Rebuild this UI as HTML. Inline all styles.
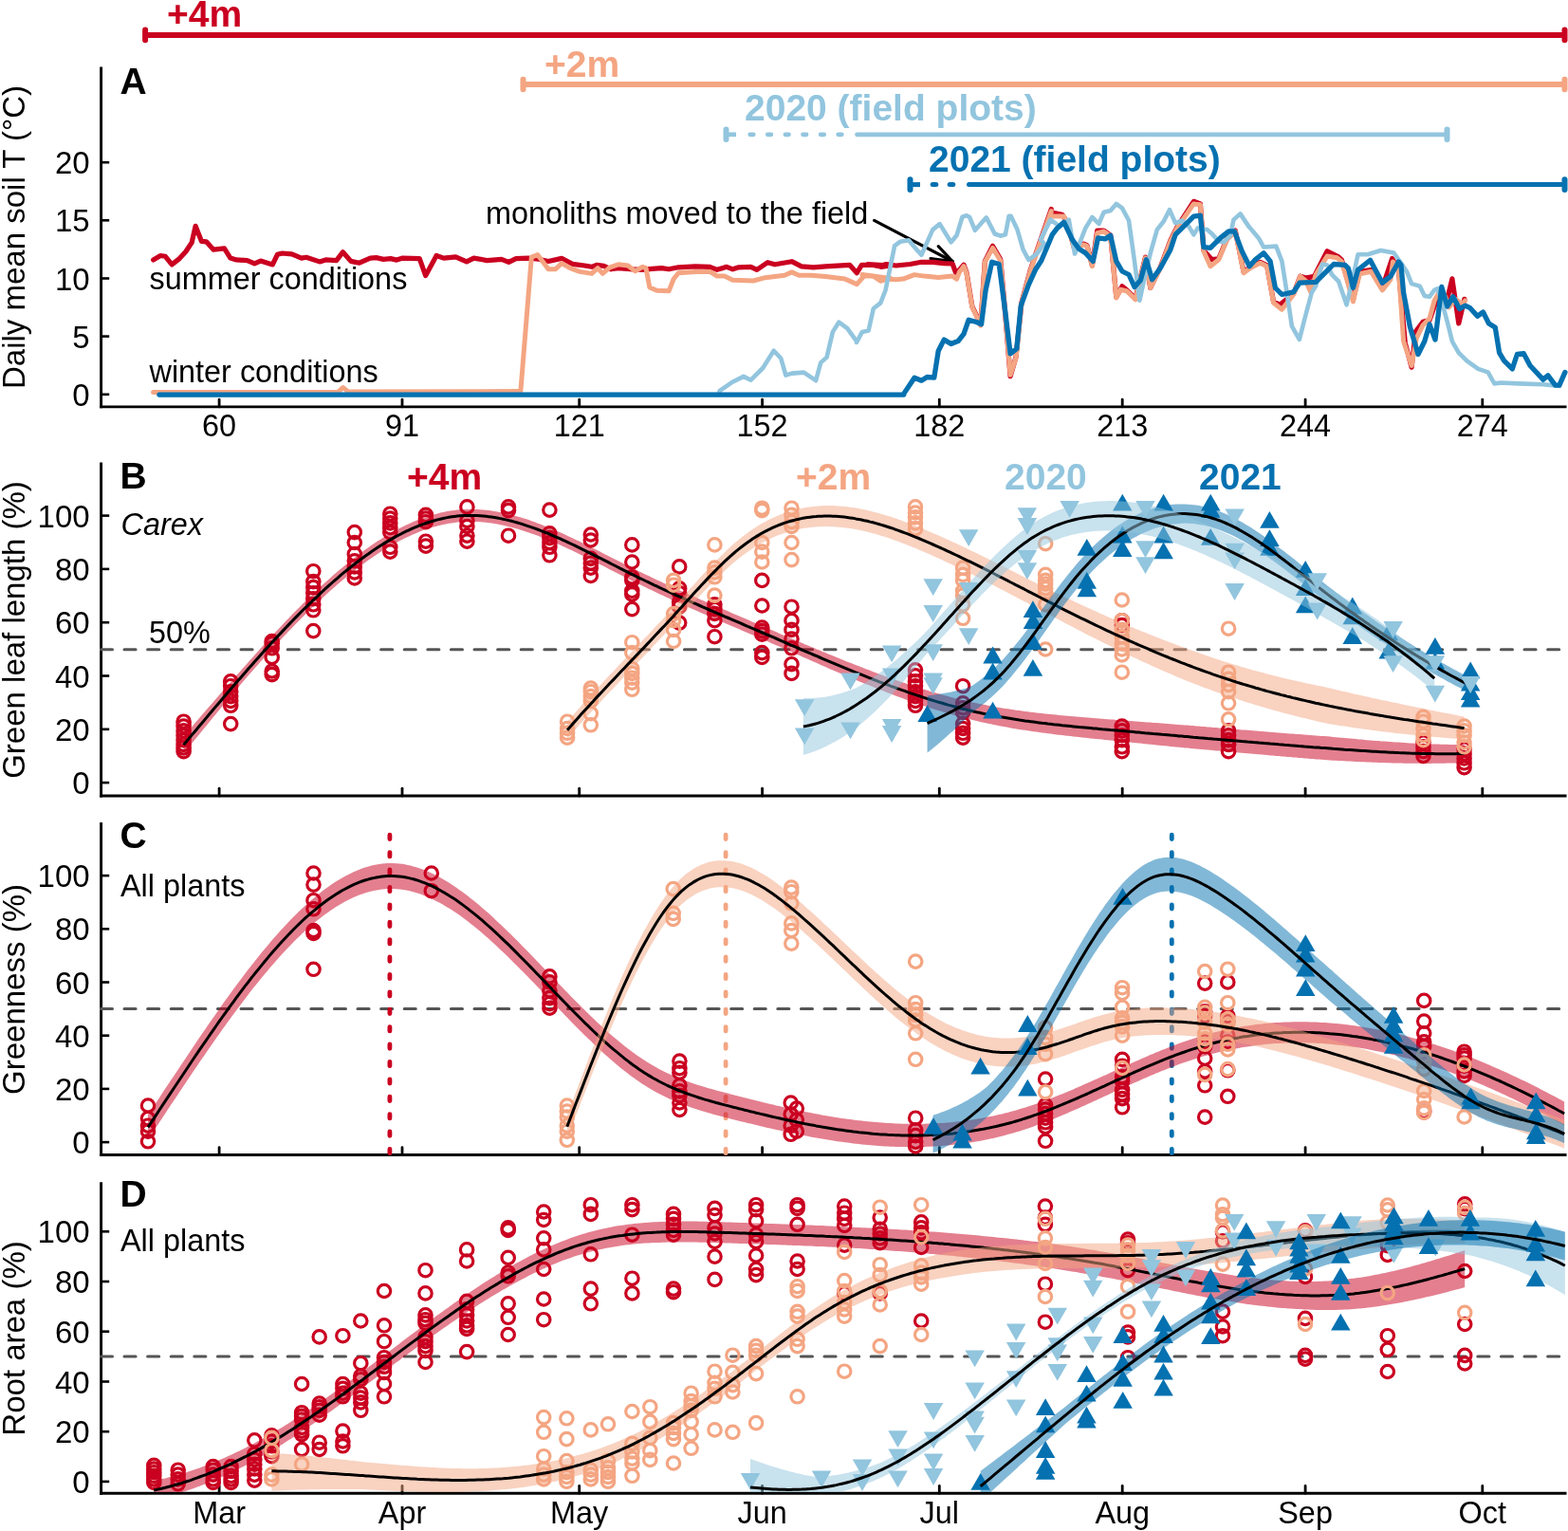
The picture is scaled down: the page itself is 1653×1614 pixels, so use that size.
<!DOCTYPE html>
<html><head><meta charset="utf-8"><title>Figure</title>
<style>html,body{margin:0;padding:0;background:#fff;}svg{display:block;}</style></head>
<body>
<svg width="1653" height="1614" viewBox="0 0 1653 1614" font-family='"Liberation Sans", Arial, Helvetica, sans-serif'>
<rect width="100%" height="100%" fill="#fff"/>
<defs><clipPath id="cB"><rect x="108" y="480" width="1545" height="358"/></clipPath><clipPath id="cC"><rect x="108" y="860" width="1545" height="356"/></clipPath><clipPath id="cD"><rect x="108" y="1240" width="1545" height="333"/></clipPath></defs>
<line x1="153.1" y1="36.9" x2="1649.5" y2="36.9" stroke="#CA0020" stroke-width="6"/>
<line x1="153.1" y1="31.599999999999998" x2="153.1" y2="42.2" stroke="#CA0020" stroke-width="6" stroke-linecap="round"/>
<line x1="1649.5" y1="31.599999999999998" x2="1649.5" y2="42.2" stroke="#CA0020" stroke-width="6" stroke-linecap="round"/>
<line x1="551.5" y1="89.0" x2="1649.5" y2="89.0" stroke="#F4A582" stroke-width="6"/>
<line x1="551.5" y1="83.7" x2="551.5" y2="94.3" stroke="#F4A582" stroke-width="6" stroke-linecap="round"/>
<line x1="1649.5" y1="83.7" x2="1649.5" y2="94.3" stroke="#F4A582" stroke-width="6" stroke-linecap="round"/>
<line x1="765.5" y1="141.8" x2="776" y2="141.8" stroke="#92C5DE" stroke-width="4.7"/>
<line x1="790.7" y1="141.8" x2="794.3" y2="141.8" stroke="#92C5DE" stroke-width="4.7" stroke-linecap="round"/>
<line x1="809.3000000000001" y1="141.8" x2="812.9" y2="141.8" stroke="#92C5DE" stroke-width="4.7" stroke-linecap="round"/>
<line x1="827.9000000000001" y1="141.8" x2="831.5" y2="141.8" stroke="#92C5DE" stroke-width="4.7" stroke-linecap="round"/>
<line x1="846.5" y1="141.8" x2="850.0999999999999" y2="141.8" stroke="#92C5DE" stroke-width="4.7" stroke-linecap="round"/>
<line x1="865.1" y1="141.8" x2="868.6999999999999" y2="141.8" stroke="#92C5DE" stroke-width="4.7" stroke-linecap="round"/>
<line x1="883.7" y1="141.8" x2="887.3" y2="141.8" stroke="#92C5DE" stroke-width="4.7" stroke-linecap="round"/>
<line x1="903.5" y1="141.8" x2="1525.5" y2="141.8" stroke="#92C5DE" stroke-width="4.7" stroke-linecap="round"/>
<line x1="765.5" y1="136.5" x2="765.5" y2="147.10000000000002" stroke="#92C5DE" stroke-width="6" stroke-linecap="round"/>
<line x1="1525.5" y1="136.5" x2="1525.5" y2="147.10000000000002" stroke="#92C5DE" stroke-width="6" stroke-linecap="round"/>
<line x1="959.5" y1="194.6" x2="970" y2="194.6" stroke="#0571B0" stroke-width="5"/>
<line x1="983.2" y1="194.6" x2="986.8" y2="194.6" stroke="#0571B0" stroke-width="5" stroke-linecap="round"/>
<line x1="1001.2" y1="194.6" x2="1004.8" y2="194.6" stroke="#0571B0" stroke-width="5" stroke-linecap="round"/>
<line x1="1021.5" y1="194.6" x2="1649.5" y2="194.6" stroke="#0571B0" stroke-width="5" stroke-linecap="round"/>
<line x1="959.5" y1="189.29999999999998" x2="959.5" y2="199.9" stroke="#0571B0" stroke-width="6" stroke-linecap="round"/>
<line x1="1649.5" y1="189.29999999999998" x2="1649.5" y2="199.9" stroke="#0571B0" stroke-width="6" stroke-linecap="round"/>
<text x="176" y="28.4" font-size="39" font-weight="bold" text-anchor="start" fill="#CA0020">+4m</text>
<text x="574" y="81.1" font-size="39" font-weight="bold" text-anchor="start" fill="#F4A582">+2m</text>
<text x="785" y="127.3" font-size="39" font-weight="bold" text-anchor="start" fill="#92C5DE">2020 (field plots)</text>
<text x="979" y="180.5" font-size="39" font-weight="bold" text-anchor="start" fill="#0571B0">2021 (field plots)</text>
<line x1="106.6" y1="70.5" x2="106.6" y2="430.34999999999997" stroke="#000" stroke-width="2.9"/>
<line x1="105.14999999999999" y1="428.9" x2="1651.5" y2="428.9" stroke="#000" stroke-width="2.9"/>
<line x1="106.6" y1="415.8" x2="115.2" y2="415.8" stroke="#000" stroke-width="2.6"/>
<text x="94.6" y="427.8" font-size="33" font-weight="normal" text-anchor="end" fill="#000">0</text>
<line x1="106.6" y1="354.6" x2="115.2" y2="354.6" stroke="#000" stroke-width="2.6"/>
<text x="94.6" y="366.6" font-size="33" font-weight="normal" text-anchor="end" fill="#000">5</text>
<line x1="106.6" y1="293.5" x2="115.2" y2="293.5" stroke="#000" stroke-width="2.6"/>
<text x="94.6" y="305.5" font-size="33" font-weight="normal" text-anchor="end" fill="#000">10</text>
<line x1="106.6" y1="232.3" x2="115.2" y2="232.3" stroke="#000" stroke-width="2.6"/>
<text x="94.6" y="244.3" font-size="33" font-weight="normal" text-anchor="end" fill="#000">15</text>
<line x1="106.6" y1="171.2" x2="115.2" y2="171.2" stroke="#000" stroke-width="2.6"/>
<text x="94.6" y="183.2" font-size="33" font-weight="normal" text-anchor="end" fill="#000">20</text>
<line x1="231.1" y1="428.9" x2="231.1" y2="421.09999999999997" stroke="#000" stroke-width="2.8" stroke-linecap="round"/>
<line x1="424" y1="428.9" x2="424" y2="421.09999999999997" stroke="#000" stroke-width="2.8" stroke-linecap="round"/>
<line x1="610.7" y1="428.9" x2="610.7" y2="421.09999999999997" stroke="#000" stroke-width="2.8" stroke-linecap="round"/>
<line x1="803.6" y1="428.9" x2="803.6" y2="421.09999999999997" stroke="#000" stroke-width="2.8" stroke-linecap="round"/>
<line x1="990.3" y1="428.9" x2="990.3" y2="421.09999999999997" stroke="#000" stroke-width="2.8" stroke-linecap="round"/>
<line x1="1183.2" y1="428.9" x2="1183.2" y2="421.09999999999997" stroke="#000" stroke-width="2.8" stroke-linecap="round"/>
<line x1="1376.1" y1="428.9" x2="1376.1" y2="421.09999999999997" stroke="#000" stroke-width="2.8" stroke-linecap="round"/>
<line x1="1562.8" y1="428.9" x2="1562.8" y2="421.09999999999997" stroke="#000" stroke-width="2.8" stroke-linecap="round"/>
<text x="231.1" y="459.9" font-size="32.4" font-weight="normal" text-anchor="middle" fill="#000">60</text>
<text x="424" y="459.9" font-size="32.4" font-weight="normal" text-anchor="middle" fill="#000">91</text>
<text x="610.7" y="459.9" font-size="32.4" font-weight="normal" text-anchor="middle" fill="#000">121</text>
<text x="803.6" y="459.9" font-size="32.4" font-weight="normal" text-anchor="middle" fill="#000">152</text>
<text x="990.3" y="459.9" font-size="32.4" font-weight="normal" text-anchor="middle" fill="#000">182</text>
<text x="1183.2" y="459.9" font-size="32.4" font-weight="normal" text-anchor="middle" fill="#000">213</text>
<text x="1376.1" y="459.9" font-size="32.4" font-weight="normal" text-anchor="middle" fill="#000">244</text>
<text x="1562.8" y="459.9" font-size="32.4" font-weight="normal" text-anchor="middle" fill="#000">274</text>
<text x="126.5" y="99" font-size="39" font-weight="bold" text-anchor="start" fill="#000">A</text>
<text x="0" y="0" font-size="33" text-anchor="middle" transform="translate(26,250) rotate(-90)">Daily mean soil T (°C)</text>
<text x="157.5" y="304.6" font-size="32.4" font-weight="normal" text-anchor="start" fill="#000">summer conditions</text>
<text x="157.5" y="403.4" font-size="32.4" font-weight="normal" text-anchor="start" fill="#000">winter conditions</text>
<text x="512" y="235.9" font-size="32.4" font-weight="normal" text-anchor="start" fill="#000">monoliths moved to the field</text>
<g stroke="#000" stroke-width="3.2" fill="none" stroke-linecap="round" stroke-linejoin="round"><line x1="921.6" y1="232.4" x2="1004.1" y2="275.5"/><polyline points="989.2,259.6 1004.1,275.5 981,272.5"/></g>
<polyline points="161.6,273.9 169.2,269.5 174.3,270.3 181.2,278.9 188.3,273.4 195.9,265.2 202.2,255.6 206.1,238.3 212.4,254.3 217.5,254.8 225.1,263.2 236.5,261.9 242.9,272.1 249.2,273.9 260.7,274.6 268.3,277.9 274.7,275.1 287.4,278.9 292.4,268.3 297.5,267 307.7,267.8 317.8,272.1 322.9,271.3 336.9,275.9 343.3,273.9 354.7,274.6 361.5,265.7 369.9,275.4 378.8,277.2 390.3,272.1 396.6,271.6 404.2,273.4 411.8,272.6 418.2,274.1 424.6,272.1 442.3,272.6 448.7,290.6 460.1,269.5 467.7,272.1 480.4,270.8 491.9,275.9 499.5,272.1 513.5,274.6 528.7,273.4 536.3,276.4 544,272.6 556.7,272.1 567.9,273.2 578.1,275.5 592.1,272.4 603.5,278.3 616.2,280 623.8,281.3 628.9,279.3 636.5,280.3 644.2,283.8 651.8,282.6 667,283.8 677.2,284.3 687.4,283.3 697.5,282.6 705.1,283.8 715.3,281.8 733.1,280.8 748.3,281.3 756,284.3 766.1,281.3 772.5,283.8 778.8,281.8 791.5,281.3 797.9,284.3 809.3,276.7 816.9,278.8 834.7,275.7 844.9,280.8 857.6,281.8 870.3,280.8 895.7,279.3 903.3,287.7 908.4,279.3 921.1,279.3 928.7,281.3 938.9,280 914.9,278.5 926.8,280.7 934.2,278.5 944.6,280 959.5,278.5 971.4,276.3 983.3,276.3 995.2,277.7 1004.1,278 1007.4,287 1010.8,285.2 1016,279.2 1019,287.4 1024.9,323.1 1030.9,335.7 1033.8,342.4 1038.3,275.5 1046.5,259.2 1054.7,273.3 1059.1,323.1 1065.1,396.7 1071,376.6 1077,318.6 1085.9,285.9 1093.3,263.6 1108.2,220.5 1107.5,223.7 1119.8,226.3 1125.1,234.2 1132.1,260.5 1142.6,257 1146.1,258.8 1151.4,279.8 1156.7,243 1163.7,243 1170.7,248.2 1176.8,313.2 1183,301.8 1188.2,306.1 1197,314.9 1207.5,271.1 1212.8,303.5 1223.3,281.6 1233.9,253.5 1240.9,239.5 1258.4,212.3 1265.4,214.9 1268.9,264 1277.7,273.7 1284.7,272.8 1293.5,251.8 1302.3,243 1311.1,286.8 1318.1,281.6 1328.6,276.3 1335.6,279.8 1342.6,318.4 1349.6,321.1 1363.7,309.6 1370.7,291.2 1376.8,293.1 1385.4,291.4 1399.1,264.8 1411.1,270.8 1414.5,274.2 1426.5,315.3 1433.3,286.2 1445.3,284.5 1457.3,303.3 1467.6,272.5 1474.4,284.5 1481.3,361.6 1488.1,387.2 1492.4,349.6 1500.1,339.3 1507,337.6 1517.2,308.5 1524.1,322.2 1530.9,293.9 1537.8,341 1543.8,315.3" fill="none" stroke="#CA0020" stroke-width="5.2" stroke-linejoin="round" stroke-linecap="round"/>
<polyline points="161.6,413.6 356,413.6 361.5,408.5 367.4,413.1 546.5,412.6 548.9,412.1 560.3,271.1 566.7,268.6 578.1,283.8 585.7,283.8 592.1,277.5 601,282.6 611.1,286.4 623.8,288.4 630.2,282.6 635.3,288.4 642.9,281.8 651.8,278.8 662,280 669.6,285.9 677.2,281.3 681,282.6 684.8,302.9 692.4,306.2 705.1,306.7 710.2,294 715.3,287.7 733.1,286.4 748.3,286.4 756,291 763.6,291 772.5,295.3 794.1,296 806.8,292.7 827.1,290.2 834.7,286.9 842.3,290.2 855,290.2 870.3,291.5 890.6,294 903.3,299.6 910.9,291 921.1,291 928.7,296 938.9,293.5 908.9,289.6 920.8,291.1 928.3,296.3 934.2,294.1 944.6,294.8 952.1,294.1 964,289.6 974.4,291.1 989.2,292.6 1004.1,291.1 1008.6,294.1 1011.5,286.7 1016,280.7 1019,288.2 1024.9,323.8 1030.9,336.5 1033.8,343.2 1038.3,276.3 1046.5,261.4 1054.7,274.8 1059.1,323.8 1065.1,395.2 1071,377.4 1077,319.4 1085.9,286.7 1093.3,264.4 1108.2,222.7 1107.5,228.1 1121.6,228.1 1125.1,235.1 1132.1,261.4 1142.6,257.9 1146.1,259.6 1151.4,280.7 1156.7,245.6 1163.7,243.9 1170.7,249.1 1176.8,314 1181.2,305.3 1188.2,307 1197,315.8 1207.5,271.9 1212.8,303.5 1223.3,282.5 1233.9,254.4 1240.9,240.4 1258.4,214.9 1265.4,215.8 1268.9,264.9 1276,280.7 1284.7,273.7 1293.5,252.6 1302.3,243.9 1311.1,287.7 1318.1,282.5 1328.6,277.2 1335.6,280.7 1342.6,319.3 1351.4,326.3 1363.7,310.5 1370.7,291.2 1376.8,296.5 1382,308.5 1387.1,289.6 1399.1,270 1409.4,271.7 1414.5,276 1426.5,317.9 1433.3,288.8 1445.3,286.2 1457.3,305.9 1465.9,294.8 1468.4,276 1474.4,284.5 1479.6,359.8 1488.1,385.5 1493.3,356.4 1500.1,342.7 1507,335.9 1512.1,317 1518.9,305.1 1524.1,313.6 1527.5,323.9 1534.4,315.3 1541.2,320.5 1544.6,317" fill="none" stroke="#F4A582" stroke-width="5.0" stroke-linejoin="round" stroke-linecap="round"/>
<polyline points="168,416.1 758.5,416 758.5,412.1 771.2,403.3 783.9,396.9 791.5,400.7 804.2,388 815.7,369.7 823.3,377.8 828.4,395.6 834.7,393.6 847.4,392.6 860.1,401.2 865.2,382.4 871.6,376.6 877.9,349.9 884.3,339.7 893.2,346.1 903.3,360.1 903,361 908.9,349.9 915.6,348.4 920.8,325.3 928.3,319.4 933.5,306 943.1,259.2 949.1,254.7 958,253.2 966.2,262.9 971.4,268.8 983.3,242.1 990.7,236.1 1002.6,255.4 1008.6,248 1014.5,228.7 1019,227.2 1022,228.7 1027.9,242.8 1033.8,236.1 1039.8,229.4 1048.7,246.5 1054.7,248.7 1059.9,247.3 1063.6,227.9 1065.8,227.9 1072.5,242.1 1078.5,262.9 1084.4,274 1093.3,267.3 1100.8,256.9 1097,252.6 1107.5,231.6 1117.2,238.6 1126.8,231.6 1133,267.5 1138.2,256.1 1144.4,240.4 1151.4,228.9 1158.4,236 1163.7,223.7 1170.7,221.9 1176.8,214.9 1183,219.3 1190,232.5 1195.3,270.2 1201.4,316.7 1205.8,296.5 1212.8,266.7 1219.8,242.1 1226.8,233.3 1233,221.1 1239.1,235.1 1246.1,232.5 1253.2,238.6 1258.4,247.4 1262.8,240.4 1272.5,242.1 1277.7,246.5 1284.7,254.4 1290,255.3 1297,248.2 1300.5,231.6 1307.5,225.4 1316.3,238.6 1326.8,250.9 1332.1,260.5 1345.3,259.6 1351.4,275.4 1356.7,308.8 1361.9,343.9 1369.8,357.9 1376.8,330.7 1382.8,308.5 1387.1,301.6 1394,278.5 1399.1,279.4 1404.2,289.6 1411.1,296.5 1419.6,321.3 1426.5,291.4 1431.6,268.2 1441.9,268.2 1455.6,264 1469.3,266.5 1476.1,276 1483,286.2 1488.1,299.1 1496.7,301.6 1501.8,311.9 1507,312.8 1512.1,305.9 1515.5,304.2 1520.7,320.5 1525.8,339.3 1530.9,359.8 1537.8,371.8 1546.3,380.4 1558.3,388.9 1568.6,392.4 1575.4,404.4 1582.3,403.5 1601.1,404.4 1626.8,405.2 1643.9,406.9" fill="none" stroke="#92C5DE" stroke-width="4.6" stroke-linejoin="round" stroke-linecap="round"/>
<polyline points="167.9,416.1 560,416.1 952.9,416 952.1,416.1 964,398.2 971.4,401.2 977.3,397.5 984.8,398.2 989.2,370 995.2,358.1 1002.6,362.5 1010.1,359.5 1016,352.1 1021.2,337.2 1029.4,339.5 1034.6,341.7 1039.1,306 1045.7,276.3 1053.2,278.5 1059.9,329.8 1065.1,372.9 1071.8,367.7 1076.2,322.4 1084.4,300.1 1091.9,283.7 1097.8,274.8 1109.3,247.4 1114.6,240.4 1121.6,234.2 1130.4,252.6 1137.4,262.3 1144.4,266.7 1152.3,275.4 1157.5,250.9 1165.4,251.8 1170.7,248.2 1176.8,275.4 1183,286 1190,289.5 1196.1,302.6 1202.3,295.6 1208.4,273.7 1214.6,294.7 1223.3,282.5 1233.9,263.2 1239.1,247.4 1246.1,240.4 1258.4,228.1 1265.4,227.2 1268.9,260.5 1276,261.4 1286.5,250.9 1295.3,243.9 1301.4,243.9 1309.3,264.9 1317.2,280.7 1323.3,273.7 1332.1,266.7 1339.1,275.4 1344.4,303.5 1351.4,310.5 1363.7,307.9 1370,298.2 1387.1,297.4 1397.4,287.1 1406,278.5 1417.9,279.4 1421.4,282.8 1426.5,303.3 1431.6,284.5 1444.5,274.2 1457.3,298.2 1465.9,291.4 1474.4,276 1477,279.4 1479.6,308.5 1486.4,344.4 1495,373.5 1501.8,359.8 1507,341.9 1513,358.1 1519.8,302.5 1525.8,323 1531.8,312.8 1538.6,325.6 1544.6,322.2 1549.8,324.7 1557.5,333.3 1563.5,329 1569.5,341 1576.3,345.3 1580.6,371.8 1585.7,380.4 1594.3,388.9 1599.4,373.5 1606.3,372.7 1613.1,385.5 1626.8,400.1 1631.9,395.8 1639.6,406.1 1643.9,406.1 1649.9,392.4" fill="none" stroke="#0571B0" stroke-width="5.3" stroke-linejoin="round" stroke-linecap="round"/>
<line x1="106.6" y1="487.5" x2="106.6" y2="840.45" stroke="#000" stroke-width="2.9"/>
<line x1="105.14999999999999" y1="839" x2="1651.5" y2="839" stroke="#000" stroke-width="2.9"/>
<line x1="106.6" y1="825.1" x2="115.2" y2="825.1" stroke="#000" stroke-width="2.6"/>
<text x="94.6" y="837.1" font-size="33" font-weight="normal" text-anchor="end" fill="#000">0</text>
<line x1="106.6" y1="768.8" x2="115.2" y2="768.8" stroke="#000" stroke-width="2.6"/>
<text x="94.6" y="780.8" font-size="33" font-weight="normal" text-anchor="end" fill="#000">20</text>
<line x1="106.6" y1="712.5" x2="115.2" y2="712.5" stroke="#000" stroke-width="2.6"/>
<text x="94.6" y="724.5" font-size="33" font-weight="normal" text-anchor="end" fill="#000">40</text>
<line x1="106.6" y1="656.2" x2="115.2" y2="656.2" stroke="#000" stroke-width="2.6"/>
<text x="94.6" y="668.2" font-size="33" font-weight="normal" text-anchor="end" fill="#000">60</text>
<line x1="106.6" y1="599.9" x2="115.2" y2="599.9" stroke="#000" stroke-width="2.6"/>
<text x="94.6" y="611.9" font-size="33" font-weight="normal" text-anchor="end" fill="#000">80</text>
<line x1="106.6" y1="543.6" x2="115.2" y2="543.6" stroke="#000" stroke-width="2.6"/>
<text x="94.6" y="555.6" font-size="33" font-weight="normal" text-anchor="end" fill="#000">100</text>
<line x1="231.1" y1="839" x2="231.1" y2="831.2" stroke="#000" stroke-width="2.8" stroke-linecap="round"/>
<line x1="424" y1="839" x2="424" y2="831.2" stroke="#000" stroke-width="2.8" stroke-linecap="round"/>
<line x1="610.7" y1="839" x2="610.7" y2="831.2" stroke="#000" stroke-width="2.8" stroke-linecap="round"/>
<line x1="803.6" y1="839" x2="803.6" y2="831.2" stroke="#000" stroke-width="2.8" stroke-linecap="round"/>
<line x1="990.3" y1="839" x2="990.3" y2="831.2" stroke="#000" stroke-width="2.8" stroke-linecap="round"/>
<line x1="1183.2" y1="839" x2="1183.2" y2="831.2" stroke="#000" stroke-width="2.8" stroke-linecap="round"/>
<line x1="1376.1" y1="839" x2="1376.1" y2="831.2" stroke="#000" stroke-width="2.8" stroke-linecap="round"/>
<line x1="1562.8" y1="839" x2="1562.8" y2="831.2" stroke="#000" stroke-width="2.8" stroke-linecap="round"/>
<text x="126.5" y="514.6" font-size="39" font-weight="bold" text-anchor="start" fill="#000">B</text>
<text x="127.5" y="563.7" font-size="32.4" font-weight="normal" text-anchor="start" fill="#000" font-style="italic">Carex</text>
<text x="157" y="677.8" font-size="32.4" font-weight="normal" text-anchor="start" fill="#000">50%</text>
<text x="0" y="0" font-size="33" text-anchor="middle" transform="translate(26,664) rotate(-90)">Green leaf length (%)</text>
<line x1="106.4" y1="684.8" x2="1650" y2="684.8" stroke="#555" stroke-width="3" stroke-dasharray="12.1 12.5" stroke-linecap="round"/>
<text x="429" y="516.3" font-size="39" font-weight="bold" text-anchor="start" fill="#CA0020">+4m</text>
<text x="839" y="516.3" font-size="39" font-weight="bold" text-anchor="start" fill="#F4A582">+2m</text>
<text x="1059" y="516.3" font-size="39" font-weight="bold" text-anchor="start" fill="#92C5DE">2020</text>
<text x="1264" y="516.3" font-size="39" font-weight="bold" text-anchor="start" fill="#0571B0">2021</text>
<polygon points="193.6,776.2 196.6,772.7 199.6,769.2 202.6,765.7 205.6,762.2 208.6,758.7 211.6,755.3 214.6,751.8 217.6,748.3 220.6,744.8 223.6,741.4 226.6,737.9 229.6,734.5 232.6,731 235.7,727.6 238.7,724.2 241.7,720.8 244.7,717.3 247.7,714 250.7,710.6 253.7,707.2 256.7,703.8 259.7,700.5 262.7,697.1 265.7,693.7 268.7,690.3 271.7,686.9 274.7,683.6 277.7,680.2 280.8,676.9 283.8,673.6 286.8,670.4 289.8,667.1 292.8,663.9 295.8,660.7 298.8,657.5 301.8,654.3 304.8,651.2 307.8,648.1 310.8,645 313.8,642 316.8,638.9 319.8,636 322.9,633 325.9,630.1 328.9,627.1 331.9,624.3 334.9,621.4 337.9,618.6 340.9,615.8 343.9,613.1 346.9,610.4 349.9,607.7 352.9,605.1 355.9,602.5 358.9,600 361.9,597.4 364.9,595 368,592.5 371,590.1 374,587.8 377,585.5 380,583.2 383,581 386,578.8 389,576.7 392,574.6 395,572.6 398,570.6 401,568.7 404,566.8 407,564.9 410,563.2 413.1,561.4 416.1,559.7 419.1,558.1 422.1,556.5 425.1,555 428.1,553.6 431.1,552.2 434.1,550.8 437.1,549.5 440.1,548.3 443.1,547.1 446.1,546 449.1,544.9 452.1,544 455.2,543 458.2,542.2 461.2,541.4 464.2,540.6 467.2,540 470.2,539.3 473.2,538.8 476.2,538.3 479.2,537.9 482.2,537.6 485.2,537.3 488.2,537.1 491.2,537 494.2,536.9 497.2,536.9 500.3,536.9 503.3,537.1 506.3,537.2 509.3,537.5 512.3,537.8 515.3,538.1 518.3,538.5 521.3,539 524.3,539.5 527.3,540 530.3,540.6 533.3,541.3 536.3,542 539.3,542.8 542.3,543.5 545.4,544.4 548.4,545.3 551.4,546.2 554.4,547.1 557.4,548.1 560.4,549.2 563.4,550.3 566.4,551.4 569.4,552.5 572.4,553.7 575.4,554.9 578.4,556.1 581.4,557.3 584.4,558.6 587.5,559.9 590.5,561.3 593.5,562.6 596.5,564 599.5,565.4 602.5,566.8 605.5,568.2 608.5,569.7 611.5,571.1 614.5,572.6 617.5,574.1 620.5,575.6 623.5,577.1 626.5,578.6 629.5,580.1 632.6,581.6 635.6,583.2 638.6,584.7 641.6,586.2 644.6,587.7 647.6,589.3 650.6,590.8 653.6,592.3 656.6,593.8 659.6,595.4 662.6,596.9 665.6,598.4 668.6,599.8 671.6,601.3 674.6,602.8 677.7,604.2 680.7,605.7 683.7,607.1 686.7,608.5 689.7,610 692.7,611.4 695.7,612.8 698.7,614.2 701.7,615.5 704.7,616.9 707.7,618.3 710.7,619.6 713.7,621 716.7,622.4 719.8,623.7 722.8,625 725.8,626.4 728.8,627.7 731.8,629 734.8,630.3 737.8,631.7 740.8,633 743.8,634.3 746.8,635.6 749.8,636.9 752.8,638.2 755.8,639.5 758.8,640.8 761.8,642.1 764.9,643.3 767.9,644.6 770.9,645.9 773.9,647.2 776.9,648.5 779.9,649.8 782.9,651.1 785.9,652.3 788.9,653.6 791.9,654.9 794.9,656.2 797.9,657.5 800.9,658.8 803.9,660.1 806.9,661.4 810,662.7 813,664 816,665.3 819,666.6 822,667.9 825,669.2 828,670.5 831,671.8 834,673 837,674.3 840,675.6 843,676.8 846,678.1 849,679.4 852,680.6 855.1,681.9 858.1,683.1 861.1,684.4 864.1,685.6 867.1,686.9 870.1,688.1 873.1,689.4 876.1,690.6 879.1,691.8 882.1,693.1 885.1,694.3 888.1,695.5 891.1,696.7 894.1,697.9 897.2,699.1 900.2,700.3 903.2,701.5 906.2,702.6 909.2,703.8 912.2,705 915.2,706.1 918.2,707.3 921.2,708.4 924.2,709.5 927.2,710.7 930.2,711.8 933.2,712.9 936.2,714 939.2,715 942.3,716.1 945.3,717.2 948.3,718.2 951.3,719.2 954.3,720.3 957.3,721.3 960.3,722.3 963.3,723.3 966.3,724.2 969.3,725.2 972.3,726.2 975.3,727.1 978.3,728 981.3,728.9 984.3,729.8 987.4,730.7 990.4,731.6 993.4,732.4 996.4,733.2 999.4,734.1 1002.4,734.9 1005.4,735.7 1008.4,736.4 1011.4,737.2 1014.4,737.9 1017.4,738.6 1020.4,739.3 1023.4,740 1026.4,740.7 1029.5,741.3 1032.5,741.9 1035.5,742.5 1038.5,743.1 1041.5,743.7 1044.5,744.3 1047.5,744.8 1050.5,745.4 1053.5,745.9 1056.5,746.4 1059.5,746.9 1062.5,747.3 1065.5,747.8 1068.5,748.2 1071.5,748.7 1074.6,749.1 1077.6,749.5 1080.6,749.9 1083.6,750.3 1086.6,750.7 1089.6,751 1092.6,751.4 1095.6,751.7 1098.6,752.1 1101.6,752.4 1104.6,752.7 1107.6,753 1110.6,753.3 1113.6,753.6 1116.6,753.9 1119.7,754.2 1122.7,754.5 1125.7,754.8 1128.7,755 1131.7,755.3 1134.7,755.6 1137.7,755.8 1140.7,756.1 1143.7,756.3 1146.7,756.5 1149.7,756.8 1152.7,757 1155.7,757.3 1158.7,757.5 1161.8,757.7 1164.8,758 1167.8,758.2 1170.8,758.4 1173.8,758.6 1176.8,758.9 1179.8,759.1 1182.8,759.3 1185.8,759.6 1188.8,759.8 1191.8,760 1194.8,760.3 1197.8,760.5 1200.8,760.7 1203.8,761 1206.9,761.2 1209.9,761.4 1212.9,761.6 1215.9,761.9 1218.9,762.1 1221.9,762.3 1224.9,762.6 1227.9,762.8 1230.9,763 1233.9,763.3 1236.9,763.5 1239.9,763.7 1242.9,763.9 1245.9,764.2 1248.9,764.4 1252,764.6 1255,764.9 1258,765.1 1261,765.4 1264,765.6 1267,765.9 1270,766.1 1273,766.4 1276,766.6 1279,766.9 1282,767.1 1285,767.4 1288,767.6 1291,767.9 1294.1,768.1 1297.1,768.4 1300.1,768.6 1303.1,768.9 1306.1,769.1 1309.1,769.4 1312.1,769.6 1315.1,769.8 1318.1,770.1 1321.1,770.3 1324.1,770.6 1327.1,770.8 1330.1,771 1333.1,771.3 1336.1,771.5 1339.2,771.8 1342.2,772 1345.2,772.2 1348.2,772.5 1351.2,772.7 1354.2,772.9 1357.2,773.2 1360.2,773.4 1363.2,773.6 1366.2,773.9 1369.2,774.1 1372.2,774.3 1375.2,774.5 1378.2,774.8 1381.2,775 1384.3,775.2 1387.3,775.4 1390.3,775.7 1393.3,775.9 1396.3,776.1 1399.3,776.3 1402.3,776.6 1405.3,776.9 1408.3,777.2 1411.3,777.5 1414.3,777.7 1417.3,778 1420.3,778.3 1423.3,778.6 1426.4,778.8 1429.4,779.1 1432.4,779.4 1435.4,779.6 1438.4,779.9 1441.4,780.2 1444.4,780.4 1447.4,780.7 1450.4,780.9 1453.4,781.1 1456.4,781.4 1459.4,781.6 1462.4,781.8 1465.4,782 1468.4,782.2 1471.5,782.4 1474.5,782.6 1477.5,782.8 1480.5,783 1483.5,783.2 1486.5,783.4 1489.5,783.5 1492.5,783.7 1495.5,783.8 1498.5,784 1501.5,784.1 1504.5,784.2 1507.5,784.3 1510.5,784.4 1513.5,784.5 1516.6,784.6 1519.6,784.7 1522.6,784.8 1525.6,784.8 1528.6,784.9 1531.6,784.9 1534.6,785 1537.6,785 1540.6,785 1543.6,785 1543.6,804 1540.6,804.1 1537.6,804.2 1534.6,804.4 1531.6,804.4 1528.6,804.5 1525.6,804.6 1522.6,804.7 1519.6,804.7 1516.6,804.8 1513.5,804.8 1510.5,804.8 1507.5,804.9 1504.5,804.9 1501.5,804.9 1498.5,804.9 1495.5,804.8 1492.5,804.8 1489.5,804.8 1486.5,804.8 1483.5,804.7 1480.5,804.7 1477.5,804.6 1474.5,804.5 1471.5,804.5 1468.4,804.4 1465.4,804.3 1462.4,804.2 1459.4,804.1 1456.4,804 1453.4,803.9 1450.4,803.8 1447.4,803.7 1444.4,803.6 1441.4,803.4 1438.4,803.3 1435.4,803.2 1432.4,803 1429.4,802.9 1426.4,802.7 1423.3,802.6 1420.3,802.5 1417.3,802.3 1414.3,802.1 1411.3,802 1408.3,801.8 1405.3,801.7 1402.3,801.5 1399.3,801.3 1396.3,801.1 1393.3,800.8 1390.3,800.6 1387.3,800.4 1384.3,800.1 1381.2,799.9 1378.2,799.6 1375.2,799.4 1372.2,799.1 1369.2,798.9 1366.2,798.6 1363.2,798.4 1360.2,798.1 1357.2,797.9 1354.2,797.6 1351.2,797.4 1348.2,797.1 1345.2,796.9 1342.2,796.6 1339.2,796.4 1336.1,796.1 1333.1,795.8 1330.1,795.6 1327.1,795.3 1324.1,795.1 1321.1,794.8 1318.1,794.5 1315.1,794.3 1312.1,794 1309.1,793.7 1306.1,793.5 1303.1,793.2 1300.1,793 1297.1,792.7 1294.1,792.4 1291,792.2 1288,791.9 1285,791.6 1282,791.4 1279,791.1 1276,790.8 1273,790.5 1270,790.3 1267,790 1264,789.7 1261,789.5 1258,789.2 1255,788.9 1252,788.6 1248.9,788.4 1245.9,788.1 1242.9,787.8 1239.9,787.5 1236.9,787.2 1233.9,786.9 1230.9,786.6 1227.9,786.3 1224.9,786 1221.9,785.7 1218.9,785.4 1215.9,785.1 1212.9,784.8 1209.9,784.5 1206.9,784.2 1203.8,783.8 1200.8,783.5 1197.8,783.2 1194.8,782.9 1191.8,782.6 1188.8,782.3 1185.8,782 1182.8,781.7 1179.8,781.4 1176.8,781.1 1173.8,780.8 1170.8,780.5 1167.8,780.2 1164.8,779.9 1161.8,779.6 1158.7,779.3 1155.7,779 1152.7,778.7 1149.7,778.4 1146.7,778.1 1143.7,777.8 1140.7,777.4 1137.7,777.1 1134.7,776.8 1131.7,776.5 1128.7,776.1 1125.7,775.8 1122.7,775.4 1119.7,775.1 1116.6,774.7 1113.6,774.4 1110.6,774 1107.6,773.6 1104.6,773.2 1101.6,772.8 1098.6,772.4 1095.6,772 1092.6,771.6 1089.6,771.2 1086.6,770.7 1083.6,770.3 1080.6,769.8 1077.6,769.4 1074.6,768.9 1071.5,768.4 1068.5,767.9 1065.5,767.4 1062.5,766.8 1059.5,766.3 1056.5,765.7 1053.5,765.2 1050.5,764.6 1047.5,764 1044.5,763.3 1041.5,762.7 1038.5,762.1 1035.5,761.4 1032.5,760.7 1029.5,760 1026.4,759.3 1023.4,758.6 1020.4,757.8 1017.4,757 1014.4,756.3 1011.4,755.4 1008.4,754.6 1005.4,753.8 1002.4,752.9 999.4,752 996.4,751.2 993.4,750.3 990.4,749.3 987.4,748.4 984.3,747.5 981.3,746.5 978.3,745.5 975.3,744.5 972.3,743.5 969.3,742.5 966.3,741.5 963.3,740.4 960.3,739.3 957.3,738.3 954.3,737.2 951.3,736.1 948.3,735 945.3,733.9 942.3,732.7 939.2,731.6 936.2,730.5 933.2,729.3 930.2,728.1 927.2,726.9 924.2,725.8 921.2,724.6 918.2,723.3 915.2,722.1 912.2,720.9 909.2,719.7 906.2,718.4 903.2,717.2 900.2,715.9 897.2,714.7 894.1,713.4 891.1,712.1 888.1,710.9 885.1,709.6 882.1,708.3 879.1,707 876.1,705.7 873.1,704.4 870.1,703.1 867.1,701.8 864.1,700.4 861.1,699.1 858.1,697.8 855.1,696.5 852,695.1 849,693.8 846,692.5 843,691.1 840,689.8 837,688.5 834,687.1 831,685.8 828,684.5 825,683.1 822,681.8 819,680.5 816,679.2 813,677.9 810,676.6 806.9,675.3 803.9,674 800.9,672.7 797.9,671.4 794.9,670.1 791.9,668.8 788.9,667.5 785.9,666.2 782.9,664.9 779.9,663.6 776.9,662.3 773.9,661 770.9,659.7 767.9,658.5 764.9,657.2 761.8,655.9 758.8,654.6 755.8,653.3 752.8,652 749.8,650.7 746.8,649.3 743.8,648 740.8,646.7 737.8,645.4 734.8,644.1 731.8,642.7 728.8,641.4 725.8,640.1 722.8,638.7 719.8,637.4 716.7,636 713.7,634.7 710.7,633.3 707.7,631.9 704.7,630.6 701.7,629.2 698.7,627.8 695.7,626.4 692.7,625 689.7,623.6 686.7,622.1 683.7,620.7 680.7,619.2 677.7,617.8 674.6,616.3 671.6,614.9 668.6,613.4 665.6,611.9 662.6,610.4 659.6,608.9 656.6,607.3 653.6,605.8 650.6,604.3 647.6,602.8 644.6,601.2 641.6,599.7 638.6,598.1 635.6,596.6 632.6,595.1 629.5,593.5 626.5,592 623.5,590.5 620.5,589 617.5,587.5 614.5,586 611.5,584.5 608.5,583 605.5,581.6 602.5,580.1 599.5,578.7 596.5,577.3 593.5,575.9 590.5,574.6 587.5,573.2 584.4,571.9 581.4,570.6 578.4,569.4 575.4,568.1 572.4,566.9 569.4,565.7 566.4,564.6 563.4,563.5 560.4,562.4 557.4,561.4 554.4,560.4 551.4,559.4 548.4,558.5 545.4,557.6 542.3,556.7 539.3,555.9 536.3,555.2 533.3,554.4 530.3,553.8 527.3,553.2 524.3,552.6 521.3,552.1 518.3,551.6 515.3,551.2 512.3,550.8 509.3,550.5 506.3,550.3 503.3,550.1 500.3,550 497.2,549.9 494.2,549.9 491.2,550 488.2,550.1 485.2,550.3 482.2,550.6 479.2,550.9 476.2,551.4 473.2,551.8 470.2,552.4 467.2,553 464.2,553.7 461.2,554.4 458.2,555.3 455.2,556.1 452.1,557.1 449.1,558.1 446.1,559.1 443.1,560.3 440.1,561.5 437.1,562.7 434.1,564 431.1,565.4 428.1,566.8 425.1,568.3 422.1,569.8 419.1,571.4 416.1,573 413.1,574.7 410,576.5 407,578.3 404,580.1 401,582 398,584 395,586 392,588 389,590.1 386,592.3 383,594.4 380,596.7 377,599 374,601.3 371,603.6 368,606 364.9,608.5 361.9,611 358.9,613.5 355.9,616.1 352.9,618.7 349.9,621.3 346.9,624 343.9,626.7 340.9,629.5 337.9,632.3 334.9,635.1 331.9,637.9 328.9,640.8 325.9,643.8 322.9,646.7 319.8,649.7 316.8,652.7 313.8,655.7 310.8,658.8 307.8,661.9 304.8,665 301.8,668.2 298.8,671.3 295.8,674.5 292.8,677.7 289.8,681 286.8,684.3 283.8,687.5 280.8,690.8 277.7,694.2 274.7,697.5 271.7,700.9 268.7,704.3 265.7,707.7 262.7,711.1 259.7,714.5 256.7,718 253.7,721.6 250.7,725.1 247.7,728.7 244.7,732.3 241.7,735.9 238.7,739.5 235.7,743.1 232.6,746.7 229.6,750.3 226.6,754 223.6,757.6 220.6,761.2 217.6,764.9 214.6,768.5 211.6,772.2 208.6,775.9 205.6,779.5 202.6,783.2 199.6,786.8 196.6,790.5 193.6,794.2" fill="#CA0020" fill-opacity="0.5" clip-path="url(#cB)"/>
<g fill="none" stroke="#CA0020" stroke-width="3.2"><circle cx="193.6" cy="760.7" r="6.7"/><circle cx="193.6" cy="765.5" r="6.7"/><circle cx="193.6" cy="770.4" r="6.7"/><circle cx="193.6" cy="775.2" r="6.7"/><circle cx="193.6" cy="780.1" r="6.7"/><circle cx="193.6" cy="784.9" r="6.7"/><circle cx="193.6" cy="788.5" r="6.7"/><circle cx="193.6" cy="792.2" r="6.7"/><circle cx="243.2" cy="718.4" r="6.7"/><circle cx="243.2" cy="723.2" r="6.7"/><circle cx="243.2" cy="729.2" r="6.7"/><circle cx="243.2" cy="734.1" r="6.7"/><circle cx="243.2" cy="738.9" r="6.7"/><circle cx="243.2" cy="743.8" r="6.7"/><circle cx="243.2" cy="763.1" r="6.7"/><circle cx="286.7" cy="676" r="6.7"/><circle cx="286.7" cy="678.4" r="6.7"/><circle cx="286.7" cy="683.3" r="6.7"/><circle cx="286.7" cy="692.9" r="6.7"/><circle cx="286.7" cy="707.5" r="6.7"/><circle cx="286.7" cy="711.1" r="6.7"/><circle cx="330.3" cy="602.2" r="6.7"/><circle cx="330.3" cy="613.1" r="6.7"/><circle cx="330.3" cy="619.1" r="6.7"/><circle cx="330.3" cy="625.2" r="6.7"/><circle cx="330.3" cy="631.2" r="6.7"/><circle cx="330.3" cy="637.3" r="6.7"/><circle cx="330.3" cy="643.3" r="6.7"/><circle cx="330.3" cy="665.1" r="6.7"/><circle cx="373.8" cy="561.1" r="6.7"/><circle cx="373.8" cy="572" r="6.7"/><circle cx="373.8" cy="584.1" r="6.7"/><circle cx="373.8" cy="591.3" r="6.7"/><circle cx="373.8" cy="597.4" r="6.7"/><circle cx="373.8" cy="603.4" r="6.7"/><circle cx="373.8" cy="609.5" r="6.7"/><circle cx="411.3" cy="541.7" r="6.7"/><circle cx="411.3" cy="546.5" r="6.7"/><circle cx="411.3" cy="551.4" r="6.7"/><circle cx="411.3" cy="556.2" r="6.7"/><circle cx="411.3" cy="561.1" r="6.7"/><circle cx="411.3" cy="576.8" r="6.7"/><circle cx="411.3" cy="581.6" r="6.7"/><circle cx="448.9" cy="542.9" r="6.7"/><circle cx="448.9" cy="546.5" r="6.7"/><circle cx="448.9" cy="550.2" r="6.7"/><circle cx="448.9" cy="570.7" r="6.7"/><circle cx="448.9" cy="575.6" r="6.7"/><circle cx="492.4" cy="534.4" r="6.7"/><circle cx="492.4" cy="549" r="6.7"/><circle cx="492.4" cy="555" r="6.7"/><circle cx="492.4" cy="564.7" r="6.7"/><circle cx="492.4" cy="570.7" r="6.7"/><circle cx="536" cy="534.4" r="6.7"/><circle cx="536" cy="538.1" r="6.7"/><circle cx="536" cy="564.7" r="6.7"/><circle cx="579.4" cy="537.6" r="6.7"/><circle cx="579.4" cy="562.3" r="6.7"/><circle cx="579.4" cy="567.1" r="6.7"/><circle cx="579.4" cy="572" r="6.7"/><circle cx="579.4" cy="576.8" r="6.7"/><circle cx="579.4" cy="585.3" r="6.7"/><circle cx="622.8" cy="563.5" r="6.7"/><circle cx="622.8" cy="569.5" r="6.7"/><circle cx="622.8" cy="588.9" r="6.7"/><circle cx="622.8" cy="593.7" r="6.7"/><circle cx="622.8" cy="598.6" r="6.7"/><circle cx="622.8" cy="607" r="6.7"/><circle cx="666.3" cy="574.4" r="6.7"/><circle cx="666.3" cy="592.5" r="6.7"/><circle cx="666.3" cy="608.3" r="6.7"/><circle cx="666.3" cy="611.9" r="6.7"/><circle cx="666.3" cy="622.8" r="6.7"/><circle cx="666.3" cy="626.4" r="6.7"/><circle cx="666.3" cy="642.1" r="6.7"/><circle cx="716.2" cy="597.4" r="6.7"/><circle cx="716.2" cy="620.4" r="6.7"/><circle cx="716.2" cy="625.2" r="6.7"/><circle cx="716.2" cy="634.9" r="6.7"/><circle cx="716.2" cy="639.7" r="6.7"/><circle cx="716.2" cy="656.6" r="6.7"/><circle cx="753.4" cy="637.3" r="6.7"/><circle cx="753.4" cy="642.1" r="6.7"/><circle cx="753.4" cy="647" r="6.7"/><circle cx="753.4" cy="654.2" r="6.7"/><circle cx="753.4" cy="671.2" r="6.7"/><circle cx="803.3" cy="611.9" r="6.7"/><circle cx="803.3" cy="638.5" r="6.7"/><circle cx="803.3" cy="661.5" r="6.7"/><circle cx="803.3" cy="665.1" r="6.7"/><circle cx="803.3" cy="668.7" r="6.7"/><circle cx="803.3" cy="688.1" r="6.7"/><circle cx="803.3" cy="692.9" r="6.7"/><circle cx="834.5" cy="639.7" r="6.7"/><circle cx="834.5" cy="654.2" r="6.7"/><circle cx="834.5" cy="663.9" r="6.7"/><circle cx="834.5" cy="673.6" r="6.7"/><circle cx="834.5" cy="683.3" r="6.7"/><circle cx="834.5" cy="700.2" r="6.7"/><circle cx="834.5" cy="709.9" r="6.7"/><circle cx="965" cy="706.3" r="6.7"/><circle cx="965" cy="712.3" r="6.7"/><circle cx="965" cy="718.4" r="6.7"/><circle cx="965" cy="723.2" r="6.7"/><circle cx="965" cy="729.2" r="6.7"/><circle cx="965" cy="734.1" r="6.7"/><circle cx="965" cy="738.9" r="6.7"/><circle cx="965" cy="743.8" r="6.7"/><circle cx="1015.1" cy="723.2" r="6.7"/><circle cx="1015.1" cy="741.3" r="6.7"/><circle cx="1015.1" cy="746.2" r="6.7"/><circle cx="1015.1" cy="751" r="6.7"/><circle cx="1015.1" cy="763.1" r="6.7"/><circle cx="1015.1" cy="768" r="6.7"/><circle cx="1015.1" cy="772.8" r="6.7"/><circle cx="1015.1" cy="777.6" r="6.7"/><circle cx="1182.8" cy="654.2" r="6.7"/><circle cx="1182.8" cy="659.1" r="6.7"/><circle cx="1182.8" cy="765.5" r="6.7"/><circle cx="1182.8" cy="770.4" r="6.7"/><circle cx="1182.8" cy="775.2" r="6.7"/><circle cx="1182.8" cy="780.1" r="6.7"/><circle cx="1182.8" cy="787.3" r="6.7"/><circle cx="1182.8" cy="792.2" r="6.7"/><circle cx="1295.1" cy="770.4" r="6.7"/><circle cx="1295.1" cy="775.2" r="6.7"/><circle cx="1295.1" cy="780.1" r="6.7"/><circle cx="1295.1" cy="784.9" r="6.7"/><circle cx="1295.1" cy="792.2" r="6.7"/><circle cx="1500.5" cy="782.5" r="6.7"/><circle cx="1500.5" cy="787.3" r="6.7"/><circle cx="1500.5" cy="792.2" r="6.7"/><circle cx="1500.5" cy="797" r="6.7"/><circle cx="1543.6" cy="789.7" r="6.7"/><circle cx="1543.6" cy="794.6" r="6.7"/><circle cx="1543.6" cy="799.4" r="6.7"/><circle cx="1543.6" cy="804.3" r="6.7"/><circle cx="1543.6" cy="809.1" r="6.7"/></g>
<polyline points="193.6,785.2 196.6,781.6 199.6,778 202.6,774.4 205.6,770.9 208.6,767.3 211.6,763.7 214.6,760.2 217.6,756.6 220.6,753 223.6,749.5 226.6,745.9 229.6,742.4 232.6,738.9 235.7,735.3 238.7,731.8 241.7,728.3 244.7,724.8 247.7,721.3 250.7,717.8 253.7,714.4 256.7,710.9 259.7,707.5 262.7,704.1 265.7,700.7 268.7,697.3 271.7,693.9 274.7,690.5 277.7,687.2 280.8,683.9 283.8,680.6 286.8,677.3 289.8,674.1 292.8,670.8 295.8,667.6 298.8,664.4 301.8,661.3 304.8,658.1 307.8,655 310.8,651.9 313.8,648.9 316.8,645.8 319.8,642.8 322.9,639.8 325.9,636.9 328.9,634 331.9,631.1 334.9,628.3 337.9,625.4 340.9,622.7 343.9,619.9 346.9,617.2 349.9,614.5 352.9,611.9 355.9,609.3 358.9,606.7 361.9,604.2 364.9,601.7 368,599.3 371,596.9 374,594.5 377,592.2 380,589.9 383,587.7 386,585.5 389,583.4 392,581.3 395,579.3 398,577.3 401,575.3 404,573.4 407,571.6 410,569.8 413.1,568.1 416.1,566.4 419.1,564.8 422.1,563.2 425.1,561.6 428.1,560.2 431.1,558.8 434.1,557.4 437.1,556.1 440.1,554.9 443.1,553.7 446.1,552.6 449.1,551.5 452.1,550.5 455.2,549.6 458.2,548.7 461.2,547.9 464.2,547.2 467.2,546.5 470.2,545.9 473.2,545.3 476.2,544.8 479.2,544.4 482.2,544.1 485.2,543.8 488.2,543.6 491.2,543.5 494.2,543.4 497.2,543.4 500.3,543.5 503.3,543.6 506.3,543.8 509.3,544 512.3,544.3 515.3,544.7 518.3,545.1 521.3,545.5 524.3,546 527.3,546.6 530.3,547.2 533.3,547.9 536.3,548.6 539.3,549.3 542.3,550.1 545.4,551 548.4,551.9 551.4,552.8 554.4,553.8 557.4,554.8 560.4,555.8 563.4,556.9 566.4,558 569.4,559.1 572.4,560.3 575.4,561.5 578.4,562.7 581.4,564 584.4,565.3 587.5,566.6 590.5,567.9 593.5,569.3 596.5,570.7 599.5,572.1 602.5,573.5 605.5,574.9 608.5,576.3 611.5,577.8 614.5,579.3 617.5,580.8 620.5,582.3 623.5,583.8 626.5,585.3 629.5,586.8 632.6,588.3 635.6,589.9 638.6,591.4 641.6,592.9 644.6,594.5 647.6,596 650.6,597.5 653.6,599.1 656.6,600.6 659.6,602.1 662.6,603.6 665.6,605.1 668.6,606.6 671.6,608.1 674.6,609.6 677.7,611 680.7,612.5 683.7,613.9 686.7,615.3 689.7,616.8 692.7,618.2 695.7,619.6 698.7,621 701.7,622.4 704.7,623.7 707.7,625.1 710.7,626.5 713.7,627.8 716.7,629.2 719.8,630.5 722.8,631.9 725.8,633.2 728.8,634.6 731.8,635.9 734.8,637.2 737.8,638.5 740.8,639.8 743.8,641.2 746.8,642.5 749.8,643.8 752.8,645.1 755.8,646.4 758.8,647.7 761.8,649 764.9,650.3 767.9,651.5 770.9,652.8 773.9,654.1 776.9,655.4 779.9,656.7 782.9,658 785.9,659.3 788.9,660.6 791.9,661.9 794.9,663.1 797.9,664.4 800.9,665.7 803.9,667 806.9,668.3 810,669.6 813,670.9 816,672.2 819,673.5 822,674.8 825,676.2 828,677.5 831,678.8 834,680.1 837,681.4 840,682.7 843,684 846,685.3 849,686.6 852,687.9 855.1,689.2 858.1,690.5 861.1,691.7 864.1,693 867.1,694.3 870.1,695.6 873.1,696.9 876.1,698.1 879.1,699.4 882.1,700.7 885.1,701.9 888.1,703.2 891.1,704.4 894.1,705.7 897.2,706.9 900.2,708.1 903.2,709.3 906.2,710.5 909.2,711.7 912.2,712.9 915.2,714.1 918.2,715.3 921.2,716.5 924.2,717.6 927.2,718.8 930.2,719.9 933.2,721.1 936.2,722.2 939.2,723.3 942.3,724.4 945.3,725.5 948.3,726.6 951.3,727.7 954.3,728.7 957.3,729.8 960.3,730.8 963.3,731.8 966.3,732.9 969.3,733.8 972.3,734.8 975.3,735.8 978.3,736.8 981.3,737.7 984.3,738.6 987.4,739.6 990.4,740.5 993.4,741.3 996.4,742.2 999.4,743.1 1002.4,743.9 1005.4,744.7 1008.4,745.5 1011.4,746.3 1014.4,747.1 1017.4,747.8 1020.4,748.6 1023.4,749.3 1026.4,750 1029.5,750.7 1032.5,751.3 1035.5,752 1038.5,752.6 1041.5,753.2 1044.5,753.8 1047.5,754.4 1050.5,755 1053.5,755.5 1056.5,756.1 1059.5,756.6 1062.5,757.1 1065.5,757.6 1068.5,758.1 1071.5,758.5 1074.6,759 1077.6,759.4 1080.6,759.9 1083.6,760.3 1086.6,760.7 1089.6,761.1 1092.6,761.5 1095.6,761.9 1098.6,762.3 1101.6,762.6 1104.6,763 1107.6,763.3 1110.6,763.7 1113.6,764 1116.6,764.3 1119.7,764.7 1122.7,765 1125.7,765.3 1128.7,765.6 1131.7,765.9 1134.7,766.2 1137.7,766.5 1140.7,766.7 1143.7,767 1146.7,767.3 1149.7,767.6 1152.7,767.9 1155.7,768.1 1158.7,768.4 1161.8,768.7 1164.8,768.9 1167.8,769.2 1170.8,769.5 1173.8,769.7 1176.8,770 1179.8,770.3 1182.8,770.5 1185.8,770.8 1188.8,771.1 1191.8,771.3 1194.8,771.6 1197.8,771.9 1200.8,772.1 1203.8,772.4 1206.9,772.7 1209.9,772.9 1212.9,773.2 1215.9,773.5 1218.9,773.7 1221.9,774 1224.9,774.3 1227.9,774.5 1230.9,774.8 1233.9,775.1 1236.9,775.3 1239.9,775.6 1242.9,775.9 1245.9,776.1 1248.9,776.4 1252,776.6 1255,776.9 1258,777.2 1261,777.4 1264,777.7 1267,777.9 1270,778.2 1273,778.5 1276,778.7 1279,779 1282,779.2 1285,779.5 1288,779.8 1291,780 1294.1,780.3 1297.1,780.5 1300.1,780.8 1303.1,781 1306.1,781.3 1309.1,781.6 1312.1,781.8 1315.1,782.1 1318.1,782.3 1321.1,782.6 1324.1,782.8 1327.1,783.1 1330.1,783.3 1333.1,783.6 1336.1,783.8 1339.2,784.1 1342.2,784.3 1345.2,784.5 1348.2,784.8 1351.2,785 1354.2,785.3 1357.2,785.5 1360.2,785.8 1363.2,786 1366.2,786.2 1369.2,786.5 1372.2,786.7 1375.2,787 1378.2,787.2 1381.2,787.4 1384.3,787.7 1387.3,787.9 1390.3,788.1 1393.3,788.4 1396.3,788.6 1399.3,788.8 1402.3,789 1405.3,789.3 1408.3,789.5 1411.3,789.7 1414.3,789.9 1417.3,790.2 1420.3,790.4 1423.3,790.6 1426.4,790.8 1429.4,791 1432.4,791.2 1435.4,791.4 1438.4,791.6 1441.4,791.8 1444.4,792 1447.4,792.2 1450.4,792.3 1453.4,792.5 1456.4,792.7 1459.4,792.8 1462.4,793 1465.4,793.2 1468.4,793.3 1471.5,793.4 1474.5,793.6 1477.5,793.7 1480.5,793.8 1483.5,793.9 1486.5,794.1 1489.5,794.2 1492.5,794.2 1495.5,794.3 1498.5,794.4 1501.5,794.5 1504.5,794.5 1507.5,794.6 1510.5,794.6 1513.5,794.7 1516.6,794.7 1519.6,794.7 1522.6,794.7 1525.6,794.7 1528.6,794.7 1531.6,794.7 1534.6,794.7 1537.6,794.6 1540.6,794.6 1543.6,794.5" fill="none" stroke="#000" stroke-width="3" stroke-linejoin="round" stroke-linecap="butt" clip-path="url(#cB)"/>
<polygon points="598.1,760.7 601.1,757.2 604.1,753.8 607.1,750.4 610.1,747 613.1,743.6 616.1,740.3 619.2,737 622.2,733.7 625.2,730.4 628.2,727.1 631.2,723.9 634.2,720.7 637.2,717.4 640.2,714.2 643.2,711 646.3,707.9 649.3,704.7 652.3,701.5 655.3,698.3 658.3,695.2 661.3,692 664.3,688.9 667.3,685.7 670.3,682.5 673.4,679.4 676.4,676.2 679.4,673.1 682.4,669.9 685.4,666.7 688.4,663.5 691.4,660.3 694.4,657.1 697.4,653.9 700.5,650.7 703.5,647.4 706.5,644.1 709.5,640.8 712.5,637.4 715.5,634.1 718.5,630.7 721.5,627.4 724.5,624 727.6,620.6 730.6,617.3 733.6,613.9 736.6,610.6 739.6,607.3 742.6,604.1 745.6,600.8 748.6,597.7 751.7,594.5 754.7,591.4 757.7,588.4 760.7,585.4 763.7,582.5 766.7,579.6 769.7,576.8 772.7,574.1 775.7,571.5 778.8,569 781.8,566.5 784.8,564.2 787.8,561.9 790.8,559.8 793.8,557.7 796.8,555.8 799.8,553.9 802.8,552.1 805.9,550.4 808.9,548.8 811.9,547.3 814.9,545.9 817.9,544.5 820.9,543.2 823.9,542.1 826.9,540.9 829.9,539.9 833,539 836,538.1 839,537.3 842,536.6 845,535.9 848,535.3 851,534.8 854,534.4 857,534 860.1,533.7 863.1,533.4 866.1,533.2 869.1,533.1 872.1,533.1 875.1,533.1 878.1,533.1 881.1,533.2 884.1,533.4 887.2,533.7 890.2,533.9 893.2,534.3 896.2,534.7 899.2,535.1 902.2,535.6 905.2,536.1 908.2,536.7 911.2,537.3 914.3,538 917.3,538.7 920.3,539.4 923.3,540.2 926.3,541 929.3,541.9 932.3,542.8 935.3,543.7 938.4,544.6 941.4,545.6 944.4,546.6 947.4,547.7 950.4,548.8 953.4,549.9 956.4,551 959.4,552.1 962.4,553.3 965.5,554.5 968.5,555.7 971.5,556.9 974.5,558.2 977.5,559.4 980.5,560.7 983.5,562 986.5,563.3 989.5,564.6 992.6,566 995.6,567.3 998.6,568.7 1001.6,570 1004.6,571.4 1007.6,572.8 1010.6,574.2 1013.6,575.6 1016.6,577 1019.7,578.5 1022.7,579.9 1025.7,581.4 1028.7,582.8 1031.7,584.3 1034.7,585.8 1037.7,587.2 1040.7,588.7 1043.7,590.2 1046.8,591.7 1049.8,593.2 1052.8,594.7 1055.8,596.2 1058.8,597.7 1061.8,599.3 1064.8,600.8 1067.8,602.3 1070.8,603.8 1073.9,605.4 1076.9,606.9 1079.9,608.4 1082.9,609.9 1085.9,611.5 1088.9,613 1091.9,614.5 1094.9,616 1097.9,617.6 1101,619.1 1104,620.5 1107,622 1110,623.4 1113,624.9 1116,626.3 1119,627.8 1122,629.2 1125,630.6 1128.1,632.1 1131.1,633.5 1134.1,634.9 1137.1,636.3 1140.1,637.7 1143.1,639.1 1146.1,640.5 1149.1,641.8 1152.2,643.2 1155.2,644.6 1158.2,645.9 1161.2,647.3 1164.2,648.6 1167.2,650 1170.2,651.3 1173.2,652.6 1176.2,653.9 1179.3,655.2 1182.3,656.5 1185.3,657.8 1188.3,659.1 1191.3,660.4 1194.3,661.6 1197.3,662.9 1200.3,664.1 1203.3,665.4 1206.4,666.6 1209.4,667.8 1212.4,669 1215.4,670.2 1218.4,671.4 1221.4,672.6 1224.4,673.8 1227.4,674.9 1230.4,676.1 1233.5,677.2 1236.5,678.3 1239.5,679.5 1242.5,680.6 1245.5,681.7 1248.5,682.8 1251.5,683.9 1254.5,685 1257.5,686.1 1260.6,687.1 1263.6,688.2 1266.6,689.3 1269.6,690.3 1272.6,691.4 1275.6,692.4 1278.6,693.4 1281.6,694.4 1284.6,695.4 1287.7,696.4 1290.7,697.4 1293.7,698.3 1296.7,699.3 1299.7,700.2 1302.7,701.1 1305.7,702 1308.7,702.9 1311.7,703.8 1314.8,704.7 1317.8,705.5 1320.8,706.4 1323.8,707.2 1326.8,708 1329.8,708.8 1332.8,709.6 1335.8,710.4 1338.9,711.2 1341.9,712 1344.9,712.7 1347.9,713.5 1350.9,714.2 1353.9,714.9 1356.9,715.7 1359.9,716.4 1362.9,717.1 1366,717.8 1369,718.4 1372,719.1 1375,719.8 1378,720.4 1381,721.1 1384,721.7 1387,722.3 1390,722.9 1393.1,723.6 1396.1,724.2 1399.1,724.7 1402.1,725.4 1405.1,726.2 1408.1,726.9 1411.1,727.7 1414.1,728.4 1417.1,729.1 1420.2,729.8 1423.2,730.5 1426.2,731.2 1429.2,731.9 1432.2,732.6 1435.2,733.3 1438.2,733.9 1441.2,734.6 1444.2,735.3 1447.3,735.9 1450.3,736.6 1453.3,737.2 1456.3,737.9 1459.3,738.5 1462.3,739.1 1465.3,739.7 1468.3,740.4 1471.3,741 1474.4,741.6 1477.4,742.3 1480.4,742.9 1483.4,743.5 1486.4,744.2 1489.4,744.8 1492.4,745.4 1495.4,746 1498.4,746.6 1501.5,747.3 1504.5,747.9 1507.5,748.5 1510.5,749.1 1513.5,749.7 1516.5,750.3 1519.5,750.9 1522.5,751.5 1525.5,752.1 1528.6,752.6 1531.6,753.2 1534.6,753.8 1537.6,754.4 1540.6,755 1543.6,755.6 1543.6,779.6 1540.6,779.3 1537.6,779.1 1534.6,778.8 1531.6,778.6 1528.6,778.3 1525.5,778 1522.5,777.8 1519.5,777.5 1516.5,777.2 1513.5,777 1510.5,776.7 1507.5,776.4 1504.5,776.1 1501.5,775.9 1498.4,775.6 1495.4,775.3 1492.4,775 1489.4,774.7 1486.4,774.4 1483.4,774.1 1480.4,773.8 1477.4,773.5 1474.4,773.2 1471.3,772.9 1468.3,772.5 1465.3,772.1 1462.3,771.8 1459.3,771.4 1456.3,771 1453.3,770.7 1450.3,770.3 1447.3,769.9 1444.2,769.5 1441.2,769.1 1438.2,768.7 1435.2,768.3 1432.2,767.8 1429.2,767.4 1426.2,767 1423.2,766.5 1420.2,766.1 1417.1,765.6 1414.1,765.2 1411.1,764.7 1408.1,764.2 1405.1,763.8 1402.1,763.3 1399.1,762.7 1396.1,762 1393.1,761.4 1390,760.7 1387,760 1384,759.3 1381,758.6 1378,757.8 1375,757.1 1372,756.4 1369,755.6 1366,754.9 1362.9,754.1 1359.9,753.3 1356.9,752.5 1353.9,751.7 1350.9,750.9 1347.9,750.1 1344.9,749.3 1341.9,748.4 1338.9,747.6 1335.8,746.7 1332.8,745.8 1329.8,745 1326.8,744.1 1323.8,743.2 1320.8,742.3 1317.8,741.3 1314.8,740.4 1311.7,739.4 1308.7,738.5 1305.7,737.5 1302.7,736.5 1299.7,735.5 1296.7,734.5 1293.7,733.5 1290.7,732.5 1287.7,731.4 1284.6,730.3 1281.6,729.3 1278.6,728.2 1275.6,727.1 1272.6,726 1269.6,724.9 1266.6,723.7 1263.6,722.6 1260.6,721.4 1257.5,720.3 1254.5,719.1 1251.5,717.9 1248.5,716.7 1245.5,715.4 1242.5,714.2 1239.5,712.9 1236.5,711.6 1233.5,710.3 1230.4,709 1227.4,707.7 1224.4,706.4 1221.4,705.1 1218.4,703.7 1215.4,702.4 1212.4,701 1209.4,699.6 1206.4,698.3 1203.3,696.9 1200.3,695.5 1197.3,694.1 1194.3,692.7 1191.3,691.2 1188.3,689.8 1185.3,688.4 1182.3,686.9 1179.3,685.5 1176.2,684 1173.2,682.5 1170.2,681 1167.2,679.6 1164.2,678.1 1161.2,676.6 1158.2,675 1155.2,673.5 1152.2,672 1149.1,670.5 1146.1,668.9 1143.1,667.4 1140.1,665.8 1137.1,664.3 1134.1,662.7 1131.1,661.1 1128.1,659.6 1125,658 1122,656.4 1119,654.8 1116,653.2 1113,651.6 1110,650 1107,648.4 1104,646.7 1101,645.1 1097.9,643.5 1094.9,641.9 1091.9,640.4 1088.9,638.8 1085.9,637.2 1082.9,635.6 1079.9,634.1 1076.9,632.5 1073.9,630.9 1070.8,629.3 1067.8,627.7 1064.8,626.2 1061.8,624.6 1058.8,623 1055.8,621.5 1052.8,619.9 1049.8,618.3 1046.8,616.8 1043.7,615.2 1040.7,613.7 1037.7,612.2 1034.7,610.6 1031.7,609.1 1028.7,607.6 1025.7,606.1 1022.7,604.6 1019.7,603.1 1016.6,601.6 1013.6,600.1 1010.6,598.6 1007.6,597.2 1004.6,595.7 1001.6,594.3 998.6,592.9 995.6,591.5 992.6,590.1 989.5,588.7 986.5,587.3 983.5,586 980.5,584.6 977.5,583.3 974.5,582 971.5,580.7 968.5,579.4 965.5,578.1 962.4,576.9 959.4,575.7 956.4,574.5 953.4,573.3 950.4,572.2 947.4,571 944.4,569.9 941.4,568.9 938.4,567.8 935.3,566.8 932.3,565.8 929.3,564.9 926.3,564 923.3,563.1 920.3,562.3 917.3,561.5 914.3,560.7 911.2,560 908.2,559.3 905.2,558.7 902.2,558.1 899.2,557.6 896.2,557.1 893.2,556.7 890.2,556.3 887.2,556 884.1,555.7 881.1,555.4 878.1,555.3 875.1,555.2 872.1,555.1 869.1,555.1 866.1,555.1 863.1,555.3 860.1,555.4 857,555.7 854,556 851,556.4 848,556.8 845,557.3 842,557.9 839,558.6 836,559.3 833,560.1 829.9,561 826.9,561.9 823.9,563 820.9,564.1 817.9,565.3 814.9,566.6 811.9,567.9 808.9,569.4 805.9,570.9 802.8,572.5 799.8,574.2 796.8,576.1 793.8,577.9 790.8,579.9 787.8,582 784.8,584.2 781.8,586.5 778.8,588.8 775.7,591.3 772.7,593.8 769.7,596.5 766.7,599.2 763.7,602 760.7,604.8 757.7,607.7 754.7,610.7 751.7,613.7 748.6,616.8 745.6,619.9 742.6,623.1 739.6,626.3 736.6,629.5 733.6,632.7 730.6,636 727.6,639.3 724.5,642.6 721.5,645.9 718.5,649.2 715.5,652.4 712.5,655.7 709.5,659 706.5,662.2 703.5,665.5 700.5,668.7 697.4,671.9 694.4,675.1 691.4,678.3 688.4,681.5 685.4,684.7 682.4,687.9 679.4,691.1 676.4,694.2 673.4,697.4 670.3,700.5 667.3,703.7 664.3,706.9 661.3,710 658.3,713.2 655.3,716.3 652.3,719.5 649.3,722.7 646.3,725.9 643.2,729 640.2,732.2 637.2,735.4 634.2,738.7 631.2,741.9 628.2,745.1 625.2,748.4 622.2,751.7 619.2,755 616.1,758.3 613.1,761.6 610.1,765 607.1,768.4 604.1,771.8 601.1,775.2 598.1,778.7" fill="#F4A582" fill-opacity="0.5" clip-path="url(#cB)"/>
<g fill="none" stroke="#F4A582" stroke-width="3.2"><circle cx="598.1" cy="760.7" r="6.7"/><circle cx="598.1" cy="768" r="6.7"/><circle cx="598.1" cy="772.8" r="6.7"/><circle cx="598.1" cy="777.6" r="6.7"/><circle cx="622.8" cy="725.6" r="6.7"/><circle cx="622.8" cy="729.2" r="6.7"/><circle cx="622.8" cy="734.1" r="6.7"/><circle cx="622.8" cy="738.9" r="6.7"/><circle cx="622.8" cy="752.2" r="6.7"/><circle cx="622.8" cy="764.3" r="6.7"/><circle cx="666.3" cy="677.2" r="6.7"/><circle cx="666.3" cy="688.1" r="6.7"/><circle cx="666.3" cy="705" r="6.7"/><circle cx="666.3" cy="709.9" r="6.7"/><circle cx="666.3" cy="714.7" r="6.7"/><circle cx="666.3" cy="719.6" r="6.7"/><circle cx="666.3" cy="726.8" r="6.7"/><circle cx="710.1" cy="611.9" r="6.7"/><circle cx="710.1" cy="616.7" r="6.7"/><circle cx="710.1" cy="647" r="6.7"/><circle cx="710.1" cy="654.2" r="6.7"/><circle cx="710.1" cy="663.9" r="6.7"/><circle cx="710.1" cy="676" r="6.7"/><circle cx="753.4" cy="574.4" r="6.7"/><circle cx="753.4" cy="598.6" r="6.7"/><circle cx="753.4" cy="603.4" r="6.7"/><circle cx="753.4" cy="608.3" r="6.7"/><circle cx="753.4" cy="627.6" r="6.7"/><circle cx="803.3" cy="535.7" r="6.7"/><circle cx="803.3" cy="538.1" r="6.7"/><circle cx="803.3" cy="572" r="6.7"/><circle cx="803.3" cy="581.6" r="6.7"/><circle cx="803.3" cy="592.5" r="6.7"/><circle cx="834.5" cy="535.7" r="6.7"/><circle cx="834.5" cy="542.9" r="6.7"/><circle cx="834.5" cy="550.2" r="6.7"/><circle cx="834.5" cy="555" r="6.7"/><circle cx="834.5" cy="572" r="6.7"/><circle cx="834.5" cy="590.1" r="6.7"/><circle cx="965" cy="534.4" r="6.7"/><circle cx="965" cy="540.5" r="6.7"/><circle cx="965" cy="545.3" r="6.7"/><circle cx="965" cy="551.4" r="6.7"/><circle cx="965" cy="557.4" r="6.7"/><circle cx="1015.1" cy="598.6" r="6.7"/><circle cx="1015.1" cy="605.8" r="6.7"/><circle cx="1015.1" cy="611.9" r="6.7"/><circle cx="1015.1" cy="622.8" r="6.7"/><circle cx="1015.1" cy="627.6" r="6.7"/><circle cx="1015.1" cy="637.3" r="6.7"/><circle cx="1015.1" cy="651.8" r="6.7"/><circle cx="1102.2" cy="573.2" r="6.7"/><circle cx="1102.2" cy="605.8" r="6.7"/><circle cx="1102.2" cy="611.9" r="6.7"/><circle cx="1102.2" cy="615.5" r="6.7"/><circle cx="1102.2" cy="620.4" r="6.7"/><circle cx="1102.2" cy="625.2" r="6.7"/><circle cx="1102.2" cy="637.3" r="6.7"/><circle cx="1102.2" cy="684.5" r="6.7"/><circle cx="1182.8" cy="632.5" r="6.7"/><circle cx="1182.8" cy="654.2" r="6.7"/><circle cx="1182.8" cy="663.9" r="6.7"/><circle cx="1182.8" cy="671.2" r="6.7"/><circle cx="1182.8" cy="678.4" r="6.7"/><circle cx="1182.8" cy="684.5" r="6.7"/><circle cx="1182.8" cy="690.5" r="6.7"/><circle cx="1182.8" cy="708.7" r="6.7"/><circle cx="1295.1" cy="662.7" r="6.7"/><circle cx="1295.1" cy="708.7" r="6.7"/><circle cx="1295.1" cy="715.9" r="6.7"/><circle cx="1295.1" cy="722" r="6.7"/><circle cx="1295.1" cy="729.2" r="6.7"/><circle cx="1295.1" cy="741.3" r="6.7"/><circle cx="1295.1" cy="758.3" r="6.7"/><circle cx="1500.5" cy="755.9" r="6.7"/><circle cx="1500.5" cy="760.7" r="6.7"/><circle cx="1500.5" cy="768" r="6.7"/><circle cx="1500.5" cy="775.2" r="6.7"/><circle cx="1500.5" cy="780.1" r="6.7"/><circle cx="1543.6" cy="765.5" r="6.7"/><circle cx="1543.6" cy="770.4" r="6.7"/><circle cx="1543.6" cy="775.2" r="6.7"/><circle cx="1543.6" cy="782.5" r="6.7"/><circle cx="1543.6" cy="787.3" r="6.7"/></g>
<polyline points="598.1,769.7 601.1,766.2 604.1,762.8 607.1,759.4 610.1,756 613.1,752.6 616.1,749.3 619.2,746 622.2,742.7 625.2,739.4 628.2,736.1 631.2,732.9 634.2,729.7 637.2,726.4 640.2,723.2 643.2,720 646.3,716.9 649.3,713.7 652.3,710.5 655.3,707.3 658.3,704.2 661.3,701 664.3,697.9 667.3,694.7 670.3,691.5 673.4,688.4 676.4,685.2 679.4,682.1 682.4,678.9 685.4,675.7 688.4,672.5 691.4,669.3 694.4,666.1 697.4,662.9 700.5,659.7 703.5,656.4 706.5,653.2 709.5,649.9 712.5,646.6 715.5,643.3 718.5,639.9 721.5,636.6 724.5,633.3 727.6,630 730.6,626.6 733.6,623.3 736.6,620.1 739.6,616.8 742.6,613.6 745.6,610.4 748.6,607.2 751.7,604.1 754.7,601.1 757.7,598 760.7,595.1 763.7,592.2 766.7,589.4 769.7,586.6 772.7,584 775.7,581.4 778.8,578.9 781.8,576.5 784.8,574.2 787.8,572 790.8,569.9 793.8,567.8 796.8,565.9 799.8,564.1 802.8,562.3 805.9,560.7 808.9,559.1 811.9,557.6 814.9,556.2 817.9,554.9 820.9,553.7 823.9,552.5 826.9,551.4 829.9,550.4 833,549.5 836,548.7 839,547.9 842,547.2 845,546.6 848,546.1 851,545.6 854,545.2 857,544.8 860.1,544.6 863.1,544.3 866.1,544.2 869.1,544.1 872.1,544.1 875.1,544.1 878.1,544.2 881.1,544.3 884.1,544.5 887.2,544.8 890.2,545.1 893.2,545.5 896.2,545.9 899.2,546.3 902.2,546.9 905.2,547.4 908.2,548 911.2,548.7 914.3,549.3 917.3,550.1 920.3,550.8 923.3,551.6 926.3,552.5 929.3,553.4 932.3,554.3 935.3,555.2 938.4,556.2 941.4,557.2 944.4,558.3 947.4,559.4 950.4,560.5 953.4,561.6 956.4,562.7 959.4,563.9 962.4,565.1 965.5,566.3 968.5,567.5 971.5,568.8 974.5,570.1 977.5,571.4 980.5,572.7 983.5,574 986.5,575.3 989.5,576.7 992.6,578 995.6,579.4 998.6,580.8 1001.6,582.2 1004.6,583.6 1007.6,585 1010.6,586.4 1013.6,587.9 1016.6,589.3 1019.7,590.8 1022.7,592.2 1025.7,593.7 1028.7,595.2 1031.7,596.7 1034.7,598.2 1037.7,599.7 1040.7,601.2 1043.7,602.7 1046.8,604.2 1049.8,605.8 1052.8,607.3 1055.8,608.8 1058.8,610.4 1061.8,611.9 1064.8,613.5 1067.8,615 1070.8,616.6 1073.9,618.1 1076.9,619.7 1079.9,621.2 1082.9,622.8 1085.9,624.3 1088.9,625.9 1091.9,627.4 1094.9,629 1097.9,630.5 1101,632.1 1104,633.6 1107,635.2 1110,636.7 1113,638.2 1116,639.8 1119,641.3 1122,642.8 1125,644.3 1128.1,645.8 1131.1,647.3 1134.1,648.8 1137.1,650.3 1140.1,651.8 1143.1,653.2 1146.1,654.7 1149.1,656.2 1152.2,657.6 1155.2,659.1 1158.2,660.5 1161.2,661.9 1164.2,663.3 1167.2,664.8 1170.2,666.2 1173.2,667.6 1176.2,669 1179.3,670.3 1182.3,671.7 1185.3,673.1 1188.3,674.5 1191.3,675.8 1194.3,677.1 1197.3,678.5 1200.3,679.8 1203.3,681.1 1206.4,682.4 1209.4,683.7 1212.4,685 1215.4,686.3 1218.4,687.6 1221.4,688.8 1224.4,690.1 1227.4,691.3 1230.4,692.5 1233.5,693.8 1236.5,695 1239.5,696.2 1242.5,697.4 1245.5,698.6 1248.5,699.7 1251.5,700.9 1254.5,702 1257.5,703.2 1260.6,704.3 1263.6,705.4 1266.6,706.5 1269.6,707.6 1272.6,708.7 1275.6,709.7 1278.6,710.8 1281.6,711.8 1284.6,712.9 1287.7,713.9 1290.7,714.9 1293.7,715.9 1296.7,716.9 1299.7,717.9 1302.7,718.8 1305.7,719.8 1308.7,720.7 1311.7,721.6 1314.8,722.5 1317.8,723.4 1320.8,724.3 1323.8,725.2 1326.8,726 1329.8,726.9 1332.8,727.7 1335.8,728.6 1338.9,729.4 1341.9,730.2 1344.9,731 1347.9,731.8 1350.9,732.6 1353.9,733.3 1356.9,734.1 1359.9,734.8 1362.9,735.6 1366,736.3 1369,737 1372,737.7 1375,738.4 1378,739.1 1381,739.8 1384,740.5 1387,741.2 1390,741.8 1393.1,742.5 1396.1,743.1 1399.1,743.7 1402.1,744.4 1405.1,745 1408.1,745.6 1411.1,746.2 1414.1,746.8 1417.1,747.4 1420.2,748 1423.2,748.5 1426.2,749.1 1429.2,749.7 1432.2,750.2 1435.2,750.8 1438.2,751.3 1441.2,751.8 1444.2,752.4 1447.3,752.9 1450.3,753.4 1453.3,753.9 1456.3,754.4 1459.3,755 1462.3,755.5 1465.3,755.9 1468.3,756.4 1471.3,756.9 1474.4,757.4 1477.4,757.9 1480.4,758.4 1483.4,758.8 1486.4,759.3 1489.4,759.7 1492.4,760.2 1495.4,760.7 1498.4,761.1 1501.5,761.6 1504.5,762 1507.5,762.4 1510.5,762.9 1513.5,763.3 1516.5,763.8 1519.5,764.2 1522.5,764.6 1525.5,765 1528.6,765.5 1531.6,765.9 1534.6,766.3 1537.6,766.7 1540.6,767.2 1543.6,767.6" fill="none" stroke="#000" stroke-width="3" stroke-linejoin="round" stroke-linecap="butt" clip-path="url(#cB)"/>
<polygon points="977.6,733.6 980.6,733.1 983.6,732.7 986.7,732.2 989.7,731.8 992.7,731.3 995.7,730.8 998.7,730.2 1001.7,729.7 1004.8,729 1007.8,728.3 1010.8,727.6 1013.8,726.8 1016.8,725.9 1019.9,725 1022.9,724 1025.9,722.3 1028.9,720.1 1031.9,717.9 1034.9,715.6 1038,713.2 1041,710.6 1044,708 1047,705.3 1050,702.4 1053,699.5 1056.1,696.4 1059.1,693.2 1062.1,689.8 1065.1,686.4 1068.1,682.8 1071.1,679.1 1074.2,675.3 1077.2,671.4 1080.2,667.5 1083.2,663.5 1086.2,659.4 1089.2,655.3 1092.3,651.1 1095.3,646.9 1098.3,642.7 1101.3,638.5 1104.3,634.4 1107.3,630.3 1110.4,626.2 1113.4,622.1 1116.4,618.1 1119.4,614.1 1122.4,610.2 1125.5,606.3 1128.5,602.5 1131.5,598.9 1134.5,595.3 1137.5,591.8 1140.5,588.4 1143.6,585.1 1146.6,581.9 1149.6,578.8 1152.6,575.8 1155.6,573 1158.6,570.2 1161.7,567.5 1164.7,564.9 1167.7,562.4 1170.7,560 1173.7,557.7 1176.7,555.5 1179.8,553.4 1182.8,551.4 1185.8,549.5 1188.8,547.7 1191.8,546 1194.8,544.4 1197.9,542.9 1200.9,541.5 1203.9,540.1 1206.9,538.9 1209.9,537.8 1213,536.7 1216,535.8 1219,534.9 1222,534.2 1225,533.5 1228,533 1231.1,532.5 1234.1,532.1 1237.1,531.8 1240.1,531.6 1243.1,531.5 1246.1,531.5 1249.2,531.6 1252.2,531.7 1255.2,531.9 1258.2,532.2 1261.2,532.6 1264.2,533.1 1267.3,533.7 1270.3,534.3 1273.3,535.1 1276.3,535.9 1279.3,536.9 1282.3,537.9 1285.4,539 1288.4,540.2 1291.4,541.4 1294.4,542.8 1297.4,544.2 1300.5,545.7 1303.5,547.3 1306.5,548.9 1309.5,550.6 1312.5,552.4 1315.5,554.2 1318.6,556.1 1321.6,558 1324.6,560 1327.6,562 1330.6,564.1 1333.6,566.2 1336.7,568.4 1339.7,570.6 1342.7,572.8 1345.7,575.1 1348.7,577.4 1351.7,579.7 1354.8,582 1357.8,584.4 1360.8,586.7 1363.8,589.1 1366.8,591.5 1369.8,593.9 1372.9,596.4 1375.9,598.8 1378.9,601.2 1381.9,603.6 1384.9,606 1387.9,608.4 1391,610.8 1394,613.2 1397,615.6 1400,617.9 1403,620.2 1406.1,622.6 1409.1,624.9 1412.1,627.1 1415.1,629.4 1418.1,631.7 1421.1,633.9 1424.2,636.1 1427.2,638.3 1430.2,640.5 1433.2,642.7 1436.2,644.8 1439.2,647 1442.3,649.1 1445.3,651.2 1448.3,653.3 1451.3,655.4 1454.3,657.5 1457.3,659.5 1460.4,661.5 1463.4,663.6 1466.4,665.6 1469.4,667.5 1472.4,669.5 1475.4,671.5 1478.5,673.4 1481.5,675.3 1484.5,677.2 1487.5,679.1 1490.5,681 1493.6,682.9 1496.6,684.7 1499.6,686.5 1502.6,688.4 1505.6,690.2 1508.6,691.9 1511.7,693.7 1514.7,695.5 1517.7,697.2 1520.7,698.9 1523.7,700.6 1526.7,702.3 1529.8,704 1532.8,705.7 1535.8,707.3 1538.8,708.9 1541.8,710.6 1544.8,712.2 1547.9,713.8 1550.9,715.3 1550.9,731.3 1547.9,729.8 1544.8,728.2 1541.8,726.7 1538.8,725.1 1535.8,723.5 1532.8,721.9 1529.8,720.3 1526.7,718.7 1523.7,717 1520.7,715.3 1517.7,713.7 1514.7,712 1511.7,710.2 1508.6,708.5 1505.6,706.8 1502.6,705 1499.6,703.2 1496.6,701.4 1493.6,699.6 1490.5,697.8 1487.5,696 1484.5,694.1 1481.5,692.3 1478.5,690.4 1475.4,688.5 1472.4,686.6 1469.4,684.6 1466.4,682.7 1463.4,680.7 1460.4,678.7 1457.3,676.8 1454.3,674.7 1451.3,672.7 1448.3,670.7 1445.3,668.6 1442.3,666.6 1439.2,664.5 1436.2,662.4 1433.2,660.2 1430.2,658.1 1427.2,656 1424.2,653.8 1421.1,651.6 1418.1,649.4 1415.1,647.2 1412.1,645 1409.1,642.7 1406.1,640.5 1403,638.2 1400,635.9 1397,633.6 1394,631.3 1391,628.9 1387.9,626.6 1384.9,624.2 1381.9,621.9 1378.9,619.5 1375.9,617.1 1372.9,614.7 1369.8,612.4 1366.8,610 1363.8,607.6 1360.8,605.3 1357.8,602.9 1354.8,600.6 1351.7,598.3 1348.7,596.1 1345.7,593.8 1342.7,591.6 1339.7,589.4 1336.7,587.2 1333.6,585.1 1330.6,583 1327.6,581 1324.6,579 1321.6,577.1 1318.6,575.2 1315.5,573.3 1312.5,571.6 1309.5,569.8 1306.5,568.2 1303.5,566.6 1300.5,565.1 1297.4,563.6 1294.4,562.2 1291.4,560.9 1288.4,559.7 1285.4,558.5 1282.3,557.4 1279.3,556.5 1276.3,555.6 1273.3,554.8 1270.3,554.1 1267.3,553.4 1264.2,552.9 1261.2,552.5 1258.2,552.1 1255.2,551.9 1252.2,551.7 1249.2,551.6 1246.1,551.7 1243.1,551.9 1240.1,552.2 1237.1,552.5 1234.1,553 1231.1,553.5 1228,554.1 1225,554.9 1222,555.7 1219,556.6 1216,557.6 1213,558.7 1209.9,559.9 1206.9,561.2 1203.9,562.6 1200.9,564.1 1197.9,565.7 1194.8,567.3 1191.8,569.1 1188.8,571 1185.8,572.9 1182.8,575 1179.8,577.2 1176.7,579.4 1173.7,581.8 1170.7,584.2 1167.7,586.8 1164.7,589.4 1161.7,592.2 1158.6,595 1155.6,598 1152.6,601 1149.6,604.2 1146.6,607.4 1143.6,610.8 1140.5,614.2 1137.5,617.8 1134.5,621.4 1131.5,625.2 1128.5,629 1125.5,633 1122.4,637 1119.4,641.1 1116.4,645.2 1113.4,649.4 1110.4,653.6 1107.3,657.9 1104.3,662.2 1101.3,666.5 1098.3,670.7 1095.3,674.9 1092.3,679.1 1089.2,683.3 1086.2,687.4 1083.2,691.5 1080.2,695.5 1077.2,699.4 1074.2,703.3 1071.1,707.1 1068.1,710.8 1065.1,714.4 1062.1,717.8 1059.1,721.2 1056.1,724.4 1053,727.5 1050,730.4 1047,733.3 1044,736 1041,738.6 1038,741.2 1034.9,743.6 1031.9,745.9 1028.9,748.1 1025.9,750.3 1022.9,752.8 1019.9,755.9 1016.8,758.9 1013.8,761.9 1010.8,764.8 1007.8,767.6 1004.8,770.4 1001.7,773.1 998.7,775.8 995.7,778.5 992.7,781.1 989.7,783.7 986.7,786.2 983.6,788.7 980.6,791.3 977.6,793.6" fill="#0571B0" fill-opacity="0.5" clip-path="url(#cB)"/>
<g fill="#0571B0"><polygon points="977.6,743.3 967.4,761.1 987.9,761.1"/><polygon points="1046.6,681.6 1036.3,699.4 1056.8,699.4"/><polygon points="1046.6,698.6 1036.3,716.4 1056.8,716.4"/><polygon points="1046.6,739.7 1036.3,757.5 1056.8,757.5"/><polygon points="1088.9,633.2 1078.7,651 1099.2,651"/><polygon points="1088.9,645.3 1078.7,663.1 1099.2,663.1"/><polygon points="1088.9,667.1 1078.7,684.9 1099.2,684.9"/><polygon points="1088.9,694.9 1078.7,712.7 1099.2,712.7"/><polygon points="1145.8,567.9 1135.5,585.7 1156,585.7"/><polygon points="1145.8,603 1135.5,620.8 1156,620.8"/><polygon points="1145.8,611.5 1135.5,629.3 1156,629.3"/><polygon points="1183.3,520.7 1173,538.5 1193.5,538.5"/><polygon points="1183.3,554.6 1173,572.4 1193.5,572.4"/><polygon points="1183.3,569.1 1173,586.9 1193.5,586.9"/><polygon points="1226.6,520.7 1216.4,538.5 1236.9,538.5"/><polygon points="1226.6,554.6 1216.4,572.4 1236.9,572.4"/><polygon points="1226.6,571.5 1216.4,589.3 1236.9,589.3"/><polygon points="1276.2,520.7 1266,538.5 1286.5,538.5"/><polygon points="1276.2,528 1266,545.8 1286.5,545.8"/><polygon points="1276.2,557 1266,574.8 1286.5,574.8"/><polygon points="1338.4,538.9 1328.2,556.7 1348.7,556.7"/><polygon points="1338.4,558.2 1328.2,576 1348.7,576"/><polygon points="1338.4,567.9 1328.2,585.7 1348.7,585.7"/><polygon points="1376.2,590.9 1365.9,608.7 1386.4,608.7"/><polygon points="1376.2,610.2 1365.9,628 1386.4,628"/><polygon points="1376.2,628.4 1365.9,646.2 1386.4,646.2"/><polygon points="1425.8,629.6 1415.5,647.4 1436,647.4"/><polygon points="1425.8,640.5 1415.5,658.3 1436,658.3"/><polygon points="1425.8,661.1 1415.5,678.9 1436,678.9"/><polygon points="1463.8,657.4 1453.5,675.2 1474,675.2"/><polygon points="1463.8,676.8 1453.5,694.6 1474,694.6"/><polygon points="1512.9,671.9 1502.6,689.7 1523.1,689.7"/><polygon points="1512.9,687.7 1502.6,705.5 1523.1,705.5"/><polygon points="1550.2,697.4 1539.9,715.2 1560.4,715.2"/><polygon points="1550.2,710.7 1539.9,728.5 1560.4,728.5"/><polygon points="1550.2,720.3 1539.9,738.1 1560.4,738.1"/><polygon points="1550.2,727.6 1539.9,745.4 1560.4,745.4"/></g>
<polyline points="977.6,762.6 980.6,761.2 983.6,759.8 986.7,758.4 989.7,757 992.7,755.5 995.7,754 998.7,752.5 1001.7,750.9 1004.8,749.3 1007.8,747.6 1010.8,745.9 1013.8,744.1 1016.8,742.3 1019.9,740.3 1022.9,738.4 1025.9,736.3 1028.9,734.1 1031.9,731.9 1034.9,729.6 1038,727.2 1041,724.6 1044,722 1047,719.3 1050,716.4 1053,713.5 1056.1,710.4 1059.1,707.2 1062.1,703.8 1065.1,700.4 1068.1,696.8 1071.1,693.1 1074.2,689.3 1077.2,685.4 1080.2,681.5 1083.2,677.5 1086.2,673.4 1089.2,669.3 1092.3,665.1 1095.3,660.9 1098.3,656.7 1101.3,652.5 1104.3,648.3 1107.3,644.1 1110.4,639.9 1113.4,635.8 1116.4,631.6 1119.4,627.6 1122.4,623.6 1125.5,619.6 1128.5,615.8 1131.5,612 1134.5,608.3 1137.5,604.8 1140.5,601.3 1143.6,597.9 1146.6,594.7 1149.6,591.5 1152.6,588.4 1155.6,585.5 1158.6,582.6 1161.7,579.8 1164.7,577.2 1167.7,574.6 1170.7,572.1 1173.7,569.8 1176.7,567.5 1179.8,565.3 1182.8,563.2 1185.8,561.2 1188.8,559.3 1191.8,557.6 1194.8,555.9 1197.9,554.3 1200.9,552.8 1203.9,551.4 1206.9,550.1 1209.9,548.8 1213,547.7 1216,546.7 1219,545.8 1222,544.9 1225,544.2 1228,543.5 1231.1,543 1234.1,542.5 1237.1,542.2 1240.1,541.9 1243.1,541.7 1246.1,541.6 1249.2,541.6 1252.2,541.7 1255.2,541.9 1258.2,542.2 1261.2,542.6 1264.2,543 1267.3,543.6 1270.3,544.2 1273.3,544.9 1276.3,545.8 1279.3,546.7 1282.3,547.7 1285.4,548.7 1288.4,549.9 1291.4,551.2 1294.4,552.5 1297.4,553.9 1300.5,555.4 1303.5,556.9 1306.5,558.6 1309.5,560.2 1312.5,562 1315.5,563.8 1318.6,565.6 1321.6,567.6 1324.6,569.5 1327.6,571.5 1330.6,573.6 1333.6,575.7 1336.7,577.8 1339.7,580 1342.7,582.2 1345.7,584.4 1348.7,586.7 1351.7,589 1354.8,591.3 1357.8,593.7 1360.8,596 1363.8,598.4 1366.8,600.8 1369.8,603.1 1372.9,605.5 1375.9,607.9 1378.9,610.3 1381.9,612.7 1384.9,615.1 1387.9,617.5 1391,619.9 1394,622.2 1397,624.6 1400,626.9 1403,629.2 1406.1,631.5 1409.1,633.8 1412.1,636.1 1415.1,638.3 1418.1,640.5 1421.1,642.8 1424.2,645 1427.2,647.1 1430.2,649.3 1433.2,651.5 1436.2,653.6 1439.2,655.7 1442.3,657.8 1445.3,659.9 1448.3,662 1451.3,664.1 1454.3,666.1 1457.3,668.1 1460.4,670.1 1463.4,672.1 1466.4,674.1 1469.4,676.1 1472.4,678 1475.4,680 1478.5,681.9 1481.5,683.8 1484.5,685.7 1487.5,687.6 1490.5,689.4 1493.6,691.3 1496.6,693.1 1499.6,694.9 1502.6,696.7 1505.6,698.5 1508.6,700.2 1511.7,702 1514.7,703.7 1517.7,705.4 1520.7,707.1 1523.7,708.8 1526.7,710.5 1529.8,712.2 1532.8,713.8 1535.8,715.4 1538.8,717 1541.8,718.6 1544.8,720.2 1547.9,721.8 1550.9,723.3" fill="none" stroke="#000" stroke-width="3" stroke-linejoin="round" stroke-linecap="butt" clip-path="url(#cB)"/>
<polygon points="846.9,736 850,736.1 853,736.1 856,736 859,735.8 862.1,735.6 865.1,735.3 868.1,734.9 871.1,734.4 874.2,733.9 877.2,733.3 880.2,732.6 883.2,731.8 886.2,731 889.3,730.1 892.3,729.1 895.3,728 898.3,726.9 901.4,725.7 904.4,724.2 907.4,722.5 910.4,720.7 913.5,718.8 916.5,716.9 919.5,714.9 922.5,712.8 925.6,710.7 928.6,708.5 931.6,706.2 934.6,703.9 937.7,701.4 940.7,699 943.7,696.5 946.7,693.9 949.7,691.2 952.8,688.5 955.8,685.8 958.8,683 961.8,680.2 964.9,677.3 967.9,674.4 970.9,671.4 973.9,668.4 977,665.2 980,661.9 983,658.5 986,655.1 989.1,651.7 992.1,648.3 995.1,644.8 998.1,641.4 1001.1,637.9 1004.2,634.5 1007.2,631 1010.2,627.6 1013.2,624.2 1016.3,620.8 1019.3,617.4 1022.3,614 1025.3,610.6 1028.4,607.3 1031.4,604 1034.4,600.7 1037.4,597.5 1040.5,594.3 1043.5,591.2 1046.5,588.1 1049.5,585.1 1052.6,582.1 1055.6,579.1 1058.6,576.3 1061.6,573.5 1064.6,570.8 1067.7,568.1 1070.7,565.5 1073.7,563 1076.7,560.6 1079.8,558.3 1082.8,556.1 1085.8,553.9 1088.8,551.9 1091.9,550 1094.9,548.1 1097.9,546.4 1100.9,544.7 1104,543.2 1107,541.7 1110,540.3 1113,539 1116.1,537.8 1119.1,536.7 1122.1,535.7 1125.1,534.7 1128.1,533.8 1131.2,533 1134.2,532.2 1137.2,531.5 1140.2,530.9 1143.3,530.3 1146.3,529.8 1149.3,529.4 1152.3,529 1155.4,528.7 1158.4,528.5 1161.4,528.3 1164.4,528.2 1167.5,528.1 1170.5,528 1173.5,528.1 1176.5,528.2 1179.5,528.3 1182.6,528.5 1185.6,528.7 1188.6,529 1191.6,529.3 1194.7,529.7 1197.7,530.1 1200.7,530.6 1203.7,531.1 1206.8,531.7 1209.8,532.3 1212.8,533 1215.8,533.7 1218.9,534.4 1221.9,535.2 1224.9,536 1227.9,536.9 1231,537.8 1234,538.7 1237,539.6 1240,540.6 1243,541.7 1246.1,542.7 1249.1,543.8 1252.1,544.9 1255.1,546.1 1258.2,547.3 1261.2,548.5 1264.2,549.7 1267.2,551 1270.3,552.3 1273.3,553.6 1276.3,554.9 1279.3,556.3 1282.4,557.6 1285.4,559 1288.4,560.4 1291.4,561.9 1294.5,563.3 1297.5,564.8 1300.5,566.3 1303.5,567.8 1306.5,569.3 1309.6,570.8 1312.6,572.3 1315.6,573.9 1318.6,575.4 1321.7,577 1324.7,578.6 1327.7,580.2 1330.7,581.8 1333.8,583.4 1336.8,585 1339.8,586.6 1342.8,588.2 1345.9,589.8 1348.9,591.4 1351.9,593 1354.9,594.6 1357.9,596.2 1361,597.9 1364,599.5 1367,601.1 1370,602.8 1373.1,604.4 1376.1,606.1 1379.1,607.7 1382.1,609.4 1385.2,611.1 1388.2,612.8 1391.2,614.5 1394.2,616.2 1397.3,617.9 1400.3,619.6 1403.3,621.5 1406.3,623.3 1409.4,625.2 1412.4,627.1 1415.4,629 1418.4,630.9 1421.4,632.8 1424.5,634.8 1427.5,636.7 1430.5,638.7 1433.5,640.7 1436.6,642.7 1439.6,644.8 1442.6,646.8 1445.6,648.9 1448.7,651 1451.7,653.1 1454.7,655.3 1457.7,657.4 1460.8,659.6 1463.8,661.8 1466.8,664.1 1469.8,666.4 1472.9,668.6 1475.9,671 1478.9,673.3 1481.9,675.7 1484.9,678.1 1488,680.5 1491,683 1494,685.5 1497,688 1500.1,690.6 1503.1,693.2 1506.1,695.8 1509.1,698.4 1512.2,701.1 1512.2,729.1 1509.1,726.6 1506.1,724.1 1503.1,721.6 1500.1,719.2 1497,716.8 1494,714.5 1491,712.1 1488,709.8 1484.9,707.5 1481.9,705.3 1478.9,703.1 1475.9,700.9 1472.9,698.7 1469.8,696.6 1466.8,694.5 1463.8,692.4 1460.8,690.4 1457.7,688.3 1454.7,686.3 1451.7,684.4 1448.7,682.4 1445.6,680.5 1442.6,678.5 1439.6,676.6 1436.6,674.8 1433.5,672.9 1430.5,671.1 1427.5,669.3 1424.5,667.5 1421.4,665.7 1418.4,663.9 1415.4,662.2 1412.4,660.4 1409.4,658.7 1406.3,657 1403.3,655.3 1400.3,653.6 1397.3,651.9 1394.2,650.1 1391.2,648.4 1388.2,646.7 1385.2,644.9 1382.1,643.2 1379.1,641.5 1376.1,639.8 1373.1,638.2 1370,636.5 1367,634.8 1364,633.1 1361,631.5 1357.9,629.8 1354.9,628.2 1351.9,626.5 1348.9,624.9 1345.9,623.2 1342.8,621.6 1339.8,620 1336.8,618.3 1333.8,616.7 1330.7,615.1 1327.7,613.4 1324.7,611.8 1321.7,610.2 1318.6,608.6 1315.6,607 1312.6,605.5 1309.6,603.9 1306.5,602.3 1303.5,600.8 1300.5,599.3 1297.5,597.8 1294.5,596.3 1291.4,594.8 1288.4,593.3 1285.4,591.9 1282.4,590.5 1279.3,589 1276.3,587.7 1273.3,586.3 1270.3,585 1267.2,583.6 1264.2,582.4 1261.2,581.1 1258.2,579.9 1255.1,578.6 1252.1,577.5 1249.1,576.3 1246.1,575.2 1243,574.1 1240,573 1237,572 1234,571 1231,570.1 1227.9,569.1 1224.9,568.3 1221.9,567.4 1218.9,566.6 1215.8,565.8 1212.8,565.1 1209.8,564.4 1206.8,563.8 1203.7,563.2 1200.7,562.6 1197.7,562.1 1194.7,561.6 1191.6,561.2 1188.6,560.8 1185.6,560.4 1182.6,560.1 1179.5,559.9 1176.5,559.7 1173.5,559.5 1170.5,559.5 1167.5,559.4 1164.4,559.4 1161.4,559.5 1158.4,559.7 1155.4,559.8 1152.3,560.1 1149.3,560.4 1146.3,560.8 1143.3,561.2 1140.2,561.7 1137.2,562.3 1134.2,562.9 1131.2,563.6 1128.1,564.3 1125.1,565.2 1122.1,566.1 1119.1,567.1 1116.1,568.2 1113,569.3 1110,570.5 1107,571.8 1104,573.2 1100.9,574.7 1097.9,576.3 1094.9,577.9 1091.9,579.6 1088.8,581.4 1085.8,583.3 1082.8,585.3 1079.8,587.3 1076.7,589.5 1073.7,591.8 1070.7,594.1 1067.7,596.6 1064.6,599.1 1061.6,601.6 1058.6,604.3 1055.6,607 1052.6,609.8 1049.5,612.6 1046.5,615.5 1043.5,618.5 1040.5,621.5 1037.4,624.5 1034.4,627.6 1031.4,630.7 1028.4,633.9 1025.3,637.1 1022.3,640.3 1019.3,643.5 1016.3,646.8 1013.2,650 1010.2,653.3 1007.2,656.6 1004.2,659.9 1001.1,663.2 998.1,666.5 995.1,669.8 992.1,673.1 989.1,676.4 986,679.6 983,682.9 980,686.1 977,689.3 973.9,692.7 970.9,696.4 967.9,700.1 964.9,703.8 961.8,707.4 958.8,711 955.8,714.6 952.8,718.1 949.7,721.5 946.7,724.9 943.7,728.3 940.7,731.6 937.7,734.8 934.6,737.9 931.6,741 928.6,744.1 925.6,747 922.5,749.9 919.5,752.8 916.5,755.5 913.5,758.2 910.4,760.8 907.4,763.4 904.4,765.9 901.4,768.2 898.3,770.4 895.3,772.5 892.3,774.5 889.3,776.5 886.2,778.4 883.2,780.2 880.2,781.9 877.2,783.6 874.2,785.1 871.1,786.7 868.1,788.1 865.1,789.5 862.1,790.7 859,791.9 856,793.1 853,794.1 850,795.1 846.9,796" fill="#92C5DE" fill-opacity="0.5" clip-path="url(#cB)"/>
<g fill="#92C5DE"><polygon points="848.1,755.1 837.9,737.3 858.4,737.3"/><polygon points="848.1,785.3 837.9,767.5 858.4,767.5"/><polygon points="896.5,727.3 886.3,709.5 906.8,709.5"/><polygon points="896.5,779.3 886.3,761.5 906.8,761.5"/><polygon points="940.1,698.2 929.9,680.4 950.4,680.4"/><polygon points="940.1,722.4 929.9,704.6 950.4,704.6"/><polygon points="940.1,775.7 929.9,757.9 950.4,757.9"/><polygon points="940.1,782.9 929.9,765.1 950.4,765.1"/><polygon points="983.7,628 973.4,610.2 993.9,610.2"/><polygon points="983.7,655.9 973.4,638.1 993.9,638.1"/><polygon points="983.7,697 973.4,679.2 993.9,679.2"/><polygon points="983.7,727.3 973.4,709.5 993.9,709.5"/><polygon points="983.7,732.1 973.4,714.3 993.9,714.3"/><polygon points="1021.2,576 1010.9,558.2 1031.4,558.2"/><polygon points="1021.2,631.7 1010.9,613.9 1031.4,613.9"/><polygon points="1021.2,680.1 1010.9,662.3 1031.4,662.3"/><polygon points="1082.9,553 1072.6,535.2 1093.1,535.2"/><polygon points="1082.9,563.9 1072.6,546.1 1093.1,546.1"/><polygon points="1082.9,597.8 1072.6,580 1093.1,580"/><polygon points="1082.9,611.1 1072.6,593.3 1093.1,593.3"/><polygon points="1127.6,545.8 1117.4,528 1137.9,528"/><polygon points="1207.5,545.8 1197.2,528 1217.7,528"/><polygon points="1207.5,588.1 1197.2,570.3 1217.7,570.3"/><polygon points="1207.5,605.1 1197.2,587.3 1217.7,587.3"/><polygon points="1301.6,554.2 1291.4,536.4 1311.9,536.4"/><polygon points="1301.6,590.5 1291.4,572.7 1311.9,572.7"/><polygon points="1301.6,600.2 1291.4,582.4 1311.9,582.4"/><polygon points="1301.6,632.9 1291.4,615.1 1311.9,615.1"/><polygon points="1388.7,622 1378.5,604.2 1399,604.2"/><polygon points="1388.7,653.4 1378.5,635.6 1399,635.6"/><polygon points="1468.6,672.8 1458.4,655 1478.9,655"/><polygon points="1468.6,709.1 1458.4,691.3 1478.9,691.3"/><polygon points="1512.9,709.1 1502.6,691.3 1523.1,691.3"/><polygon points="1512.9,740.6 1502.6,722.8 1523.1,722.8"/><polygon points="1550.2,730.9 1539.9,713.1 1560.4,713.1"/></g>
<polyline points="846.9,766 850,765.4 853,764.8 856,764 859,763.2 862.1,762.4 865.1,761.4 868.1,760.4 871.1,759.2 874.2,758.1 877.2,756.8 880.2,755.5 883.2,754 886.2,752.6 889.3,751 892.3,749.4 895.3,747.7 898.3,745.9 901.4,744 904.4,742.1 907.4,740.1 910.4,738.1 913.5,736 916.5,733.8 919.5,731.5 922.5,729.2 925.6,726.8 928.6,724.3 931.6,721.8 934.6,719.2 937.7,716.6 940.7,713.8 943.7,711.1 946.7,708.2 949.7,705.3 952.8,702.4 955.8,699.4 958.8,696.3 961.8,693.3 964.9,690.1 967.9,687 970.9,683.8 973.9,680.5 977,677.3 980,674 983,670.7 986,667.4 989.1,664 992.1,660.7 995.1,657.3 998.1,653.9 1001.1,650.6 1004.2,647.2 1007.2,643.8 1010.2,640.5 1013.2,637.1 1016.3,633.8 1019.3,630.4 1022.3,627.1 1025.3,623.8 1028.4,620.6 1031.4,617.4 1034.4,614.2 1037.4,611 1040.5,607.9 1043.5,604.8 1046.5,601.8 1049.5,598.8 1052.6,595.9 1055.6,593.1 1058.6,590.3 1061.6,587.6 1064.6,584.9 1067.7,582.3 1070.7,579.8 1073.7,577.4 1076.7,575.1 1079.8,572.8 1082.8,570.7 1085.8,568.6 1088.8,566.6 1091.9,564.8 1094.9,563 1097.9,561.3 1100.9,559.7 1104,558.2 1107,556.8 1110,555.4 1113,554.2 1116.1,553 1119.1,551.9 1122.1,550.9 1125.1,549.9 1128.1,549.1 1131.2,548.3 1134.2,547.5 1137.2,546.9 1140.2,546.3 1143.3,545.8 1146.3,545.3 1149.3,544.9 1152.3,544.6 1155.4,544.3 1158.4,544.1 1161.4,543.9 1164.4,543.8 1167.5,543.8 1170.5,543.8 1173.5,543.8 1176.5,543.9 1179.5,544.1 1182.6,544.3 1185.6,544.6 1188.6,544.9 1191.6,545.2 1194.7,545.6 1197.7,546.1 1200.7,546.6 1203.7,547.1 1206.8,547.7 1209.8,548.4 1212.8,549 1215.8,549.8 1218.9,550.5 1221.9,551.3 1224.9,552.1 1227.9,553 1231,553.9 1234,554.9 1237,555.8 1240,556.8 1243,557.9 1246.1,559 1249.1,560.1 1252.1,561.2 1255.1,562.4 1258.2,563.6 1261.2,564.8 1264.2,566 1267.2,567.3 1270.3,568.6 1273.3,569.9 1276.3,571.3 1279.3,572.7 1282.4,574 1285.4,575.4 1288.4,576.9 1291.4,578.3 1294.5,579.8 1297.5,581.3 1300.5,582.8 1303.5,584.3 1306.5,585.8 1309.6,587.4 1312.6,588.9 1315.6,590.5 1318.6,592 1321.7,593.6 1324.7,595.2 1327.7,596.8 1330.7,598.4 1333.8,600 1336.8,601.6 1339.8,603.3 1342.8,604.9 1345.9,606.5 1348.9,608.1 1351.9,609.8 1354.9,611.4 1357.9,613 1361,614.7 1364,616.3 1367,618 1370,619.6 1373.1,621.3 1376.1,623 1379.1,624.6 1382.1,626.3 1385.2,628 1388.2,629.7 1391.2,631.4 1394.2,633.2 1397.3,634.9 1400.3,636.6 1403.3,638.4 1406.3,640.2 1409.4,642 1412.4,643.8 1415.4,645.6 1418.4,647.4 1421.4,649.3 1424.5,651.1 1427.5,653 1430.5,654.9 1433.5,656.8 1436.6,658.7 1439.6,660.7 1442.6,662.7 1445.6,664.7 1448.7,666.7 1451.7,668.7 1454.7,670.8 1457.7,672.9 1460.8,675 1463.8,677.1 1466.8,679.3 1469.8,681.5 1472.9,683.7 1475.9,685.9 1478.9,688.2 1481.9,690.5 1484.9,692.8 1488,695.2 1491,697.6 1494,700 1497,702.4 1500.1,704.9 1503.1,707.4 1506.1,709.9 1509.1,712.5 1512.2,715.1" fill="none" stroke="#000" stroke-width="3" stroke-linejoin="round" stroke-linecap="butt" clip-path="url(#cB)"/>
<line x1="106.6" y1="866.9" x2="106.6" y2="1218.95" stroke="#000" stroke-width="2.9"/>
<line x1="105.14999999999999" y1="1217.5" x2="1651.5" y2="1217.5" stroke="#000" stroke-width="2.9"/>
<line x1="106.6" y1="1204.1" x2="115.2" y2="1204.1" stroke="#000" stroke-width="2.6"/>
<text x="94.6" y="1216.1" font-size="33" font-weight="normal" text-anchor="end" fill="#000">0</text>
<line x1="106.6" y1="1147.9" x2="115.2" y2="1147.9" stroke="#000" stroke-width="2.6"/>
<text x="94.6" y="1159.9" font-size="33" font-weight="normal" text-anchor="end" fill="#000">20</text>
<line x1="106.6" y1="1091.7" x2="115.2" y2="1091.7" stroke="#000" stroke-width="2.6"/>
<text x="94.6" y="1103.7" font-size="33" font-weight="normal" text-anchor="end" fill="#000">40</text>
<line x1="106.6" y1="1035.5" x2="115.2" y2="1035.5" stroke="#000" stroke-width="2.6"/>
<text x="94.6" y="1047.5" font-size="33" font-weight="normal" text-anchor="end" fill="#000">60</text>
<line x1="106.6" y1="979.3" x2="115.2" y2="979.3" stroke="#000" stroke-width="2.6"/>
<text x="94.6" y="991.3" font-size="33" font-weight="normal" text-anchor="end" fill="#000">80</text>
<line x1="106.6" y1="923.1" x2="115.2" y2="923.1" stroke="#000" stroke-width="2.6"/>
<text x="94.6" y="935.1" font-size="33" font-weight="normal" text-anchor="end" fill="#000">100</text>
<line x1="231.1" y1="1217.5" x2="231.1" y2="1209.7" stroke="#000" stroke-width="2.8" stroke-linecap="round"/>
<line x1="424" y1="1217.5" x2="424" y2="1209.7" stroke="#000" stroke-width="2.8" stroke-linecap="round"/>
<line x1="610.7" y1="1217.5" x2="610.7" y2="1209.7" stroke="#000" stroke-width="2.8" stroke-linecap="round"/>
<line x1="803.6" y1="1217.5" x2="803.6" y2="1209.7" stroke="#000" stroke-width="2.8" stroke-linecap="round"/>
<line x1="990.3" y1="1217.5" x2="990.3" y2="1209.7" stroke="#000" stroke-width="2.8" stroke-linecap="round"/>
<line x1="1183.2" y1="1217.5" x2="1183.2" y2="1209.7" stroke="#000" stroke-width="2.8" stroke-linecap="round"/>
<line x1="1376.1" y1="1217.5" x2="1376.1" y2="1209.7" stroke="#000" stroke-width="2.8" stroke-linecap="round"/>
<line x1="1562.8" y1="1217.5" x2="1562.8" y2="1209.7" stroke="#000" stroke-width="2.8" stroke-linecap="round"/>
<text x="126.5" y="894.1" font-size="39" font-weight="bold" text-anchor="start" fill="#000">C</text>
<text x="127" y="944.7" font-size="32.4" font-weight="normal" text-anchor="start" fill="#000">All plants</text>
<text x="0" y="0" font-size="33" text-anchor="middle" transform="translate(26,1043) rotate(-90)">Greenness (%)</text>
<line x1="106.4" y1="1063.6" x2="1650" y2="1063.6" stroke="#555" stroke-width="3" stroke-dasharray="12.1 12.5" stroke-linecap="round"/>
<line x1="410.9" y1="880.2" x2="410.9" y2="1217" stroke="#CA0020" stroke-width="4.8" stroke-dasharray="4.3 14.1" stroke-linecap="round"/>
<line x1="765.1" y1="880.2" x2="765.1" y2="1217" stroke="#F4A582" stroke-width="4.8" stroke-dasharray="4.3 14.1" stroke-linecap="round"/>
<line x1="1235.3" y1="880.2" x2="1235.3" y2="1217" stroke="#0571B0" stroke-width="4.8" stroke-dasharray="4.3 14.1" stroke-linecap="round"/>
<polygon points="156,1175.3 159,1170.8 162,1166.3 165,1161.7 168,1157.2 171,1152.6 174,1148.1 177,1143.5 180,1139 183.1,1134.5 186.1,1129.9 189.1,1125.4 192.1,1120.9 195.1,1116.4 198.1,1111.9 201.1,1107.4 204.1,1102.9 207.1,1098.5 210.1,1094 213.2,1089.6 216.2,1085.2 219.2,1080.8 222.2,1076.5 225.2,1072.2 228.2,1067.9 231.2,1063.6 234.2,1059.3 237.2,1055.1 240.2,1050.9 243.3,1046.8 246.3,1042.6 249.3,1038.6 252.3,1034.5 255.3,1030.5 258.3,1026.5 261.3,1022.6 264.3,1018.7 267.3,1014.9 270.4,1011.1 273.4,1007.3 276.4,1003.6 279.4,1000 282.4,996.4 285.4,992.8 288.4,989.3 291.4,985.9 294.4,982.5 297.4,979.2 300.5,975.9 303.5,972.7 306.5,969.6 309.5,966.5 312.5,963.5 315.5,960.6 318.5,957.7 321.5,954.9 324.5,952.2 327.5,949.5 330.6,946.9 333.6,944.4 336.6,942 339.6,939.6 342.6,937.3 345.6,935.2 348.6,933 351.6,931 354.6,929.1 357.7,927.2 360.7,925.4 363.7,923.8 366.7,922.2 369.7,920.7 372.7,919.3 375.7,917.9 378.7,916.7 381.7,915.6 384.7,914.6 387.8,913.7 390.8,912.8 393.8,912.1 396.8,911.5 399.8,911 402.8,910.6 405.8,910.3 408.8,910.1 411.8,910 414.8,910.1 417.9,910.2 420.9,910.5 423.9,910.8 426.9,911.3 429.9,911.9 432.9,912.6 435.9,913.4 438.9,914.3 441.9,915.2 445,916.3 448,917.5 451,918.7 454,920.1 457,921.5 460,923 463,924.6 466,926.3 469,928 472,929.8 475.1,931.7 478.1,933.7 481.1,935.7 484.1,937.9 487.1,940 490.1,942.3 493.1,944.5 496.1,946.9 499.1,949.3 502.2,951.8 505.2,954.3 508.2,956.9 511.2,959.5 514.2,962.1 517.2,964.8 520.2,967.6 523.2,970.4 526.2,973.2 529.2,976.1 532.3,978.9 535.3,981.9 538.3,984.8 541.3,987.8 544.3,990.8 547.3,993.8 550.3,996.9 553.3,1000 556.3,1003 559.3,1006.1 562.4,1009.3 565.4,1012.4 568.4,1015.5 571.4,1018.7 574.4,1021.8 577.4,1024.9 580.4,1028.1 583.4,1031.2 586.4,1034.4 589.5,1037.5 592.5,1040.6 595.5,1043.7 598.5,1046.8 601.5,1049.9 604.5,1053 607.5,1056 610.5,1059.1 613.5,1062.1 616.5,1065 619.6,1068 622.6,1070.9 625.6,1073.8 628.6,1076.7 631.6,1079.5 634.6,1082.3 637.6,1085 640.6,1087.7 643.6,1090.4 646.6,1093 649.7,1095.6 652.7,1098.1 655.7,1100.5 658.7,1102.9 661.7,1105.3 664.7,1107.6 667.7,1109.8 670.7,1112 673.7,1114.1 676.8,1116.1 679.8,1118.1 682.8,1120 685.8,1121.8 688.8,1123.5 691.8,1125.2 694.8,1126.9 697.8,1128.4 700.8,1129.9 703.8,1131.4 706.9,1132.8 709.9,1134.1 712.9,1135.4 715.9,1136.6 718.9,1137.8 721.9,1139 724.9,1140.1 727.9,1141.2 730.9,1142.2 733.9,1143.2 737,1144.2 740,1145.1 743,1146 746,1146.9 749,1147.8 752,1148.6 755,1149.4 758,1150.3 761,1151.1 764.1,1151.8 767.1,1152.6 770.1,1153.4 773.1,1154.2 776.1,1155 779.1,1155.7 782.1,1156.5 785.1,1157.3 788.1,1158 791.1,1158.8 794.2,1159.5 797.2,1160.3 800.2,1161 803.2,1161.8 806.2,1162.5 809.2,1163.2 812.2,1163.9 815.2,1164.6 818.2,1165.4 821.2,1166 824.3,1166.7 827.3,1167.4 830.3,1168.1 833.3,1168.8 836.3,1169.4 839.3,1170.1 842.3,1170.7 845.3,1171.3 848.3,1171.9 851.4,1172.5 854.4,1173.1 857.4,1173.7 860.4,1174.3 863.4,1174.8 866.4,1175.4 869.4,1175.9 872.4,1176.4 875.4,1177 878.4,1177.5 881.5,1177.9 884.5,1178.4 887.5,1178.9 890.5,1179.3 893.5,1179.7 896.5,1180.1 899.5,1180.5 902.5,1180.9 905.5,1181.3 908.5,1181.6 911.6,1181.9 914.6,1182.3 917.6,1182.6 920.6,1182.8 923.6,1183.1 926.6,1183.3 929.6,1183.6 932.6,1183.8 935.6,1184 938.7,1184.1 941.7,1184.3 944.7,1184.4 947.7,1184.6 950.7,1184.7 953.7,1184.7 956.7,1184.8 959.7,1184.8 962.7,1184.8 965.7,1184.8 968.8,1184.8 971.8,1184.8 974.8,1184.7 977.8,1184.6 980.8,1184.5 983.8,1184.4 986.8,1184.3 989.8,1184.1 992.8,1183.9 995.8,1183.7 998.9,1183.4 1001.9,1183.2 1004.9,1182.9 1007.9,1182.6 1010.9,1182.3 1013.9,1181.9 1016.9,1181.5 1019.9,1181.1 1022.9,1180.7 1026,1180.3 1029,1179.8 1032,1179.3 1035,1178.8 1038,1178.2 1041,1177.6 1044,1177 1047,1176.4 1050,1175.8 1053,1175.1 1056.1,1174.4 1059.1,1173.6 1062.1,1172.9 1065.1,1172.1 1068.1,1171.3 1071.1,1170.4 1074.1,1169.6 1077.1,1168.6 1080.1,1167.7 1083.1,1166.8 1086.2,1165.8 1089.2,1164.8 1092.2,1163.7 1095.2,1162.7 1098.2,1161.6 1101.2,1160.5 1104.2,1159.3 1107.2,1158.2 1110.2,1157 1113.3,1155.8 1116.3,1154.6 1119.3,1153.4 1122.3,1152.2 1125.3,1150.9 1128.3,1149.7 1131.3,1148.4 1134.3,1147.1 1137.3,1145.8 1140.3,1144.5 1143.4,1143.1 1146.4,1141.8 1149.4,1140.5 1152.4,1139.1 1155.4,1137.8 1158.4,1136.4 1161.4,1135.1 1164.4,1133.7 1167.4,1132.4 1170.4,1131 1173.5,1129.6 1176.5,1128.2 1179.5,1126.9 1182.5,1125.5 1185.5,1124.1 1188.5,1122.8 1191.5,1121.4 1194.5,1120 1197.5,1118.7 1200.6,1117.4 1203.6,1116 1206.6,1114.7 1209.6,1113.4 1212.6,1112.1 1215.6,1110.9 1218.6,1109.6 1221.6,1108.4 1224.6,1107.1 1227.6,1105.9 1230.7,1104.7 1233.7,1103.5 1236.7,1102.4 1239.7,1101.2 1242.7,1100.1 1245.7,1099 1248.7,1098 1251.7,1096.9 1254.7,1095.9 1257.8,1094.9 1260.8,1094 1263.8,1093 1266.8,1092.1 1269.8,1091.2 1272.8,1090.4 1275.8,1089.6 1278.8,1088.8 1281.8,1088 1284.8,1087.3 1287.9,1086.6 1290.9,1085.9 1293.9,1085.2 1296.9,1084.6 1299.9,1084 1302.9,1083.4 1305.9,1082.9 1308.9,1082.3 1311.9,1081.8 1314.9,1081.4 1318,1080.9 1321,1080.5 1324,1080.1 1327,1079.8 1330,1079.4 1333,1079.1 1336,1078.8 1339,1078.6 1342,1078.3 1345.1,1078.1 1348.1,1077.9 1351.1,1077.8 1354.1,1077.6 1357.1,1077.5 1360.1,1077.4 1363.1,1077.3 1366.1,1077.3 1369.1,1077.3 1372.1,1077.3 1375.2,1077.3 1378.2,1077.3 1381.2,1077.4 1384.2,1077.5 1387.2,1077.6 1390.2,1077.7 1393.2,1077.9 1396.2,1078.1 1399.2,1078.3 1402.2,1078.5 1405.3,1078.7 1408.3,1079 1411.3,1079.3 1414.3,1079.6 1417.3,1079.9 1420.3,1080.3 1423.3,1080.7 1426.3,1081.1 1429.3,1081.5 1432.4,1081.9 1435.4,1082.4 1438.4,1082.9 1441.4,1083.4 1444.4,1083.9 1447.4,1084.5 1450.4,1085 1453.4,1085.6 1456.4,1086.2 1459.4,1086.8 1462.5,1087.5 1465.5,1088.2 1468.5,1088.8 1471.5,1089.6 1474.5,1090.3 1477.5,1091 1480.5,1091.8 1483.5,1092.6 1486.5,1093.4 1489.5,1094.2 1492.6,1095 1495.6,1095.9 1498.6,1096.8 1501.6,1097.7 1504.6,1098.6 1507.6,1099.5 1510.6,1100.5 1513.6,1101.4 1516.6,1102.4 1519.7,1103.4 1522.7,1104.5 1525.7,1105.5 1528.7,1106.6 1531.7,1107.6 1534.7,1108.7 1537.7,1109.8 1540.7,1111 1543.7,1112.1 1546.7,1113.3 1549.8,1114.4 1552.8,1115.6 1555.8,1116.8 1558.8,1118 1561.8,1119.3 1564.8,1120.5 1567.8,1121.8 1570.8,1123.1 1573.8,1124.4 1576.8,1125.7 1579.9,1127 1582.9,1128.4 1585.9,1129.7 1588.9,1131.1 1591.9,1132.5 1594.9,1133.9 1597.9,1135.3 1600.9,1136.7 1603.9,1138.2 1607,1139.6 1610,1141.1 1613,1142.6 1616,1144.1 1619,1145.6 1622,1147.1 1625,1148.7 1628,1150.2 1631,1151.8 1634,1153.4 1637.1,1155 1640.1,1156.6 1643.1,1158.2 1646.1,1159.8 1649.1,1161.5 1649.1,1186.5 1646.1,1184.8 1643.1,1183.1 1640.1,1181.5 1637.1,1179.8 1634,1178.2 1631,1176.6 1628,1175 1625,1173.4 1622,1171.9 1619,1170.3 1616,1168.7 1613,1167.2 1610,1165.7 1607,1164.2 1603.9,1162.7 1600.9,1161.2 1597.9,1159.8 1594.9,1158.3 1591.9,1156.9 1588.9,1155.5 1585.9,1154 1582.9,1152.7 1579.9,1151.3 1576.8,1149.9 1573.8,1148.6 1570.8,1147.2 1567.8,1145.9 1564.8,1144.6 1561.8,1143.3 1558.8,1142.1 1555.8,1140.8 1552.8,1139.6 1549.8,1138.3 1546.7,1137.1 1543.7,1136 1540.7,1134.8 1537.7,1133.6 1534.7,1132.5 1531.7,1131.4 1528.7,1130.3 1525.7,1129.2 1522.7,1128.1 1519.7,1127 1516.6,1126 1513.6,1125 1510.6,1124 1507.6,1123 1504.6,1122 1501.6,1121.1 1498.6,1120.2 1495.6,1119.2 1492.6,1118.4 1489.5,1117.5 1486.5,1116.6 1483.5,1115.8 1480.5,1115 1477.5,1114.2 1474.5,1113.4 1471.5,1112.6 1468.5,1111.9 1465.5,1111.2 1462.5,1110.5 1459.4,1109.8 1456.4,1109.1 1453.4,1108.5 1450.4,1107.9 1447.4,1107.3 1444.4,1106.7 1441.4,1106.1 1438.4,1105.6 1435.4,1105.1 1432.4,1104.6 1429.3,1104.1 1426.3,1103.7 1423.3,1103.2 1420.3,1102.8 1417.3,1102.4 1414.3,1102.1 1411.3,1101.7 1408.3,1101.4 1405.3,1101.1 1402.2,1100.8 1399.2,1100.6 1396.2,1100.3 1393.2,1100.1 1390.2,1099.9 1387.2,1099.8 1384.2,1099.6 1381.2,1099.5 1378.2,1099.4 1375.2,1099.3 1372.1,1099.3 1369.1,1099.3 1366.1,1099.3 1363.1,1099.3 1360.1,1099.4 1357.1,1099.5 1354.1,1099.6 1351.1,1099.8 1348.1,1099.9 1345.1,1100.1 1342,1100.3 1339,1100.6 1336,1100.8 1333,1101.1 1330,1101.4 1327,1101.8 1324,1102.1 1321,1102.5 1318,1102.9 1314.9,1103.4 1311.9,1103.8 1308.9,1104.3 1305.9,1104.9 1302.9,1105.4 1299.9,1106 1296.9,1106.6 1293.9,1107.2 1290.9,1107.9 1287.9,1108.6 1284.8,1109.3 1281.8,1110 1278.8,1110.8 1275.8,1111.6 1272.8,1112.4 1269.8,1113.2 1266.8,1114.1 1263.8,1115 1260.8,1116 1257.8,1116.9 1254.7,1117.9 1251.7,1118.9 1248.7,1120 1245.7,1121 1242.7,1122.1 1239.7,1123.2 1236.7,1124.4 1233.7,1125.5 1230.7,1126.7 1227.6,1127.9 1224.6,1129.1 1221.6,1130.4 1218.6,1131.6 1215.6,1132.9 1212.6,1134.1 1209.6,1135.4 1206.6,1136.7 1203.6,1138 1200.6,1139.4 1197.5,1140.7 1194.5,1142 1191.5,1143.4 1188.5,1144.8 1185.5,1146.1 1182.5,1147.5 1179.5,1148.9 1176.5,1150.2 1173.5,1151.6 1170.4,1153 1167.4,1154.4 1164.4,1155.8 1161.4,1157.2 1158.4,1158.6 1155.4,1160 1152.4,1161.3 1149.4,1162.7 1146.4,1164.1 1143.4,1165.5 1140.3,1166.8 1137.3,1168.2 1134.3,1169.5 1131.3,1170.8 1128.3,1172.1 1125.3,1173.4 1122.3,1174.7 1119.3,1176 1116.3,1177.3 1113.3,1178.5 1110.2,1179.7 1107.2,1180.9 1104.2,1182.1 1101.2,1183.3 1098.2,1184.4 1095.2,1185.5 1092.2,1186.6 1089.2,1187.7 1086.2,1188.8 1083.1,1189.8 1080.1,1190.8 1077.1,1191.7 1074.1,1192.7 1071.1,1193.6 1068.1,1194.5 1065.1,1195.3 1062.1,1196.1 1059.1,1196.9 1056.1,1197.7 1053,1198.5 1050,1199.2 1047,1199.9 1044,1200.5 1041,1201.2 1038,1201.8 1035,1202.4 1032,1202.9 1029,1203.5 1026,1204 1022.9,1204.4 1019.9,1204.9 1016.9,1205.3 1013.9,1205.8 1010.9,1206.1 1007.9,1206.5 1004.9,1206.8 1001.9,1207.2 998.9,1207.4 995.8,1207.7 992.8,1208 989.8,1208.2 986.8,1208.4 983.8,1208.5 980.8,1208.7 977.8,1208.8 974.8,1208.9 971.8,1209 968.8,1209.1 965.7,1209.1 962.7,1209.2 959.7,1209.2 956.7,1209.2 953.7,1209.1 950.7,1209.1 947.7,1209 944.7,1208.9 941.7,1208.8 938.7,1208.7 935.6,1208.5 932.6,1208.4 929.6,1208.2 926.6,1208 923.6,1207.8 920.6,1207.5 917.6,1207.3 914.6,1207 911.6,1206.7 908.5,1206.4 905.5,1206.1 902.5,1205.8 899.5,1205.4 896.5,1205 893.5,1204.6 890.5,1204.2 887.5,1203.8 884.5,1203.4 881.5,1203 878.4,1202.5 875.4,1202 872.4,1201.6 869.4,1201.1 866.4,1200.6 863.4,1200 860.4,1199.5 857.4,1199 854.4,1198.4 851.4,1197.8 848.3,1197.2 845.3,1196.7 842.3,1196.1 839.3,1195.5 836.3,1194.8 833.3,1194.2 830.3,1193.6 827.3,1192.9 824.3,1192.3 821.2,1191.6 818.2,1190.9 815.2,1190.3 812.2,1189.6 809.2,1188.9 806.2,1188.2 803.2,1187.5 800.2,1186.8 797.2,1186 794.2,1185.3 791.1,1184.6 788.1,1183.9 785.1,1183.1 782.1,1182.4 779.1,1181.7 776.1,1180.9 773.1,1180.2 770.1,1179.4 767.1,1178.6 764.1,1177.9 761,1177.1 758,1176.3 755,1175.5 752,1174.7 749,1173.8 746,1173 743,1172.1 740,1171.2 737,1170.3 733.9,1169.3 730.9,1168.3 727.9,1167.3 724.9,1166.2 721.9,1165.1 718.9,1164 715.9,1162.8 712.9,1161.5 709.9,1160.3 706.9,1158.9 703.8,1157.6 700.8,1156.1 697.8,1154.6 694.8,1153.1 691.8,1151.5 688.8,1149.8 685.8,1148 682.8,1146.2 679.8,1144.3 676.8,1142.4 673.7,1140.3 670.7,1138.3 667.7,1136.1 664.7,1133.9 661.7,1131.6 658.7,1129.2 655.7,1126.9 652.7,1124.4 649.7,1121.9 646.6,1119.3 643.6,1116.7 640.6,1114.1 637.6,1111.4 634.6,1108.7 631.6,1105.9 628.6,1103.1 625.6,1100.2 622.6,1097.3 619.6,1094.4 616.5,1091.5 613.5,1088.5 610.5,1085.5 607.5,1082.5 604.5,1079.4 601.5,1076.4 598.5,1073.3 595.5,1070.2 592.5,1067.1 589.5,1064 586.4,1060.9 583.4,1057.7 580.4,1054.6 577.4,1051.5 574.4,1048.3 571.4,1045.2 568.4,1042.1 565.4,1039 562.4,1035.8 559.3,1032.7 556.3,1029.6 553.3,1026.6 550.3,1023.5 547.3,1020.5 544.3,1017.4 541.3,1014.4 538.3,1011.5 535.3,1008.5 532.3,1005.6 529.2,1002.7 526.2,999.9 523.2,997.1 520.2,994.3 517.2,991.5 514.2,988.8 511.2,986.2 508.2,983.6 505.2,981 502.2,978.5 499.1,976.1 496.1,973.7 493.1,971.3 490.1,969 487.1,966.8 484.1,964.6 481.1,962.6 478.1,960.5 475.1,958.6 472,956.7 469,954.9 466,953.1 463,951.5 460,949.9 457,948.4 454,946.9 451,945.6 448,944.4 445,943.2 441.9,942.1 438.9,941.2 435.9,940.3 432.9,939.5 429.9,938.8 426.9,938.3 423.9,937.8 420.9,937.4 417.9,937.2 414.8,937 411.8,937 408.8,937.1 405.8,937.3 402.8,937.5 399.8,937.9 396.8,938.4 393.8,939 390.8,939.8 387.8,940.6 384.7,941.5 381.7,942.5 378.7,943.6 375.7,944.8 372.7,946.1 369.7,947.5 366.7,949 363.7,950.6 360.7,952.2 357.7,954 354.6,955.8 351.6,957.8 348.6,959.8 345.6,961.9 342.6,964.1 339.6,966.3 336.6,968.7 333.6,971.1 330.6,973.6 327.5,976.2 324.5,978.8 321.5,981.6 318.5,984.3 315.5,987.2 312.5,990.1 309.5,993.1 306.5,996.2 303.5,999.3 300.5,1002.5 297.4,1005.8 294.4,1009.1 291.4,1012.4 288.4,1015.9 285.4,1019.3 282.4,1022.9 279.4,1026.5 276.4,1030.1 273.4,1033.8 270.4,1037.5 267.3,1041.3 264.3,1045.1 261.3,1049 258.3,1052.9 255.3,1056.9 252.3,1060.9 249.3,1064.9 246.3,1069 243.3,1073.1 240.2,1077.3 237.2,1081.4 234.2,1085.6 231.2,1089.9 228.2,1094.1 225.2,1098.4 222.2,1102.8 219.2,1107.1 216.2,1111.5 213.2,1115.8 210.1,1120.3 207.1,1124.7 204.1,1129.1 201.1,1133.6 198.1,1138 195.1,1142.5 192.1,1147 189.1,1151.5 186.1,1156.1 183.1,1160.6 180,1165.1 177,1169.6 174,1174.2 171,1178.7 168,1183.2 165,1187.8 162,1192.3 159,1196.8 156,1201.3" fill="#CA0020" fill-opacity="0.5" clip-path="url(#cC)"/>
<g fill="none" stroke="#CA0020" stroke-width="3.2"><circle cx="156" cy="1165.5" r="6.7"/><circle cx="156" cy="1179.1" r="6.7"/><circle cx="156" cy="1186.7" r="6.7"/><circle cx="156" cy="1192.7" r="6.7"/><circle cx="156" cy="1203.3" r="6.7"/><circle cx="330.5" cy="920.5" r="6.7"/><circle cx="330.5" cy="932.6" r="6.7"/><circle cx="330.5" cy="949.2" r="6.7"/><circle cx="330.5" cy="958.3" r="6.7"/><circle cx="330.5" cy="981" r="6.7"/><circle cx="330.5" cy="984" r="6.7"/><circle cx="330.5" cy="1021.8" r="6.7"/><circle cx="454.8" cy="920.5" r="6.7"/><circle cx="454.8" cy="939.2" r="6.7"/><circle cx="579.4" cy="1029.4" r="6.7"/><circle cx="579.4" cy="1035.4" r="6.7"/><circle cx="579.4" cy="1044.5" r="6.7"/><circle cx="579.4" cy="1052.1" r="6.7"/><circle cx="579.4" cy="1058.1" r="6.7"/><circle cx="579.4" cy="1062.7" r="6.7"/><circle cx="716.4" cy="1118.6" r="6.7"/><circle cx="716.4" cy="1126.2" r="6.7"/><circle cx="716.4" cy="1130.7" r="6.7"/><circle cx="716.4" cy="1144.3" r="6.7"/><circle cx="716.4" cy="1150.4" r="6.7"/><circle cx="716.4" cy="1154.9" r="6.7"/><circle cx="716.4" cy="1162.5" r="6.7"/><circle cx="716.4" cy="1170" r="6.7"/><circle cx="833.7" cy="1162.5" r="6.7"/><circle cx="833.7" cy="1174.6" r="6.7"/><circle cx="833.7" cy="1186.7" r="6.7"/><circle cx="833.7" cy="1195.8" r="6.7"/><circle cx="839.8" cy="1168.5" r="6.7"/><circle cx="839.8" cy="1180.6" r="6.7"/><circle cx="839.8" cy="1192.7" r="6.7"/><circle cx="965.2" cy="1178.7" r="6.7"/><circle cx="965.2" cy="1191.3" r="6.7"/><circle cx="965.2" cy="1197.1" r="6.7"/><circle cx="965.2" cy="1204" r="6.7"/><circle cx="965.2" cy="1208.5" r="6.7"/><circle cx="1102.1" cy="1137.5" r="6.7"/><circle cx="1102.1" cy="1165" r="6.7"/><circle cx="1102.1" cy="1169.6" r="6.7"/><circle cx="1102.1" cy="1174.1" r="6.7"/><circle cx="1102.1" cy="1178.7" r="6.7"/><circle cx="1102.1" cy="1183.3" r="6.7"/><circle cx="1102.1" cy="1187.9" r="6.7"/><circle cx="1102.1" cy="1202.8" r="6.7"/><circle cx="1183.1" cy="1116.8" r="6.7"/><circle cx="1183.1" cy="1123.7" r="6.7"/><circle cx="1183.1" cy="1135.2" r="6.7"/><circle cx="1183.1" cy="1139.8" r="6.7"/><circle cx="1183.1" cy="1148.9" r="6.7"/><circle cx="1183.1" cy="1153.5" r="6.7"/><circle cx="1183.1" cy="1158.1" r="6.7"/><circle cx="1183.1" cy="1167.3" r="6.7"/><circle cx="1270.2" cy="1036.6" r="6.7"/><circle cx="1270.2" cy="1066.4" r="6.7"/><circle cx="1270.2" cy="1071" r="6.7"/><circle cx="1270.2" cy="1098.5" r="6.7"/><circle cx="1270.2" cy="1103.1" r="6.7"/><circle cx="1270.2" cy="1115.7" r="6.7"/><circle cx="1270.2" cy="1129.4" r="6.7"/><circle cx="1270.2" cy="1144.3" r="6.7"/><circle cx="1270.2" cy="1177.6" r="6.7"/><circle cx="1294.3" cy="1035.4" r="6.7"/><circle cx="1294.3" cy="1071" r="6.7"/><circle cx="1294.3" cy="1076.7" r="6.7"/><circle cx="1294.3" cy="1091.6" r="6.7"/><circle cx="1294.3" cy="1098.5" r="6.7"/><circle cx="1294.3" cy="1128.3" r="6.7"/><circle cx="1294.3" cy="1155.8" r="6.7"/><circle cx="1501.2" cy="1054.9" r="6.7"/><circle cx="1501.2" cy="1076.6" r="6.7"/><circle cx="1501.2" cy="1089.3" r="6.7"/><circle cx="1501.2" cy="1098.4" r="6.7"/><circle cx="1501.2" cy="1103" r="6.7"/><circle cx="1501.2" cy="1171.8" r="6.7"/><circle cx="1543.6" cy="1108.7" r="6.7"/><circle cx="1543.6" cy="1112.2" r="6.7"/><circle cx="1543.6" cy="1115.6" r="6.7"/><circle cx="1543.6" cy="1123.6" r="6.7"/><circle cx="1543.6" cy="1129.4" r="6.7"/><circle cx="1543.6" cy="1134" r="6.7"/></g>
<polyline points="156,1188.3 159,1183.8 162,1179.3 165,1174.8 168,1170.2 171,1165.7 174,1161.1 177,1156.6 180,1152.1 183.1,1147.5 186.1,1143 189.1,1138.5 192.1,1134 195.1,1129.5 198.1,1125 201.1,1120.5 204.1,1116 207.1,1111.6 210.1,1107.1 213.2,1102.7 216.2,1098.3 219.2,1094 222.2,1089.6 225.2,1085.3 228.2,1081 231.2,1076.7 234.2,1072.5 237.2,1068.3 240.2,1064.1 243.3,1059.9 246.3,1055.8 249.3,1051.7 252.3,1047.7 255.3,1043.7 258.3,1039.7 261.3,1035.8 264.3,1031.9 267.3,1028.1 270.4,1024.3 273.4,1020.6 276.4,1016.9 279.4,1013.2 282.4,1009.6 285.4,1006.1 288.4,1002.6 291.4,999.2 294.4,995.8 297.4,992.5 300.5,989.2 303.5,986 306.5,982.9 309.5,979.8 312.5,976.8 315.5,973.9 318.5,971 321.5,968.2 324.5,965.5 327.5,962.8 330.6,960.3 333.6,957.8 336.6,955.3 339.6,953 342.6,950.7 345.6,948.5 348.6,946.4 351.6,944.4 354.6,942.5 357.7,940.6 360.7,938.8 363.7,937.2 366.7,935.6 369.7,934.1 372.7,932.7 375.7,931.4 378.7,930.2 381.7,929 384.7,928 387.8,927.1 390.8,926.3 393.8,925.6 396.8,925 399.8,924.5 402.8,924.1 405.8,923.8 408.8,923.6 411.8,923.5 414.8,923.5 417.9,923.7 420.9,924 423.9,924.3 426.9,924.8 429.9,925.4 432.9,926.1 435.9,926.8 438.9,927.7 441.9,928.7 445,929.8 448,930.9 451,932.2 454,933.5 457,934.9 460,936.4 463,938 466,939.7 469,941.4 472,943.3 475.1,945.2 478.1,947.1 481.1,949.1 484.1,951.2 487.1,953.4 490.1,955.6 493.1,957.9 496.1,960.3 499.1,962.7 502.2,965.1 505.2,967.7 508.2,970.2 511.2,972.8 514.2,975.5 517.2,978.2 520.2,980.9 523.2,983.7 526.2,986.5 529.2,989.4 532.3,992.3 535.3,995.2 538.3,998.1 541.3,1001.1 544.3,1004.1 547.3,1007.2 550.3,1010.2 553.3,1013.3 556.3,1016.3 559.3,1019.4 562.4,1022.5 565.4,1025.7 568.4,1028.8 571.4,1031.9 574.4,1035.1 577.4,1038.2 580.4,1041.3 583.4,1044.5 586.4,1047.6 589.5,1050.7 592.5,1053.9 595.5,1057 598.5,1060.1 601.5,1063.2 604.5,1066.2 607.5,1069.3 610.5,1072.3 613.5,1075.3 616.5,1078.3 619.6,1081.2 622.6,1084.1 625.6,1087 628.6,1089.9 631.6,1092.7 634.6,1095.5 637.6,1098.2 640.6,1100.9 643.6,1103.6 646.6,1106.2 649.7,1108.7 652.7,1111.2 655.7,1113.7 658.7,1116.1 661.7,1118.4 664.7,1120.7 667.7,1123 670.7,1125.1 673.7,1127.2 676.8,1129.2 679.8,1131.2 682.8,1133.1 685.8,1134.9 688.8,1136.7 691.8,1138.3 694.8,1140 697.8,1141.5 700.8,1143 703.8,1144.5 706.9,1145.8 709.9,1147.2 712.9,1148.5 715.9,1149.7 718.9,1150.9 721.9,1152 724.9,1153.1 727.9,1154.2 730.9,1155.2 733.9,1156.2 737,1157.2 740,1158.1 743,1159.1 746,1159.9 749,1160.8 752,1161.6 755,1162.5 758,1163.3 761,1164.1 764.1,1164.9 767.1,1165.6 770.1,1166.4 773.1,1167.2 776.1,1167.9 779.1,1168.7 782.1,1169.4 785.1,1170.2 788.1,1170.9 791.1,1171.7 794.2,1172.4 797.2,1173.2 800.2,1173.9 803.2,1174.6 806.2,1175.3 809.2,1176 812.2,1176.8 815.2,1177.5 818.2,1178.1 821.2,1178.8 824.3,1179.5 827.3,1180.2 830.3,1180.8 833.3,1181.5 836.3,1182.1 839.3,1182.8 842.3,1183.4 845.3,1184 848.3,1184.6 851.4,1185.2 854.4,1185.8 857.4,1186.3 860.4,1186.9 863.4,1187.4 866.4,1188 869.4,1188.5 872.4,1189 875.4,1189.5 878.4,1190 881.5,1190.5 884.5,1190.9 887.5,1191.3 890.5,1191.8 893.5,1192.2 896.5,1192.6 899.5,1193 902.5,1193.3 905.5,1193.7 908.5,1194 911.6,1194.3 914.6,1194.6 917.6,1194.9 920.6,1195.2 923.6,1195.4 926.6,1195.7 929.6,1195.9 932.6,1196.1 935.6,1196.3 938.7,1196.4 941.7,1196.6 944.7,1196.7 947.7,1196.8 950.7,1196.9 953.7,1196.9 956.7,1197 959.7,1197 962.7,1197 965.7,1197 968.8,1197 971.8,1196.9 974.8,1196.8 977.8,1196.7 980.8,1196.6 983.8,1196.5 986.8,1196.3 989.8,1196.1 992.8,1195.9 995.8,1195.7 998.9,1195.4 1001.9,1195.2 1004.9,1194.9 1007.9,1194.5 1010.9,1194.2 1013.9,1193.8 1016.9,1193.4 1019.9,1193 1022.9,1192.6 1026,1192.1 1029,1191.6 1032,1191.1 1035,1190.6 1038,1190 1041,1189.4 1044,1188.8 1047,1188.1 1050,1187.5 1053,1186.8 1056.1,1186 1059.1,1185.3 1062.1,1184.5 1065.1,1183.7 1068.1,1182.9 1071.1,1182 1074.1,1181.1 1077.1,1180.2 1080.1,1179.2 1083.1,1178.3 1086.2,1177.3 1089.2,1176.2 1092.2,1175.2 1095.2,1174.1 1098.2,1173 1101.2,1171.9 1104.2,1170.7 1107.2,1169.6 1110.2,1168.4 1113.3,1167.2 1116.3,1165.9 1119.3,1164.7 1122.3,1163.4 1125.3,1162.2 1128.3,1160.9 1131.3,1159.6 1134.3,1158.3 1137.3,1157 1140.3,1155.6 1143.4,1154.3 1146.4,1153 1149.4,1151.6 1152.4,1150.2 1155.4,1148.9 1158.4,1147.5 1161.4,1146.1 1164.4,1144.8 1167.4,1143.4 1170.4,1142 1173.5,1140.6 1176.5,1139.2 1179.5,1137.9 1182.5,1136.5 1185.5,1135.1 1188.5,1133.8 1191.5,1132.4 1194.5,1131 1197.5,1129.7 1200.6,1128.4 1203.6,1127 1206.6,1125.7 1209.6,1124.4 1212.6,1123.1 1215.6,1121.9 1218.6,1120.6 1221.6,1119.4 1224.6,1118.1 1227.6,1116.9 1230.7,1115.7 1233.7,1114.5 1236.7,1113.4 1239.7,1112.2 1242.7,1111.1 1245.7,1110 1248.7,1109 1251.7,1107.9 1254.7,1106.9 1257.8,1105.9 1260.8,1105 1263.8,1104 1266.8,1103.1 1269.8,1102.2 1272.8,1101.4 1275.8,1100.6 1278.8,1099.8 1281.8,1099 1284.8,1098.3 1287.9,1097.6 1290.9,1096.9 1293.9,1096.2 1296.9,1095.6 1299.9,1095 1302.9,1094.4 1305.9,1093.9 1308.9,1093.3 1311.9,1092.8 1314.9,1092.4 1318,1091.9 1321,1091.5 1324,1091.1 1327,1090.8 1330,1090.4 1333,1090.1 1336,1089.8 1339,1089.6 1342,1089.3 1345.1,1089.1 1348.1,1088.9 1351.1,1088.8 1354.1,1088.6 1357.1,1088.5 1360.1,1088.4 1363.1,1088.3 1366.1,1088.3 1369.1,1088.3 1372.1,1088.3 1375.2,1088.3 1378.2,1088.4 1381.2,1088.5 1384.2,1088.6 1387.2,1088.7 1390.2,1088.8 1393.2,1089 1396.2,1089.2 1399.2,1089.4 1402.2,1089.7 1405.3,1089.9 1408.3,1090.2 1411.3,1090.5 1414.3,1090.8 1417.3,1091.2 1420.3,1091.6 1423.3,1091.9 1426.3,1092.4 1429.3,1092.8 1432.4,1093.3 1435.4,1093.7 1438.4,1094.2 1441.4,1094.8 1444.4,1095.3 1447.4,1095.9 1450.4,1096.4 1453.4,1097 1456.4,1097.7 1459.4,1098.3 1462.5,1099 1465.5,1099.7 1468.5,1100.4 1471.5,1101.1 1474.5,1101.8 1477.5,1102.6 1480.5,1103.4 1483.5,1104.2 1486.5,1105 1489.5,1105.8 1492.6,1106.7 1495.6,1107.6 1498.6,1108.5 1501.6,1109.4 1504.6,1110.3 1507.6,1111.3 1510.6,1112.2 1513.6,1113.2 1516.6,1114.2 1519.7,1115.2 1522.7,1116.3 1525.7,1117.3 1528.7,1118.4 1531.7,1119.5 1534.7,1120.6 1537.7,1121.7 1540.7,1122.9 1543.7,1124 1546.7,1125.2 1549.8,1126.4 1552.8,1127.6 1555.8,1128.8 1558.8,1130.1 1561.8,1131.3 1564.8,1132.6 1567.8,1133.9 1570.8,1135.2 1573.8,1136.5 1576.8,1137.8 1579.9,1139.2 1582.9,1140.5 1585.9,1141.9 1588.9,1143.3 1591.9,1144.7 1594.9,1146.1 1597.9,1147.5 1600.9,1149 1603.9,1150.4 1607,1151.9 1610,1153.4 1613,1154.9 1616,1156.4 1619,1158 1622,1159.5 1625,1161.1 1628,1162.6 1631,1164.2 1634,1165.8 1637.1,1167.4 1640.1,1169 1643.1,1170.7 1646.1,1172.3 1649.1,1174" fill="none" stroke="#000" stroke-width="3" stroke-linejoin="round" stroke-linecap="butt" clip-path="url(#cC)"/>
<polygon points="597.8,1175.8 600.8,1167.9 603.8,1159.9 606.8,1152 609.9,1144.1 612.9,1136.1 615.9,1128.2 618.9,1120.4 621.9,1112.6 624.9,1104.8 627.9,1097.1 630.9,1089.4 634,1081.8 637,1074.3 640,1066.9 643,1059.5 646,1052.3 649,1045.1 652,1038.1 655,1031.1 658.1,1024.3 661.1,1017.6 664.1,1011.2 667.1,1004.9 670.1,998.7 673.1,992.7 676.1,986.8 679.1,981.2 682.2,975.7 685.2,970.3 688.2,965.2 691.2,960.3 694.2,955.5 697.2,951 700.2,946.7 703.2,942.6 706.3,938.7 709.3,935.1 712.3,931.8 715.3,928.6 718.3,925.7 721.3,923.1 724.3,920.6 727.3,918.4 730.4,916.4 733.4,914.6 736.4,913 739.4,911.6 742.4,910.4 745.4,909.4 748.4,908.6 751.4,908 754.4,907.6 757.5,907.3 760.5,907.2 763.5,907.2 766.5,907.4 769.5,907.8 772.5,908.3 775.5,908.9 778.5,909.7 781.6,910.6 784.6,911.7 787.6,912.9 790.6,914.1 793.6,915.6 796.6,917.1 799.6,918.7 802.6,920.4 805.7,922.2 808.7,924.1 811.7,926.1 814.7,928.1 817.7,930.3 820.7,932.5 823.7,934.8 826.7,937.1 829.8,939.5 832.8,941.9 835.8,944.4 838.8,946.9 841.8,949.5 844.8,952.1 847.8,954.7 850.8,957.4 853.9,960.1 856.9,962.8 859.9,965.5 862.9,968.3 865.9,971.1 868.9,973.9 871.9,976.7 874.9,979.5 878,982.4 881,985.2 884,988.1 887,991 890,993.8 893,996.7 896,999.6 899,1002.4 902.1,1005.3 905.1,1008.1 908.1,1011 911.1,1013.8 914.1,1016.6 917.1,1019.4 920.1,1022.1 923.1,1024.9 926.1,1027.6 929.2,1030.3 932.2,1032.9 935.2,1035.5 938.2,1038.1 941.2,1040.7 944.2,1043.2 947.2,1045.7 950.2,1048.1 953.3,1050.5 956.3,1052.8 959.3,1055.1 962.3,1057.3 965.3,1059.5 968.3,1061.6 971.3,1063.7 974.3,1065.7 977.4,1067.6 980.4,1069.5 983.4,1071.3 986.4,1073.1 989.4,1074.7 992.4,1076.3 995.4,1077.9 998.4,1079.4 1001.5,1080.8 1004.5,1082.1 1007.5,1083.4 1010.5,1084.6 1013.5,1085.7 1016.5,1086.8 1019.5,1087.8 1022.5,1088.8 1025.6,1089.6 1028.6,1090.4 1031.6,1091.2 1034.6,1091.8 1037.6,1092.4 1040.6,1092.9 1043.6,1093.4 1046.6,1093.7 1049.7,1094 1052.7,1094.3 1055.7,1094.4 1058.7,1094.5 1061.7,1094.6 1064.7,1094.5 1067.7,1094.4 1070.7,1094.3 1073.8,1094.1 1076.8,1093.8 1079.8,1093.5 1082.8,1093.1 1085.8,1092.7 1088.8,1092.2 1091.8,1091.6 1094.8,1091 1097.8,1090.3 1100.9,1089.6 1103.9,1088.8 1106.9,1088 1109.9,1087.1 1112.9,1086.2 1115.9,1085.3 1118.9,1084.3 1121.9,1083.3 1125,1082.3 1128,1081.3 1131,1080.2 1134,1079.2 1137,1078.1 1140,1077.1 1143,1076.1 1146,1075 1149.1,1074 1152.1,1073.1 1155.1,1072.1 1158.1,1071.2 1161.1,1070.3 1164.1,1069.5 1167.1,1068.7 1170.1,1067.9 1173.2,1067.2 1176.2,1066.6 1179.2,1066 1182.2,1065.4 1185.2,1064.9 1188.2,1064.5 1191.2,1064.1 1194.2,1063.7 1197.3,1063.4 1200.3,1063.1 1203.3,1062.9 1206.3,1062.7 1209.3,1062.6 1212.3,1062.4 1215.3,1062.3 1218.3,1062.3 1221.4,1062.3 1224.4,1062.3 1227.4,1062.3 1230.4,1062.4 1233.4,1062.5 1236.4,1062.6 1239.4,1062.7 1242.4,1062.9 1245.5,1063.1 1248.5,1063.3 1251.5,1063.5 1254.5,1063.8 1257.5,1064.1 1260.5,1064.4 1263.5,1064.7 1266.5,1065 1269.5,1065.4 1272.6,1065.8 1275.6,1066.2 1278.6,1066.6 1281.6,1067 1284.6,1067.5 1287.6,1068 1290.6,1068.5 1293.6,1069 1296.7,1069.5 1299.7,1070 1302.7,1070.6 1305.7,1071.1 1308.7,1071.7 1311.7,1072.3 1314.7,1072.9 1317.7,1073.5 1320.8,1074.1 1323.8,1074.8 1326.8,1075.4 1329.8,1076.1 1332.8,1076.8 1335.8,1077.5 1338.8,1078.2 1341.8,1078.9 1344.9,1079.7 1347.9,1080.4 1350.9,1081.2 1353.9,1081.9 1356.9,1082.7 1359.9,1083.5 1362.9,1084.3 1365.9,1085.1 1369,1085.9 1372,1086.8 1375,1087.6 1378,1088.5 1381,1089.3 1384,1090.2 1387,1091 1390,1091.9 1393.1,1092.8 1396.1,1093.7 1399.1,1094.6 1402.1,1095.5 1405.1,1096.4 1408.1,1097.3 1411.1,1098.2 1414.1,1099.1 1417.2,1100 1420.2,1101 1423.2,1101.9 1426.2,1102.8 1429.2,1103.8 1432.2,1104.7 1435.2,1105.7 1438.2,1106.6 1441.2,1107.6 1444.3,1108.5 1447.3,1109.5 1450.3,1110.4 1453.3,1111.4 1456.3,1112.4 1459.3,1113.3 1462.3,1114.3 1465.3,1115.3 1468.4,1116.3 1471.4,1117.2 1474.4,1118.2 1477.4,1119.2 1480.4,1120.2 1483.4,1121.2 1486.4,1122.2 1489.4,1123.2 1492.5,1124.2 1495.5,1125.2 1498.5,1126.3 1501.5,1127.3 1504.5,1128.3 1507.5,1129.3 1510.5,1130.3 1513.5,1131.4 1516.6,1132.4 1519.6,1133.4 1522.6,1134.5 1525.6,1135.5 1528.6,1136.6 1531.6,1137.6 1534.6,1138.7 1537.6,1139.7 1540.7,1140.8 1543.7,1141.8 1546.7,1142.9 1549.7,1144 1552.7,1145 1555.7,1146.1 1558.7,1147.2 1561.7,1148.3 1564.8,1149.3 1567.8,1150.4 1570.8,1151.5 1573.8,1152.6 1576.8,1153.7 1579.8,1154.8 1582.8,1155.9 1585.8,1157 1588.9,1158.1 1591.9,1159.2 1594.9,1160.3 1597.9,1161.4 1600.9,1162.5 1603.9,1163.6 1606.9,1164.7 1609.9,1165.9 1612.9,1167 1616,1168.1 1619,1169.2 1622,1170.4 1625,1171.5 1628,1172.6 1631,1173.8 1634,1174.9 1637,1176.1 1640.1,1177.2 1643.1,1178.3 1646.1,1179.5 1649.1,1180.6 1649.1,1210.6 1646.1,1209.5 1643.1,1208.3 1640.1,1207.1 1637,1206 1634,1204.8 1631,1203.7 1628,1202.5 1625,1201.4 1622,1200.2 1619,1199.1 1616,1197.9 1612.9,1196.8 1609.9,1195.6 1606.9,1194.5 1603.9,1193.4 1600.9,1192.2 1597.9,1191.1 1594.9,1190 1591.9,1188.8 1588.9,1187.7 1585.8,1186.6 1582.8,1185.5 1579.8,1184.4 1576.8,1183.3 1573.8,1182.2 1570.8,1181.1 1567.8,1180 1564.8,1178.9 1561.7,1177.8 1558.7,1176.7 1555.7,1175.6 1552.7,1174.5 1549.7,1173.4 1546.7,1172.3 1543.7,1171.2 1540.7,1170.2 1537.6,1169.1 1534.6,1168 1531.6,1166.9 1528.6,1165.9 1525.6,1164.8 1522.6,1163.8 1519.6,1162.7 1516.6,1161.6 1513.5,1160.6 1510.5,1159.5 1507.5,1158.5 1504.5,1157.5 1501.5,1156.4 1498.5,1155.4 1495.5,1154.4 1492.5,1153.3 1489.4,1152.3 1486.4,1151.3 1483.4,1150.3 1480.4,1149.3 1477.4,1148.2 1474.4,1147.2 1471.4,1146.2 1468.4,1145.2 1465.3,1144.2 1462.3,1143.2 1459.3,1142.2 1456.3,1141.3 1453.3,1140.3 1450.3,1139.3 1447.3,1138.3 1444.3,1137.3 1441.2,1136.4 1438.2,1135.4 1435.2,1134.4 1432.2,1133.5 1429.2,1132.5 1426.2,1131.6 1423.2,1130.6 1420.2,1129.7 1417.2,1128.7 1414.1,1127.8 1411.1,1126.8 1408.1,1125.9 1405.1,1125 1402.1,1124.1 1399.1,1123.1 1396.1,1122.2 1393.1,1121.3 1390,1120.4 1387,1119.5 1384,1118.7 1381,1117.8 1378,1116.9 1375,1116 1372,1115.2 1369,1114.3 1365.9,1113.5 1362.9,1112.7 1359.9,1111.9 1356.9,1111.1 1353.9,1110.3 1350.9,1109.5 1347.9,1108.7 1344.9,1107.9 1341.8,1107.2 1338.8,1106.4 1335.8,1105.7 1332.8,1105 1329.8,1104.3 1326.8,1103.6 1323.8,1102.9 1320.8,1102.3 1317.7,1101.6 1314.7,1101 1311.7,1100.4 1308.7,1099.8 1305.7,1099.2 1302.7,1098.6 1299.7,1098 1296.7,1097.5 1293.6,1097 1290.6,1096.5 1287.6,1096.1 1284.6,1095.6 1281.6,1095.2 1278.6,1094.8 1275.6,1094.4 1272.6,1094 1269.5,1093.7 1266.5,1093.3 1263.5,1093 1260.5,1092.7 1257.5,1092.4 1254.5,1092.2 1251.5,1092 1248.5,1091.8 1245.5,1091.6 1242.4,1091.4 1239.4,1091.3 1236.4,1091.1 1233.4,1091.1 1230.4,1091 1227.4,1090.9 1224.4,1090.9 1221.4,1090.9 1218.3,1091 1215.3,1091.1 1212.3,1091.2 1209.3,1091.3 1206.3,1091.5 1203.3,1091.7 1200.3,1092 1197.3,1092.3 1194.2,1092.6 1191.2,1093 1188.2,1093.5 1185.2,1093.9 1182.2,1094.4 1179.2,1095 1176.2,1095.6 1173.2,1096.3 1170.1,1097 1167.1,1097.8 1164.1,1098.6 1161.1,1099.5 1158.1,1100.4 1155.1,1101.4 1152.1,1102.3 1149.1,1103.3 1146,1104.4 1143,1105.4 1140,1106.5 1137,1107.6 1134,1108.6 1131,1109.7 1128,1110.8 1125,1111.8 1121.9,1112.9 1118.9,1113.9 1115.9,1114.9 1112.9,1115.8 1109.9,1116.8 1106.9,1117.7 1103.9,1118.5 1100.9,1119.3 1097.8,1120.1 1094.8,1120.8 1091.8,1121.4 1088.8,1122 1085.8,1122.5 1082.8,1123 1079.8,1123.4 1076.8,1123.7 1073.8,1124 1070.7,1124.3 1067.7,1124.4 1064.7,1124.5 1061.7,1124.5 1058.7,1124.5 1055.7,1124.3 1052.7,1124.2 1049.7,1123.9 1046.6,1123.6 1043.6,1123.2 1040.6,1122.7 1037.6,1122.2 1034.6,1121.6 1031.6,1120.9 1028.6,1120.2 1025.6,1119.3 1022.5,1118.5 1019.5,1117.5 1016.5,1116.5 1013.5,1115.4 1010.5,1114.2 1007.5,1113 1004.5,1111.7 1001.5,1110.3 998.4,1108.9 995.4,1107.4 992.4,1105.8 989.4,1104.2 986.4,1102.5 983.4,1100.8 980.4,1098.9 977.4,1097 974.3,1095.1 971.3,1093.1 968.3,1091 965.3,1088.8 962.3,1086.6 959.3,1084.4 956.3,1082.1 953.3,1079.7 950.2,1077.3 947.2,1074.9 944.2,1072.4 941.2,1069.9 938.2,1067.3 935.2,1064.7 932.2,1062 929.2,1059.3 926.1,1056.6 923.1,1053.9 920.1,1051.1 917.1,1048.4 914.1,1045.6 911.1,1042.7 908.1,1039.9 905.1,1037 902.1,1034.2 899,1031.3 896,1028.4 893,1025.5 890,1022.7 887,1019.8 884,1016.9 881,1014 878,1011.1 874.9,1008.3 871.9,1005.4 868.9,1002.6 865.9,999.7 862.9,996.9 859.9,994.1 856.9,991.4 853.9,988.6 850.8,985.9 847.8,983.2 844.8,980.6 841.8,978 838.8,975.4 835.8,972.9 832.8,970.3 829.8,967.9 826.7,965.5 823.7,963.1 820.7,960.8 817.7,958.6 814.7,956.5 811.7,954.4 808.7,952.4 805.7,950.5 802.6,948.6 799.6,946.9 796.6,945.3 793.6,943.7 790.6,942.3 787.6,941 784.6,939.8 781.6,938.8 778.5,937.8 775.5,937 772.5,936.3 769.5,935.8 766.5,935.4 763.5,935.2 760.5,935.2 757.5,935.3 754.4,935.6 751.4,936 748.4,936.6 745.4,937.4 742.4,938.4 739.4,939.6 736.4,941 733.4,942.6 730.4,944.4 727.3,946.4 724.3,948.6 721.3,951.1 718.3,953.7 715.3,956.6 712.3,959.8 709.3,963.1 706.3,966.7 703.2,970.6 700.2,974.7 697.2,979 694.2,983.5 691.2,988.3 688.2,993.2 685.2,998.3 682.2,1003.7 679.1,1009.2 676.1,1014.8 673.1,1020.7 670.1,1026.7 667.1,1032.9 664.1,1039.2 661.1,1045.6 658.1,1052.2 655,1058.8 652,1065.5 649,1072.4 646,1079.4 643,1086.4 640,1093.6 637,1100.8 634,1108.2 630.9,1115.6 627.9,1123 624.9,1130.5 621.9,1138.1 618.9,1145.7 615.9,1153.4 612.9,1161.1 609.9,1168.8 606.8,1176.6 603.8,1184.3 600.8,1192.1 597.8,1199.8" fill="#F4A582" fill-opacity="0.5" clip-path="url(#cC)"/>
<g fill="none" stroke="#F4A582" stroke-width="3.2"><circle cx="597.8" cy="1165.5" r="6.7"/><circle cx="597.8" cy="1171.6" r="6.7"/><circle cx="597.8" cy="1177.6" r="6.7"/><circle cx="597.8" cy="1186.7" r="6.7"/><circle cx="597.8" cy="1192.7" r="6.7"/><circle cx="597.8" cy="1201.8" r="6.7"/><circle cx="709.7" cy="937.1" r="6.7"/><circle cx="709.7" cy="962.8" r="6.7"/><circle cx="709.7" cy="968.9" r="6.7"/><circle cx="834.3" cy="935.6" r="6.7"/><circle cx="834.3" cy="940.2" r="6.7"/><circle cx="834.3" cy="952.3" r="6.7"/><circle cx="834.3" cy="973.4" r="6.7"/><circle cx="834.3" cy="981" r="6.7"/><circle cx="834.3" cy="994.6" r="6.7"/><circle cx="965.2" cy="1013.6" r="6.7"/><circle cx="965.2" cy="1057.2" r="6.7"/><circle cx="965.2" cy="1064.1" r="6.7"/><circle cx="965.2" cy="1069.8" r="6.7"/><circle cx="965.2" cy="1075.5" r="6.7"/><circle cx="965.2" cy="1089.3" r="6.7"/><circle cx="965.2" cy="1116.8" r="6.7"/><circle cx="1102.1" cy="1083.6" r="6.7"/><circle cx="1102.1" cy="1093.9" r="6.7"/><circle cx="1102.1" cy="1100.8" r="6.7"/><circle cx="1102.1" cy="1111.1" r="6.7"/><circle cx="1102.1" cy="1151.2" r="6.7"/><circle cx="1183.1" cy="1041.2" r="6.7"/><circle cx="1183.1" cy="1046.9" r="6.7"/><circle cx="1183.1" cy="1061.8" r="6.7"/><circle cx="1183.1" cy="1073.3" r="6.7"/><circle cx="1183.1" cy="1077.8" r="6.7"/><circle cx="1183.1" cy="1082.4" r="6.7"/><circle cx="1183.1" cy="1091.6" r="6.7"/><circle cx="1183.1" cy="1126" r="6.7"/><circle cx="1270.2" cy="1024" r="6.7"/><circle cx="1270.2" cy="1061.8" r="6.7"/><circle cx="1270.2" cy="1067.5" r="6.7"/><circle cx="1270.2" cy="1077.8" r="6.7"/><circle cx="1270.2" cy="1089.3" r="6.7"/><circle cx="1270.2" cy="1095" r="6.7"/><circle cx="1270.2" cy="1100.8" r="6.7"/><circle cx="1270.2" cy="1132.9" r="6.7"/><circle cx="1294.3" cy="1021.7" r="6.7"/><circle cx="1294.3" cy="1057.2" r="6.7"/><circle cx="1294.3" cy="1074.4" r="6.7"/><circle cx="1294.3" cy="1080.1" r="6.7"/><circle cx="1294.3" cy="1100.8" r="6.7"/><circle cx="1294.3" cy="1106.5" r="6.7"/><circle cx="1294.3" cy="1127.1" r="6.7"/><circle cx="1501.2" cy="1112.2" r="6.7"/><circle cx="1501.2" cy="1119.1" r="6.7"/><circle cx="1501.2" cy="1127.1" r="6.7"/><circle cx="1501.2" cy="1150" r="6.7"/><circle cx="1501.2" cy="1159.2" r="6.7"/><circle cx="1501.2" cy="1168.3" r="6.7"/><circle cx="1501.2" cy="1172.9" r="6.7"/><circle cx="1543.6" cy="1122.5" r="6.7"/><circle cx="1543.6" cy="1177.5" r="6.7"/></g>
<polyline points="597.8,1187.8 600.8,1180 603.8,1172.1 606.8,1164.3 609.9,1156.4 612.9,1148.6 615.9,1140.8 618.9,1133.1 621.9,1125.3 624.9,1117.7 627.9,1110.1 630.9,1102.5 634,1095 637,1087.6 640,1080.2 643,1073 646,1065.8 649,1058.8 652,1051.8 655,1045 658.1,1038.2 661.1,1031.6 664.1,1025.2 667.1,1018.9 670.1,1012.7 673.1,1006.7 676.1,1000.8 679.1,995.2 682.2,989.7 685.2,984.3 688.2,979.2 691.2,974.3 694.2,969.5 697.2,965 700.2,960.7 703.2,956.6 706.3,952.7 709.3,949.1 712.3,945.8 715.3,942.6 718.3,939.7 721.3,937.1 724.3,934.6 727.3,932.4 730.4,930.4 733.4,928.6 736.4,927 739.4,925.6 742.4,924.4 745.4,923.4 748.4,922.6 751.4,922 754.4,921.6 757.5,921.3 760.5,921.2 763.5,921.2 766.5,921.4 769.5,921.8 772.5,922.3 775.5,923 778.5,923.8 781.6,924.7 784.6,925.8 787.6,926.9 790.6,928.2 793.6,929.6 796.6,931.2 799.6,932.8 802.6,934.5 805.7,936.3 808.7,938.2 811.7,940.2 814.7,942.3 817.7,944.4 820.7,946.7 823.7,948.9 826.7,951.3 829.8,953.7 832.8,956.1 835.8,958.6 838.8,961.1 841.8,963.7 844.8,966.3 847.8,969 850.8,971.6 853.9,974.3 856.9,977.1 859.9,979.8 862.9,982.6 865.9,985.4 868.9,988.2 871.9,991 874.9,993.9 878,996.7 881,999.6 884,1002.5 887,1005.4 890,1008.2 893,1011.1 896,1014 899,1016.9 902.1,1019.7 905.1,1022.6 908.1,1025.4 911.1,1028.3 914.1,1031.1 917.1,1033.9 920.1,1036.6 923.1,1039.4 926.1,1042.1 929.2,1044.8 932.2,1047.5 935.2,1050.1 938.2,1052.7 941.2,1055.3 944.2,1057.8 947.2,1060.3 950.2,1062.7 953.3,1065.1 956.3,1067.5 959.3,1069.8 962.3,1072 965.3,1074.2 968.3,1076.3 971.3,1078.4 974.3,1080.4 977.4,1082.3 980.4,1084.2 983.4,1086 986.4,1087.8 989.4,1089.5 992.4,1091.1 995.4,1092.7 998.4,1094.1 1001.5,1095.6 1004.5,1096.9 1007.5,1098.2 1010.5,1099.4 1013.5,1100.6 1016.5,1101.7 1019.5,1102.7 1022.5,1103.6 1025.6,1104.5 1028.6,1105.3 1031.6,1106 1034.6,1106.7 1037.6,1107.3 1040.6,1107.8 1043.6,1108.3 1046.6,1108.7 1049.7,1109 1052.7,1109.2 1055.7,1109.4 1058.7,1109.5 1061.7,1109.5 1064.7,1109.5 1067.7,1109.4 1070.7,1109.3 1073.8,1109.1 1076.8,1108.8 1079.8,1108.4 1082.8,1108 1085.8,1107.6 1088.8,1107.1 1091.8,1106.5 1094.8,1105.9 1097.8,1105.2 1100.9,1104.5 1103.9,1103.7 1106.9,1102.8 1109.9,1101.9 1112.9,1101 1115.9,1100.1 1118.9,1099.1 1121.9,1098.1 1125,1097.1 1128,1096 1131,1095 1134,1093.9 1137,1092.8 1140,1091.8 1143,1090.7 1146,1089.7 1149.1,1088.7 1152.1,1087.7 1155.1,1086.7 1158.1,1085.8 1161.1,1084.9 1164.1,1084 1167.1,1083.2 1170.1,1082.5 1173.2,1081.8 1176.2,1081.1 1179.2,1080.5 1182.2,1079.9 1185.2,1079.4 1188.2,1079 1191.2,1078.6 1194.2,1078.2 1197.3,1077.9 1200.3,1077.6 1203.3,1077.3 1206.3,1077.1 1209.3,1076.9 1212.3,1076.8 1215.3,1076.7 1218.3,1076.6 1221.4,1076.6 1224.4,1076.6 1227.4,1076.6 1230.4,1076.7 1233.4,1076.8 1236.4,1076.9 1239.4,1077 1242.4,1077.2 1245.5,1077.3 1248.5,1077.5 1251.5,1077.8 1254.5,1078 1257.5,1078.3 1260.5,1078.5 1263.5,1078.9 1266.5,1079.2 1269.5,1079.5 1272.6,1079.9 1275.6,1080.3 1278.6,1080.7 1281.6,1081.1 1284.6,1081.6 1287.6,1082 1290.6,1082.5 1293.6,1083 1296.7,1083.5 1299.7,1084 1302.7,1084.6 1305.7,1085.1 1308.7,1085.7 1311.7,1086.3 1314.7,1086.9 1317.7,1087.6 1320.8,1088.2 1323.8,1088.9 1326.8,1089.5 1329.8,1090.2 1332.8,1090.9 1335.8,1091.6 1338.8,1092.3 1341.8,1093.1 1344.9,1093.8 1347.9,1094.6 1350.9,1095.3 1353.9,1096.1 1356.9,1096.9 1359.9,1097.7 1362.9,1098.5 1365.9,1099.3 1369,1100.1 1372,1101 1375,1101.8 1378,1102.7 1381,1103.5 1384,1104.4 1387,1105.3 1390,1106.2 1393.1,1107.1 1396.1,1108 1399.1,1108.9 1402.1,1109.8 1405.1,1110.7 1408.1,1111.6 1411.1,1112.5 1414.1,1113.4 1417.2,1114.4 1420.2,1115.3 1423.2,1116.3 1426.2,1117.2 1429.2,1118.1 1432.2,1119.1 1435.2,1120 1438.2,1121 1441.2,1122 1444.3,1122.9 1447.3,1123.9 1450.3,1124.9 1453.3,1125.8 1456.3,1126.8 1459.3,1127.8 1462.3,1128.8 1465.3,1129.8 1468.4,1130.7 1471.4,1131.7 1474.4,1132.7 1477.4,1133.7 1480.4,1134.7 1483.4,1135.7 1486.4,1136.8 1489.4,1137.8 1492.5,1138.8 1495.5,1139.8 1498.5,1140.8 1501.5,1141.9 1504.5,1142.9 1507.5,1143.9 1510.5,1144.9 1513.5,1146 1516.6,1147 1519.6,1148.1 1522.6,1149.1 1525.6,1150.2 1528.6,1151.2 1531.6,1152.3 1534.6,1153.3 1537.6,1154.4 1540.7,1155.5 1543.7,1156.5 1546.7,1157.6 1549.7,1158.7 1552.7,1159.8 1555.7,1160.8 1558.7,1161.9 1561.7,1163 1564.8,1164.1 1567.8,1165.2 1570.8,1166.3 1573.8,1167.4 1576.8,1168.5 1579.8,1169.6 1582.8,1170.7 1585.8,1171.8 1588.9,1172.9 1591.9,1174 1594.9,1175.1 1597.9,1176.2 1600.9,1177.4 1603.9,1178.5 1606.9,1179.6 1609.9,1180.7 1612.9,1181.9 1616,1183 1619,1184.1 1622,1185.3 1625,1186.4 1628,1187.6 1631,1188.7 1634,1189.9 1637,1191 1640.1,1192.2 1643.1,1193.3 1646.1,1194.5 1649.1,1195.6" fill="none" stroke="#000" stroke-width="3" stroke-linejoin="round" stroke-linecap="butt" clip-path="url(#cC)"/>
<polygon points="983.6,1175.8 986.6,1174.7 989.6,1173.7 992.6,1172.6 995.7,1171.4 998.7,1170.2 1001.7,1169 1004.7,1167.6 1007.8,1166.2 1010.8,1164.7 1013.8,1163.2 1016.8,1161.6 1019.9,1159.9 1022.9,1158.1 1025.9,1156.2 1028.9,1154.2 1032,1152.2 1035,1150 1038,1147.7 1041,1145.2 1044.1,1142.1 1047.1,1139 1050.1,1135.7 1053.1,1132.3 1056.2,1128.9 1059.2,1125.2 1062.2,1121.5 1065.2,1117.6 1068.3,1113.6 1071.3,1109.5 1074.3,1105.2 1077.3,1100.8 1080.4,1096.3 1083.4,1091.6 1086.4,1086.8 1089.4,1081.9 1092.5,1076.9 1095.5,1071.8 1098.5,1066.6 1101.5,1061.3 1104.6,1056 1107.6,1050.7 1110.6,1045.3 1113.6,1039.8 1116.7,1034.4 1119.7,1029 1122.7,1023.5 1125.7,1018.1 1128.8,1012.8 1131.8,1007.4 1134.8,1002.1 1137.8,996.9 1140.9,991.7 1143.9,986.7 1146.9,981.7 1150,976.8 1153,972 1156,967.4 1159,962.8 1162.1,958.4 1165.1,954.1 1168.1,950 1171.1,946 1174.2,942.1 1177.2,938.4 1180.2,934.9 1183.2,931.5 1186.3,928.3 1189.3,925.2 1192.3,922.4 1195.3,919.7 1198.4,917.2 1201.4,914.9 1204.4,912.8 1207.4,911 1210.5,909.3 1213.5,907.9 1216.5,906.6 1219.5,905.6 1222.6,904.9 1225.6,904.3 1228.6,903.9 1231.6,903.7 1234.7,903.7 1237.7,903.9 1240.7,904.3 1243.7,904.9 1246.8,905.6 1249.8,906.5 1252.8,907.4 1255.8,908.6 1258.9,909.8 1261.9,911.2 1264.9,912.6 1267.9,914.2 1271,915.8 1274,917.5 1277,919.3 1280,921.2 1283.1,923.1 1286.1,925.1 1289.1,927.1 1292.1,929.2 1295.2,931.3 1298.2,933.4 1301.2,935.6 1304.2,937.8 1307.3,940.1 1310.3,942.4 1313.3,944.7 1316.3,947.1 1319.4,949.5 1322.4,951.9 1325.4,954.3 1328.4,956.8 1331.5,959.3 1334.5,961.9 1337.5,964.4 1340.5,967 1343.6,969.6 1346.6,972.2 1349.6,974.8 1352.6,977.4 1355.7,980.1 1358.7,982.8 1361.7,985.4 1364.7,988.1 1367.8,990.8 1370.8,993.5 1373.8,996.2 1376.8,998.9 1379.9,1001.6 1382.9,1004.3 1385.9,1007 1388.9,1009.7 1392,1012.4 1395,1015.1 1398,1017.7 1401,1020.4 1404.1,1023.1 1407.1,1025.9 1410.1,1028.6 1413.1,1031.3 1416.2,1034 1419.2,1036.7 1422.2,1039.3 1425.2,1042 1428.3,1044.7 1431.3,1047.4 1434.3,1050 1437.3,1052.7 1440.4,1055.3 1443.4,1058 1446.4,1060.6 1449.4,1063.3 1452.5,1065.9 1455.5,1068.6 1458.5,1071.2 1461.5,1073.8 1464.6,1076.5 1467.6,1079.1 1470.6,1081.7 1473.6,1084.3 1476.7,1086.9 1479.7,1089.6 1482.7,1092.2 1485.7,1094.8 1488.8,1097.4 1491.8,1100 1494.8,1102.7 1497.8,1105.3 1500.9,1107.9 1503.9,1110.5 1506.9,1113.1 1509.9,1115.7 1513,1118.3 1516,1120.8 1519,1123.3 1522,1125.8 1525.1,1128.3 1528.1,1130.7 1531.1,1133.1 1534.1,1135.4 1537.2,1137.7 1540.2,1139.9 1543.2,1142 1546.2,1144.1 1549.3,1146.1 1552.3,1148 1555.3,1149.9 1558.3,1151.7 1561.4,1153.4 1564.4,1154.9 1567.4,1156.4 1570.4,1157.8 1573.5,1159.1 1576.5,1160.3 1579.5,1161.5 1582.5,1162.6 1585.6,1163.6 1588.6,1164.5 1591.6,1165.4 1594.6,1166.3 1597.7,1167.2 1600.7,1168 1603.7,1168.8 1606.7,1169.7 1609.8,1170.5 1612.8,1171.3 1615.8,1172.2 1618.8,1173.1 1621.9,1174 1624.9,1175 1627.9,1176 1630.9,1177.1 1634,1178.2 1637,1179.4 1640,1180.8 1643,1182.2 1646.1,1183.7 1649.1,1185.3 1649.1,1205.3 1646.1,1203.8 1643,1202.5 1640,1201.3 1637,1200.2 1634,1199.1 1630.9,1198.2 1627.9,1197.3 1624.9,1196.4 1621.9,1195.6 1618.8,1194.9 1615.8,1194.2 1612.8,1193.5 1609.8,1192.9 1606.7,1192.2 1603.7,1191.6 1600.7,1190.9 1597.7,1190.3 1594.6,1189.6 1591.6,1188.9 1588.6,1188.2 1585.6,1187.4 1582.5,1186.6 1579.5,1185.7 1576.5,1184.7 1573.5,1183.7 1570.4,1182.6 1567.4,1181.4 1564.4,1180.1 1561.4,1178.7 1558.3,1177.2 1555.3,1175.6 1552.3,1173.9 1549.3,1172.1 1546.2,1170.3 1543.2,1168.4 1540.2,1166.4 1537.2,1164.3 1534.1,1162.2 1531.1,1160.1 1528.1,1157.9 1525.1,1155.6 1522,1153.3 1519,1151 1516,1148.6 1513,1146.2 1509.9,1143.8 1506.9,1141.4 1503.9,1139 1500.9,1136.5 1497.8,1134.1 1494.8,1131.6 1491.8,1129.1 1488.8,1126.7 1485.7,1124.2 1482.7,1121.8 1479.7,1119.3 1476.7,1116.9 1473.6,1114.4 1470.6,1111.9 1467.6,1109.5 1464.6,1107 1461.5,1104.5 1458.5,1102.1 1455.5,1099.6 1452.5,1097.1 1449.4,1094.7 1446.4,1092.2 1443.4,1089.7 1440.4,1087.2 1437.3,1084.7 1434.3,1082.2 1431.3,1079.7 1428.3,1077.2 1425.2,1074.7 1422.2,1072.2 1419.2,1069.6 1416.2,1067.1 1413.1,1064.6 1410.1,1062 1407.1,1059.5 1404.1,1056.9 1401,1054.4 1398,1051.8 1395,1049.1 1392,1046.5 1388.9,1043.8 1385.9,1041.2 1382.9,1038.5 1379.9,1035.8 1376.8,1033.2 1373.8,1030.5 1370.8,1027.8 1367.8,1025.2 1364.7,1022.5 1361.7,1019.9 1358.7,1017.3 1355.7,1014.6 1352.6,1012 1349.6,1009.4 1346.6,1006.8 1343.6,1004.3 1340.5,1001.7 1337.5,999.2 1334.5,996.7 1331.5,994.2 1328.4,991.7 1325.4,989.3 1322.4,986.8 1319.4,984.5 1316.3,982.1 1313.3,979.8 1310.3,977.5 1307.3,975.2 1304.2,973 1301.2,970.8 1298.2,968.7 1295.2,966.5 1292.1,964.5 1289.1,962.5 1286.1,960.5 1283.1,958.5 1280,956.7 1277,954.8 1274,953.1 1271,951.4 1267.9,949.8 1264.9,948.3 1261.9,946.8 1258.9,945.5 1255.8,944.3 1252.8,943.2 1249.8,942.3 1246.8,941.5 1243.7,940.8 1240.7,940.3 1237.7,939.9 1234.7,939.7 1231.6,939.6 1228.6,939.8 1225.6,940.1 1222.6,940.6 1219.5,941.3 1216.5,942.2 1213.5,943.4 1210.5,944.8 1207.4,946.4 1204.4,948.2 1201.4,950.2 1198.4,952.4 1195.3,954.9 1192.3,957.5 1189.3,960.3 1186.3,963.3 1183.2,966.4 1180.2,969.7 1177.2,973.2 1174.2,976.9 1171.1,980.6 1168.1,984.6 1165.1,988.7 1162.1,992.9 1159,997.2 1156,1001.7 1153,1006.3 1150,1011 1146.9,1015.8 1143.9,1020.8 1140.9,1025.8 1137.8,1030.9 1134.8,1036.1 1131.8,1041.3 1128.8,1046.6 1125.7,1051.9 1122.7,1057.2 1119.7,1062.6 1116.7,1068 1113.6,1073.3 1110.6,1078.7 1107.6,1084 1104.6,1089.3 1101.5,1094.6 1098.5,1099.8 1095.5,1104.9 1092.5,1109.9 1089.4,1114.9 1086.4,1119.7 1083.4,1124.5 1080.4,1129.1 1077.3,1133.6 1074.3,1137.9 1071.3,1142.1 1068.3,1146.2 1065.2,1150.1 1062.2,1154 1059.2,1157.6 1056.2,1161.2 1053.1,1164.6 1050.1,1167.9 1047.1,1171.1 1044.1,1174.2 1041,1177.2 1038,1180 1035,1182.7 1032,1185.3 1028.9,1187.8 1025.9,1190.2 1022.9,1192.5 1019.9,1194.7 1016.8,1196.9 1013.8,1198.9 1010.8,1200.9 1007.8,1202.8 1004.7,1204.7 1001.7,1206.4 998.7,1208.1 995.7,1209.8 992.6,1211.3 989.6,1212.9 986.6,1214.3 983.6,1215.8" fill="#0571B0" fill-opacity="0.5" clip-path="url(#cC)"/>
<g fill="#0571B0"><polygon points="984,1177.9 973.8,1195.7 994.3,1195.7"/><polygon points="1014.5,1184.7 1004.3,1202.5 1024.8,1202.5"/><polygon points="1014.5,1192.8 1004.3,1210.6 1024.8,1210.6"/><polygon points="1033.6,1114.8 1023.3,1132.6 1043.8,1132.6"/><polygon points="1083.3,1070.1 1073.1,1087.9 1093.6,1087.9"/><polygon points="1083.3,1094.2 1073.1,1112 1093.6,1112"/><polygon points="1083.3,1137.7 1073.1,1155.5 1093.6,1155.5"/><polygon points="1183.5,935.9 1173.3,953.7 1193.8,953.7"/><polygon points="1376.3,985.2 1366,1003 1386.5,1003"/><polygon points="1376.3,996.7 1366,1014.5 1386.5,1014.5"/><polygon points="1376.3,1011.6 1366,1029.4 1386.5,1029.4"/><polygon points="1376.3,1032.2 1366,1050 1386.5,1050"/><polygon points="1469.1,1060.9 1458.9,1078.7 1479.4,1078.7"/><polygon points="1469.1,1071.2 1458.9,1089 1479.4,1089"/><polygon points="1469.1,1080.4 1458.9,1098.2 1479.4,1098.2"/><polygon points="1469.1,1093 1458.9,1110.8 1479.4,1110.8"/><polygon points="1550.5,1146.8 1540.3,1164.6 1560.8,1164.6"/><polygon points="1550.5,1151.4 1540.3,1169.2 1560.8,1169.2"/><polygon points="1619.3,1151.4 1609,1169.2 1629.5,1169.2"/><polygon points="1619.3,1165.2 1609,1183 1629.5,1183"/><polygon points="1619.3,1183.5 1609,1201.3 1629.5,1201.3"/><polygon points="1619.3,1188.1 1609,1205.9 1629.5,1205.9"/></g>
<polyline points="983.6,1201.8 986.6,1200.2 989.6,1198.7 992.6,1197 995.7,1195.3 998.7,1193.6 1001.7,1191.8 1004.7,1189.9 1007.8,1188 1010.8,1186 1013.8,1183.9 1016.8,1181.7 1019.9,1179.5 1022.9,1177.1 1025.9,1174.7 1028.9,1172.2 1032,1169.6 1035,1166.9 1038,1164.1 1041,1161.2 1044.1,1158.2 1047.1,1155.1 1050.1,1151.8 1053.1,1148.5 1056.2,1145 1059.2,1141.4 1062.2,1137.7 1065.2,1133.9 1068.3,1129.9 1071.3,1125.8 1074.3,1121.6 1077.3,1117.2 1080.4,1112.7 1083.4,1108 1086.4,1103.3 1089.4,1098.4 1092.5,1093.4 1095.5,1088.3 1098.5,1083.2 1101.5,1078 1104.6,1072.7 1107.6,1067.3 1110.6,1062 1113.6,1056.6 1116.7,1051.2 1119.7,1045.8 1122.7,1040.4 1125.7,1035 1128.8,1029.7 1131.8,1024.3 1134.8,1019.1 1137.8,1013.9 1140.9,1008.8 1143.9,1003.7 1146.9,998.8 1150,993.9 1153,989.2 1156,984.5 1159,980 1162.1,975.7 1165.1,971.4 1168.1,967.3 1171.1,963.3 1174.2,959.5 1177.2,955.8 1180.2,952.3 1183.2,948.9 1186.3,945.8 1189.3,942.8 1192.3,939.9 1195.3,937.3 1198.4,934.8 1201.4,932.6 1204.4,930.5 1207.4,928.7 1210.5,927 1213.5,925.6 1216.5,924.4 1219.5,923.5 1222.6,922.7 1225.6,922.2 1228.6,921.8 1231.6,921.7 1234.7,921.7 1237.7,921.9 1240.7,922.3 1243.7,922.8 1246.8,923.5 1249.8,924.4 1252.8,925.3 1255.8,926.4 1258.9,927.7 1261.9,929 1264.9,930.4 1267.9,932 1271,933.6 1274,935.3 1277,937.1 1280,938.9 1283.1,940.8 1286.1,942.8 1289.1,944.8 1292.1,946.8 1295.2,948.9 1298.2,951 1301.2,953.2 1304.2,955.4 1307.3,957.6 1310.3,959.9 1313.3,962.2 1316.3,964.6 1319.4,967 1322.4,969.4 1325.4,971.8 1328.4,974.3 1331.5,976.7 1334.5,979.3 1337.5,981.8 1340.5,984.3 1343.6,986.9 1346.6,989.5 1349.6,992.1 1352.6,994.7 1355.7,997.4 1358.7,1000 1361.7,1002.7 1364.7,1005.3 1367.8,1008 1370.8,1010.7 1373.8,1013.3 1376.8,1016 1379.9,1018.7 1382.9,1021.4 1385.9,1024.1 1388.9,1026.7 1392,1029.4 1395,1032.1 1398,1034.7 1401,1037.4 1404.1,1040 1407.1,1042.7 1410.1,1045.3 1413.1,1047.9 1416.2,1050.5 1419.2,1053.2 1422.2,1055.8 1425.2,1058.4 1428.3,1060.9 1431.3,1063.5 1434.3,1066.1 1437.3,1068.7 1440.4,1071.3 1443.4,1073.8 1446.4,1076.4 1449.4,1079 1452.5,1081.5 1455.5,1084.1 1458.5,1086.6 1461.5,1089.2 1464.6,1091.7 1467.6,1094.3 1470.6,1096.8 1473.6,1099.4 1476.7,1101.9 1479.7,1104.4 1482.7,1107 1485.7,1109.5 1488.8,1112.1 1491.8,1114.6 1494.8,1117.1 1497.8,1119.7 1500.9,1122.2 1503.9,1124.7 1506.9,1127.3 1509.9,1129.8 1513,1132.3 1516,1134.7 1519,1137.2 1522,1139.6 1525.1,1142 1528.1,1144.3 1531.1,1146.6 1534.1,1148.8 1537.2,1151 1540.2,1153.1 1543.2,1155.2 1546.2,1157.2 1549.3,1159.1 1552.3,1161 1555.3,1162.7 1558.3,1164.4 1561.4,1166 1564.4,1167.5 1567.4,1168.9 1570.4,1170.2 1573.5,1171.4 1576.5,1172.5 1579.5,1173.6 1582.5,1174.6 1585.6,1175.5 1588.6,1176.4 1591.6,1177.2 1594.6,1178 1597.7,1178.7 1600.7,1179.5 1603.7,1180.2 1606.7,1180.9 1609.8,1181.7 1612.8,1182.4 1615.8,1183.2 1618.8,1184 1621.9,1184.8 1624.9,1185.7 1627.9,1186.6 1630.9,1187.6 1634,1188.7 1637,1189.8 1640,1191 1643,1192.3 1646.1,1193.8 1649.1,1195.3" fill="none" stroke="#000" stroke-width="3" stroke-linejoin="round" stroke-linecap="butt" clip-path="url(#cC)"/>
<line x1="106.6" y1="1246.2" x2="106.6" y2="1575.75" stroke="#000" stroke-width="2.9"/>
<line x1="105.14999999999999" y1="1574.3" x2="1651.5" y2="1574.3" stroke="#000" stroke-width="2.9"/>
<line x1="106.6" y1="1561.9" x2="115.2" y2="1561.9" stroke="#000" stroke-width="2.6"/>
<text x="94.6" y="1573.9" font-size="33" font-weight="normal" text-anchor="end" fill="#000">0</text>
<line x1="106.6" y1="1509.2" x2="115.2" y2="1509.2" stroke="#000" stroke-width="2.6"/>
<text x="94.6" y="1521.2" font-size="33" font-weight="normal" text-anchor="end" fill="#000">20</text>
<line x1="106.6" y1="1456.5" x2="115.2" y2="1456.5" stroke="#000" stroke-width="2.6"/>
<text x="94.6" y="1468.5" font-size="33" font-weight="normal" text-anchor="end" fill="#000">40</text>
<line x1="106.6" y1="1403.7" x2="115.2" y2="1403.7" stroke="#000" stroke-width="2.6"/>
<text x="94.6" y="1415.7" font-size="33" font-weight="normal" text-anchor="end" fill="#000">60</text>
<line x1="106.6" y1="1351" x2="115.2" y2="1351" stroke="#000" stroke-width="2.6"/>
<text x="94.6" y="1363" font-size="33" font-weight="normal" text-anchor="end" fill="#000">80</text>
<line x1="106.6" y1="1298.3" x2="115.2" y2="1298.3" stroke="#000" stroke-width="2.6"/>
<text x="94.6" y="1310.3" font-size="33" font-weight="normal" text-anchor="end" fill="#000">100</text>
<line x1="231.1" y1="1574.3" x2="231.1" y2="1566.5" stroke="#000" stroke-width="2.8" stroke-linecap="round"/>
<line x1="424" y1="1574.3" x2="424" y2="1566.5" stroke="#000" stroke-width="2.8" stroke-linecap="round"/>
<line x1="610.7" y1="1574.3" x2="610.7" y2="1566.5" stroke="#000" stroke-width="2.8" stroke-linecap="round"/>
<line x1="803.6" y1="1574.3" x2="803.6" y2="1566.5" stroke="#000" stroke-width="2.8" stroke-linecap="round"/>
<line x1="990.3" y1="1574.3" x2="990.3" y2="1566.5" stroke="#000" stroke-width="2.8" stroke-linecap="round"/>
<line x1="1183.2" y1="1574.3" x2="1183.2" y2="1566.5" stroke="#000" stroke-width="2.8" stroke-linecap="round"/>
<line x1="1376.1" y1="1574.3" x2="1376.1" y2="1566.5" stroke="#000" stroke-width="2.8" stroke-linecap="round"/>
<line x1="1562.8" y1="1574.3" x2="1562.8" y2="1566.5" stroke="#000" stroke-width="2.8" stroke-linecap="round"/>
<text x="231.1" y="1606" font-size="32.4" font-weight="normal" text-anchor="middle" fill="#000">Mar</text>
<text x="424" y="1606" font-size="32.4" font-weight="normal" text-anchor="middle" fill="#000">Apr</text>
<text x="610.7" y="1606" font-size="32.4" font-weight="normal" text-anchor="middle" fill="#000">May</text>
<text x="803.6" y="1606" font-size="32.4" font-weight="normal" text-anchor="middle" fill="#000">Jun</text>
<text x="990.3" y="1606" font-size="32.4" font-weight="normal" text-anchor="middle" fill="#000">Jul</text>
<text x="1183.2" y="1606" font-size="32.4" font-weight="normal" text-anchor="middle" fill="#000">Aug</text>
<text x="1376.1" y="1606" font-size="32.4" font-weight="normal" text-anchor="middle" fill="#000">Sep</text>
<text x="1562.8" y="1606" font-size="32.4" font-weight="normal" text-anchor="middle" fill="#000">Oct</text>
<text x="126.5" y="1271.6" font-size="39" font-weight="bold" text-anchor="start" fill="#000">D</text>
<text x="127" y="1319.2" font-size="32.4" font-weight="normal" text-anchor="start" fill="#000">All plants</text>
<text x="0" y="0" font-size="33" text-anchor="middle" transform="translate(26,1411) rotate(-90)">Root area (%)</text>
<line x1="106.4" y1="1430.1" x2="1650" y2="1430.1" stroke="#555" stroke-width="3" stroke-dasharray="12.1 12.5" stroke-linecap="round"/>
<polygon points="162.3,1561 165.3,1560.4 168.3,1559.8 171.3,1559.1 174.3,1558.4 177.3,1557.6 180.3,1556.8 183.3,1556 186.3,1555.2 189.4,1554.3 192.4,1553.4 195.4,1552.5 198.4,1551.5 201.4,1550.5 204.4,1549.5 207.4,1548.5 210.4,1547.4 213.4,1546.3 216.5,1545.2 219.5,1544 222.5,1542.8 225.5,1541.6 228.5,1540.3 231.5,1539.1 234.5,1537.7 237.5,1536.4 240.5,1535.1 243.6,1533.7 246.6,1532.3 249.6,1530.8 252.6,1529.4 255.6,1527.9 258.6,1526.4 261.6,1524.8 264.6,1523.3 267.6,1521.7 270.7,1520 273.7,1518.4 276.7,1516.7 279.7,1515 282.7,1513.3 285.7,1511.6 288.7,1509.8 291.7,1508 294.7,1506.2 297.8,1504.4 300.8,1502.5 303.8,1500.7 306.8,1498.8 309.8,1496.8 312.8,1494.9 315.8,1492.9 318.8,1490.9 321.8,1488.9 324.8,1486.9 327.9,1484.9 330.9,1482.8 333.9,1480.7 336.9,1478.6 339.9,1476.5 342.9,1474.4 345.9,1472.3 348.9,1470.2 351.9,1468 355,1465.8 358,1463.7 361,1461.5 364,1459.3 367,1457.1 370,1454.9 373,1452.7 376,1450.4 379,1448.2 382.1,1446 385.1,1443.7 388.1,1441.5 391.1,1439.3 394.1,1437 397.1,1434.8 400.1,1432.5 403.1,1430.2 406.1,1427.9 409.2,1425.6 412.2,1423.3 415.2,1421 418.2,1418.7 421.2,1416.4 424.2,1414.1 427.2,1411.8 430.2,1409.5 433.2,1407.3 436.3,1405 439.3,1402.7 442.3,1400.5 445.3,1398.2 448.3,1396 451.3,1393.7 454.3,1391.5 457.3,1389.3 460.3,1387.1 463.3,1384.9 466.4,1382.7 469.4,1380.5 472.4,1378.4 475.4,1376.2 478.4,1374.1 481.4,1372 484.4,1369.9 487.4,1367.8 490.4,1365.7 493.5,1363.6 496.5,1361.6 499.5,1359.6 502.5,1357.6 505.5,1355.6 508.5,1353.6 511.5,1351.6 514.5,1349.7 517.5,1347.8 520.6,1345.9 523.6,1344 526.6,1342.2 529.6,1340.4 532.6,1338.6 535.6,1336.8 538.6,1335 541.6,1333.3 544.6,1331.6 547.7,1330 550.7,1328.3 553.7,1326.7 556.7,1325.1 559.7,1323.6 562.7,1322.1 565.7,1320.6 568.7,1319.1 571.7,1317.7 574.8,1316.3 577.8,1314.9 580.8,1313.5 583.8,1312.2 586.8,1311 589.8,1309.7 592.8,1308.5 595.8,1307.4 598.8,1306.2 601.8,1305.1 604.9,1304.1 607.9,1303 610.9,1302.1 613.9,1301.1 616.9,1300.2 619.9,1299.3 622.9,1298.5 625.9,1297.7 628.9,1297 632,1296.2 635,1295.5 638,1294.9 641,1294.3 644,1293.7 647,1293.1 650,1292.6 653,1292.1 656,1291.7 659.1,1291.2 662.1,1290.8 665.1,1290.5 668.1,1290.1 671.1,1289.8 674.1,1289.5 677.1,1289.2 680.1,1289 683.1,1288.7 686.2,1288.5 689.2,1288.3 692.2,1288.2 695.2,1288 698.2,1287.9 701.2,1287.8 704.2,1287.7 707.2,1287.6 710.2,1287.6 713.2,1287.5 716.3,1287.5 719.3,1287.5 722.3,1287.5 725.3,1287.5 728.3,1287.6 731.3,1287.6 734.3,1287.6 737.3,1287.7 740.3,1287.8 743.4,1287.8 746.4,1287.9 749.4,1288 752.4,1288.1 755.4,1288.2 758.4,1288.2 761.4,1288.3 764.4,1288.4 767.4,1288.5 770.5,1288.6 773.5,1288.7 776.5,1288.8 779.5,1288.9 782.5,1289 785.5,1289.1 788.5,1289.2 791.5,1289.3 794.5,1289.4 797.6,1289.5 800.6,1289.6 803.6,1289.7 806.6,1289.8 809.6,1289.9 812.6,1290 815.6,1290.1 818.6,1290.2 821.6,1290.3 824.7,1290.4 827.7,1290.5 830.7,1290.7 833.7,1290.8 836.7,1290.9 839.7,1291 842.7,1291.1 845.7,1291.2 848.7,1291.4 851.7,1291.5 854.8,1291.6 857.8,1291.7 860.8,1291.9 863.8,1292 866.8,1292.1 869.8,1292.3 872.8,1292.4 875.8,1292.6 878.8,1292.7 881.9,1292.8 884.9,1293 887.9,1293.1 890.9,1293.3 893.9,1293.5 896.9,1293.6 899.9,1293.8 902.9,1293.9 905.9,1294 909,1294.2 912,1294.3 915,1294.5 918,1294.6 921,1294.8 924,1294.9 927,1295.1 930,1295.2 933,1295.4 936.1,1295.5 939.1,1295.7 942.1,1295.9 945.1,1296.1 948.1,1296.2 951.1,1296.4 954.1,1296.6 957.1,1296.8 960.1,1297 963.2,1297.2 966.2,1297.4 969.2,1297.6 972.2,1297.8 975.2,1298 978.2,1298.2 981.2,1298.4 984.2,1298.6 987.2,1298.8 990.2,1299 993.3,1299.3 996.3,1299.5 999.3,1299.7 1002.3,1300 1005.3,1300.2 1008.3,1300.5 1011.3,1300.7 1014.3,1301 1017.3,1301.2 1020.4,1301.5 1023.4,1301.8 1026.4,1302 1029.4,1302.3 1032.4,1302.6 1035.4,1302.9 1038.4,1303.2 1041.4,1303.5 1044.4,1303.7 1047.5,1304.1 1050.5,1304.4 1053.5,1304.7 1056.5,1305 1059.5,1305.3 1062.5,1305.6 1065.5,1306 1068.5,1306.3 1071.5,1306.6 1074.6,1307 1077.6,1307.3 1080.6,1307.7 1083.6,1308 1086.6,1308.4 1089.6,1308.8 1092.6,1309.1 1095.6,1309.5 1098.6,1309.9 1101.7,1310.3 1104.7,1310.7 1107.7,1311.1 1110.7,1311.5 1113.7,1311.9 1116.7,1312.3 1119.7,1312.7 1122.7,1313.2 1125.7,1313.6 1128.7,1314.1 1131.8,1314.5 1134.8,1315 1137.8,1315.4 1140.8,1315.9 1143.8,1316.4 1146.8,1316.9 1149.8,1317.4 1152.8,1317.8 1155.8,1318.3 1158.9,1318.9 1161.9,1319.4 1164.9,1319.9 1167.9,1320.4 1170.9,1320.9 1173.9,1321.5 1176.9,1322 1179.9,1322.6 1182.9,1323.1 1186,1323.7 1189,1324.2 1192,1324.8 1195,1325.4 1198,1325.9 1201,1326.5 1204,1327.1 1207,1327.7 1210,1328.2 1213.1,1328.8 1216.1,1329.4 1219.1,1330 1222.1,1330.6 1225.1,1331.2 1228.1,1331.7 1231.1,1332.3 1234.1,1332.9 1237.1,1333.5 1240.1,1334 1243.2,1334.6 1246.2,1335.2 1249.2,1335.7 1252.2,1336.3 1255.2,1336.9 1258.2,1337.4 1261.2,1338 1264.2,1338.5 1267.2,1339 1270.3,1339.6 1273.3,1340.1 1276.3,1340.6 1279.3,1341.1 1282.3,1341.6 1285.3,1342.1 1288.3,1342.6 1291.3,1343.1 1294.3,1343.5 1297.4,1344 1300.4,1344.4 1303.4,1344.9 1306.4,1345.3 1309.4,1345.7 1312.4,1346.1 1315.4,1346.5 1318.4,1346.9 1321.4,1347.3 1324.5,1347.6 1327.5,1347.9 1330.5,1348.3 1333.5,1348.6 1336.5,1348.9 1339.5,1349.2 1342.5,1349.4 1345.5,1349.7 1348.5,1349.9 1351.6,1350.1 1354.6,1350.3 1357.6,1350.5 1360.6,1350.7 1363.6,1350.8 1366.6,1350.9 1369.6,1351.1 1372.6,1351.1 1375.6,1351.1 1378.6,1351.1 1381.7,1351 1384.7,1351 1387.7,1350.9 1390.7,1350.8 1393.7,1350.7 1396.7,1350.5 1399.7,1350.4 1402.7,1350.2 1405.7,1349.9 1408.8,1349.7 1411.8,1349.4 1414.8,1349.2 1417.8,1348.8 1420.8,1348.5 1423.8,1348.1 1426.8,1347.7 1429.8,1347.3 1432.8,1346.9 1435.9,1346.4 1438.9,1345.9 1441.9,1345.4 1444.9,1344.9 1447.9,1344.3 1450.9,1343.8 1453.9,1343.2 1456.9,1342.6 1459.9,1341.9 1463,1341.3 1466,1340.6 1469,1339.9 1472,1339.2 1475,1338.5 1478,1337.7 1481,1337 1484,1336.2 1487,1335.4 1490.1,1334.6 1493.1,1333.8 1496.1,1332.9 1499.1,1332.1 1502.1,1331.2 1505.1,1330.3 1508.1,1329.4 1511.1,1328.5 1514.1,1327.6 1517.1,1326.7 1520.2,1325.8 1523.2,1324.8 1526.2,1323.9 1529.2,1322.9 1532.2,1322 1535.2,1321 1538.2,1320 1541.2,1319 1544.2,1318.1 1544.2,1357.1 1541.2,1357.9 1538.2,1358.7 1535.2,1359.5 1532.2,1360.3 1529.2,1361.1 1526.2,1361.9 1523.2,1362.7 1520.2,1363.4 1517.1,1364.2 1514.1,1364.9 1511.1,1365.7 1508.1,1366.4 1505.1,1367.1 1502.1,1367.8 1499.1,1368.5 1496.1,1369.2 1493.1,1369.8 1490.1,1370.5 1487,1371.1 1484,1371.7 1481,1372.3 1478,1372.9 1475,1373.5 1472,1374.1 1469,1374.6 1466,1375.1 1463,1375.6 1459.9,1376.1 1456.9,1376.6 1453.9,1377 1450.9,1377.4 1447.9,1377.8 1444.9,1378.2 1441.9,1378.6 1438.9,1378.9 1435.9,1379.2 1432.8,1379.5 1429.8,1379.8 1426.8,1380 1423.8,1380.2 1420.8,1380.4 1417.8,1380.6 1414.8,1380.7 1411.8,1380.8 1408.8,1380.9 1405.7,1381 1402.7,1381 1399.7,1381.1 1396.7,1381.1 1393.7,1381 1390.7,1381 1387.7,1380.9 1384.7,1380.8 1381.7,1380.7 1378.6,1380.6 1375.6,1380.4 1372.6,1380.2 1369.6,1380.1 1366.6,1379.9 1363.6,1379.7 1360.6,1379.6 1357.6,1379.4 1354.6,1379.1 1351.6,1378.9 1348.5,1378.7 1345.5,1378.4 1342.5,1378.1 1339.5,1377.8 1336.5,1377.5 1333.5,1377.1 1330.5,1376.8 1327.5,1376.4 1324.5,1376.1 1321.4,1375.7 1318.4,1375.3 1315.4,1374.9 1312.4,1374.4 1309.4,1374 1306.4,1373.5 1303.4,1373.1 1300.4,1372.6 1297.4,1372.1 1294.3,1371.6 1291.3,1371.1 1288.3,1370.6 1285.3,1370.1 1282.3,1369.6 1279.3,1369 1276.3,1368.5 1273.3,1367.9 1270.3,1367.4 1267.2,1366.8 1264.2,1366.2 1261.2,1365.7 1258.2,1365.1 1255.2,1364.5 1252.2,1363.9 1249.2,1363.3 1246.2,1362.7 1243.2,1362.1 1240.1,1361.5 1237.1,1360.9 1234.1,1360.3 1231.1,1359.6 1228.1,1359 1225.1,1358.4 1222.1,1357.8 1219.1,1357.2 1216.1,1356.6 1213.1,1355.9 1210,1355.3 1207,1354.7 1204,1354.1 1201,1353.5 1198,1352.9 1195,1352.3 1192,1351.7 1189,1351.1 1186,1350.5 1182.9,1349.9 1179.9,1349.3 1176.9,1348.7 1173.9,1348.1 1170.9,1347.5 1167.9,1347 1164.9,1346.4 1161.9,1345.9 1158.9,1345.3 1155.8,1344.8 1152.8,1344.2 1149.8,1343.7 1146.8,1343.2 1143.8,1342.7 1140.8,1342.2 1137.8,1341.7 1134.8,1341.1 1131.8,1340.7 1128.7,1340.2 1125.7,1339.7 1122.7,1339.2 1119.7,1338.7 1116.7,1338.3 1113.7,1337.8 1110.7,1337.3 1107.7,1336.9 1104.7,1336.4 1101.7,1336 1098.6,1335.5 1095.6,1335.1 1092.6,1334.6 1089.6,1334.2 1086.6,1333.8 1083.6,1333.4 1080.6,1333 1077.6,1332.5 1074.6,1332.1 1071.5,1331.7 1068.5,1331.4 1065.5,1331 1062.5,1330.6 1059.5,1330.2 1056.5,1329.8 1053.5,1329.5 1050.5,1329.1 1047.5,1328.7 1044.4,1328.4 1041.4,1328 1038.4,1327.7 1035.4,1327.3 1032.4,1327 1029.4,1326.7 1026.4,1326.3 1023.4,1326 1020.4,1325.7 1017.3,1325.4 1014.3,1325.1 1011.3,1324.7 1008.3,1324.4 1005.3,1324.1 1002.3,1323.8 999.3,1323.5 996.3,1323.3 993.3,1323 990.2,1322.7 987.2,1322.4 984.2,1322.1 981.2,1321.9 978.2,1321.6 975.2,1321.3 972.2,1321.1 969.2,1320.8 966.2,1320.6 963.2,1320.3 960.1,1320.1 957.1,1319.8 954.1,1319.6 951.1,1319.3 948.1,1319.1 945.1,1318.9 942.1,1318.7 939.1,1318.4 936.1,1318.2 933,1318 930,1317.8 927,1317.6 924,1317.3 921,1317.1 918,1316.9 915,1316.7 912,1316.5 909,1316.3 905.9,1316.1 902.9,1316 899.9,1315.8 896.9,1315.6 893.9,1315.5 890.9,1315.3 887.9,1315.1 884.9,1315 881.9,1314.8 878.8,1314.7 875.8,1314.6 872.8,1314.4 869.8,1314.3 866.8,1314.1 863.8,1314 860.8,1313.9 857.8,1313.7 854.8,1313.6 851.7,1313.5 848.7,1313.4 845.7,1313.2 842.7,1313.1 839.7,1313 836.7,1312.9 833.7,1312.8 830.7,1312.7 827.7,1312.5 824.7,1312.4 821.6,1312.3 818.6,1312.2 815.6,1312.1 812.6,1312 809.6,1311.9 806.6,1311.8 803.6,1311.7 800.6,1311.6 797.6,1311.5 794.5,1311.4 791.5,1311.3 788.5,1311.2 785.5,1311.1 782.5,1311 779.5,1310.9 776.5,1310.8 773.5,1310.7 770.5,1310.6 767.4,1310.5 764.4,1310.4 761.4,1310.3 758.4,1310.2 755.4,1310.2 752.4,1310.1 749.4,1310 746.4,1309.9 743.4,1309.8 740.3,1309.8 737.3,1309.7 734.3,1309.6 731.3,1309.6 728.3,1309.6 725.3,1309.5 722.3,1309.5 719.3,1309.5 716.3,1309.5 713.2,1309.5 710.2,1309.6 707.2,1309.6 704.2,1309.6 701.2,1309.7 698.2,1309.8 695.2,1309.9 692.2,1310 689.2,1310.1 686.2,1310.3 683.1,1310.4 680.1,1310.6 677.1,1310.8 674.1,1311.1 671.1,1311.3 668.1,1311.6 665.1,1311.9 662.1,1312.3 659.1,1312.6 656,1313 653,1313.5 650,1313.9 647,1314.4 644,1314.9 641,1315.5 638,1316 635,1316.7 632,1317.3 628.9,1318 625.9,1318.7 622.9,1319.5 619.9,1320.3 616.9,1321.1 613.9,1322 610.9,1322.9 607.9,1323.8 604.9,1324.8 601.8,1325.9 598.8,1326.9 595.8,1328 592.8,1329.1 589.8,1330.3 586.8,1331.5 583.8,1332.8 580.8,1334 577.8,1335.3 574.8,1336.7 571.7,1338 568.7,1339.4 565.7,1340.9 562.7,1342.3 559.7,1343.8 556.7,1345.3 553.7,1346.9 550.7,1348.4 547.7,1350 544.6,1351.7 541.6,1353.3 538.6,1355 535.6,1356.7 532.6,1358.4 529.6,1360.1 526.6,1361.9 523.6,1363.7 520.6,1365.5 517.5,1367.3 514.5,1369.2 511.5,1371 508.5,1372.9 505.5,1374.8 502.5,1376.7 499.5,1378.7 496.5,1380.7 493.5,1382.6 490.4,1384.6 487.4,1386.6 484.4,1388.7 481.4,1390.7 478.4,1392.8 475.4,1394.8 472.4,1396.9 469.4,1399 466.4,1401.1 463.3,1403.3 460.3,1405.4 457.3,1407.5 454.3,1409.7 451.3,1411.8 448.3,1414 445.3,1416.2 442.3,1418.4 439.3,1420.6 436.3,1422.8 433.2,1425 430.2,1427.2 427.2,1429.4 424.2,1431.6 421.2,1433.9 418.2,1436.1 415.2,1438.3 412.2,1440.6 409.2,1442.8 406.1,1445 403.1,1447.3 400.1,1449.5 397.1,1451.8 394.1,1454.1 391.1,1456.3 388.1,1458.6 385.1,1460.9 382.1,1463.2 379,1465.4 376,1467.7 373,1469.9 370,1472.2 367,1474.4 364,1476.7 361,1478.9 358,1481.1 355,1483.3 351.9,1485.5 348.9,1487.7 345.9,1489.8 342.9,1492 339.9,1494.1 336.9,1496.3 333.9,1498.4 330.9,1500.5 327.9,1502.6 324.8,1504.6 321.8,1506.7 318.8,1508.7 315.8,1510.8 312.8,1512.7 309.8,1514.7 306.8,1516.7 303.8,1518.6 300.8,1520.5 297.8,1522.4 294.7,1524.3 291.7,1526.2 288.7,1528 285.7,1529.8 282.7,1531.6 279.7,1533.3 276.7,1535.1 273.7,1536.8 270.7,1538.5 267.6,1540.1 264.6,1541.8 261.6,1543.4 258.6,1545 255.6,1546.5 252.6,1548.1 249.6,1549.6 246.6,1551 243.6,1552.5 240.5,1553.9 237.5,1555.3 234.5,1556.7 231.5,1558 228.5,1559.4 225.5,1560.7 222.5,1561.9 219.5,1563.2 216.5,1564.4 213.4,1565.5 210.4,1566.7 207.4,1567.8 204.4,1568.9 201.4,1570 198.4,1571 195.4,1572 192.4,1573 189.4,1573.9 186.3,1574.8 183.3,1575.7 180.3,1576.6 177.3,1577.4 174.3,1578.2 171.3,1578.9 168.3,1579.7 165.3,1580.4 162.3,1581" fill="#CA0020" fill-opacity="0.5" clip-path="url(#cD)"/>
<g fill="none" stroke="#CA0020" stroke-width="3.2"><circle cx="162.3" cy="1544.9" r="6.7"/><circle cx="162.3" cy="1548.5" r="6.7"/><circle cx="162.3" cy="1552.2" r="6.7"/><circle cx="162.3" cy="1555.8" r="6.7"/><circle cx="162.3" cy="1559.4" r="6.7"/><circle cx="162.3" cy="1563" r="6.7"/><circle cx="187.7" cy="1549.7" r="6.7"/><circle cx="187.7" cy="1554.6" r="6.7"/><circle cx="187.7" cy="1559.4" r="6.7"/><circle cx="187.7" cy="1564.3" r="6.7"/><circle cx="224.7" cy="1546.1" r="6.7"/><circle cx="224.7" cy="1549.7" r="6.7"/><circle cx="224.7" cy="1554.6" r="6.7"/><circle cx="224.7" cy="1559.4" r="6.7"/><circle cx="224.7" cy="1563" r="6.7"/><circle cx="243.6" cy="1546.1" r="6.7"/><circle cx="243.6" cy="1550.9" r="6.7"/><circle cx="243.6" cy="1555.8" r="6.7"/><circle cx="243.6" cy="1559.4" r="6.7"/><circle cx="243.6" cy="1563" r="6.7"/><circle cx="268.3" cy="1518.3" r="6.7"/><circle cx="268.3" cy="1532.8" r="6.7"/><circle cx="268.3" cy="1538.9" r="6.7"/><circle cx="268.3" cy="1543.7" r="6.7"/><circle cx="268.3" cy="1548.5" r="6.7"/><circle cx="268.3" cy="1554.6" r="6.7"/><circle cx="268.3" cy="1560.6" r="6.7"/><circle cx="286.4" cy="1513.4" r="6.7"/><circle cx="286.4" cy="1519.5" r="6.7"/><circle cx="286.4" cy="1524.3" r="6.7"/><circle cx="286.4" cy="1530.4" r="6.7"/><circle cx="286.4" cy="1535.2" r="6.7"/><circle cx="318.1" cy="1459" r="6.7"/><circle cx="318.1" cy="1489.2" r="6.7"/><circle cx="318.1" cy="1492.9" r="6.7"/><circle cx="318.1" cy="1496.5" r="6.7"/><circle cx="318.1" cy="1505" r="6.7"/><circle cx="318.1" cy="1508.6" r="6.7"/><circle cx="318.1" cy="1512.2" r="6.7"/><circle cx="318.1" cy="1528" r="6.7"/><circle cx="336.7" cy="1409.4" r="6.7"/><circle cx="336.7" cy="1479.6" r="6.7"/><circle cx="336.7" cy="1483.2" r="6.7"/><circle cx="336.7" cy="1486.8" r="6.7"/><circle cx="336.7" cy="1491.7" r="6.7"/><circle cx="336.7" cy="1520.7" r="6.7"/><circle cx="336.7" cy="1528" r="6.7"/><circle cx="361.4" cy="1408.2" r="6.7"/><circle cx="361.4" cy="1459" r="6.7"/><circle cx="361.4" cy="1463.8" r="6.7"/><circle cx="361.4" cy="1468.7" r="6.7"/><circle cx="361.4" cy="1472.3" r="6.7"/><circle cx="361.4" cy="1508.6" r="6.7"/><circle cx="361.4" cy="1519.5" r="6.7"/><circle cx="361.4" cy="1524.3" r="6.7"/><circle cx="380.3" cy="1392.5" r="6.7"/><circle cx="380.3" cy="1437.2" r="6.7"/><circle cx="380.3" cy="1450.5" r="6.7"/><circle cx="380.3" cy="1454.2" r="6.7"/><circle cx="380.3" cy="1468.7" r="6.7"/><circle cx="380.3" cy="1473.5" r="6.7"/><circle cx="380.3" cy="1478.4" r="6.7"/><circle cx="380.3" cy="1486.8" r="6.7"/><circle cx="405" cy="1361" r="6.7"/><circle cx="405" cy="1397.3" r="6.7"/><circle cx="405" cy="1414.2" r="6.7"/><circle cx="405" cy="1431.2" r="6.7"/><circle cx="405" cy="1436" r="6.7"/><circle cx="405" cy="1440.8" r="6.7"/><circle cx="405" cy="1446.9" r="6.7"/><circle cx="405" cy="1459" r="6.7"/><circle cx="405" cy="1472.3" r="6.7"/><circle cx="448.5" cy="1339.2" r="6.7"/><circle cx="448.5" cy="1363.4" r="6.7"/><circle cx="448.5" cy="1386.4" r="6.7"/><circle cx="448.5" cy="1391.2" r="6.7"/><circle cx="448.5" cy="1394.9" r="6.7"/><circle cx="448.5" cy="1409.4" r="6.7"/><circle cx="448.5" cy="1414.2" r="6.7"/><circle cx="448.5" cy="1419.1" r="6.7"/><circle cx="448.5" cy="1423.9" r="6.7"/><circle cx="448.5" cy="1436" r="6.7"/><circle cx="492.1" cy="1317.4" r="6.7"/><circle cx="492.1" cy="1329.5" r="6.7"/><circle cx="492.1" cy="1371.9" r="6.7"/><circle cx="492.1" cy="1380.4" r="6.7"/><circle cx="492.1" cy="1386.4" r="6.7"/><circle cx="492.1" cy="1392.5" r="6.7"/><circle cx="492.1" cy="1397.3" r="6.7"/><circle cx="492.1" cy="1400.9" r="6.7"/><circle cx="492.1" cy="1425.1" r="6.7"/><circle cx="535.7" cy="1294.4" r="6.7"/><circle cx="535.7" cy="1296.9" r="6.7"/><circle cx="535.7" cy="1325.9" r="6.7"/><circle cx="535.7" cy="1341.6" r="6.7"/><circle cx="535.7" cy="1345.3" r="6.7"/><circle cx="535.7" cy="1374.3" r="6.7"/><circle cx="535.7" cy="1388.8" r="6.7"/><circle cx="535.7" cy="1407" r="6.7"/><circle cx="573.2" cy="1277.5" r="6.7"/><circle cx="573.2" cy="1286" r="6.7"/><circle cx="573.2" cy="1305.3" r="6.7"/><circle cx="573.2" cy="1317.4" r="6.7"/><circle cx="573.2" cy="1338" r="6.7"/><circle cx="573.2" cy="1369.5" r="6.7"/><circle cx="573.2" cy="1391.2" r="6.7"/><circle cx="622.8" cy="1270.2" r="6.7"/><circle cx="622.8" cy="1279.9" r="6.7"/><circle cx="622.8" cy="1322.3" r="6.7"/><circle cx="622.8" cy="1358.6" r="6.7"/><circle cx="622.8" cy="1374.3" r="6.7"/><circle cx="666.4" cy="1270.2" r="6.7"/><circle cx="666.4" cy="1275.1" r="6.7"/><circle cx="666.4" cy="1301.7" r="6.7"/><circle cx="666.4" cy="1347.7" r="6.7"/><circle cx="666.4" cy="1363.4" r="6.7"/><circle cx="710" cy="1279.9" r="6.7"/><circle cx="710" cy="1284.8" r="6.7"/><circle cx="710" cy="1290.8" r="6.7"/><circle cx="710" cy="1296.9" r="6.7"/><circle cx="710" cy="1301.7" r="6.7"/><circle cx="710" cy="1358.6" r="6.7"/><circle cx="710" cy="1362.2" r="6.7"/><circle cx="753.5" cy="1273.9" r="6.7"/><circle cx="753.5" cy="1281.1" r="6.7"/><circle cx="753.5" cy="1294.4" r="6.7"/><circle cx="753.5" cy="1300.5" r="6.7"/><circle cx="753.5" cy="1309" r="6.7"/><circle cx="753.5" cy="1324.7" r="6.7"/><circle cx="753.5" cy="1348.9" r="6.7"/><circle cx="797.1" cy="1270.2" r="6.7"/><circle cx="797.1" cy="1275.1" r="6.7"/><circle cx="797.1" cy="1287.2" r="6.7"/><circle cx="797.1" cy="1301.7" r="6.7"/><circle cx="797.1" cy="1309" r="6.7"/><circle cx="797.1" cy="1323.5" r="6.7"/><circle cx="797.1" cy="1338" r="6.7"/><circle cx="797.1" cy="1344.1" r="6.7"/><circle cx="840.6" cy="1270.2" r="6.7"/><circle cx="840.6" cy="1273.9" r="6.7"/><circle cx="840.6" cy="1290.8" r="6.7"/><circle cx="840.6" cy="1329.5" r="6.7"/><circle cx="840.6" cy="1338" r="6.7"/><circle cx="890.2" cy="1271.5" r="6.7"/><circle cx="890.2" cy="1278.7" r="6.7"/><circle cx="890.2" cy="1284.8" r="6.7"/><circle cx="890.2" cy="1292" r="6.7"/><circle cx="890.2" cy="1312.6" r="6.7"/><circle cx="890.2" cy="1363.4" r="6.7"/><circle cx="927.7" cy="1283.6" r="6.7"/><circle cx="927.7" cy="1295.7" r="6.7"/><circle cx="927.7" cy="1300.5" r="6.7"/><circle cx="927.7" cy="1305.3" r="6.7"/><circle cx="927.7" cy="1310.2" r="6.7"/><circle cx="927.7" cy="1363.4" r="6.7"/><circle cx="971.2" cy="1288.4" r="6.7"/><circle cx="971.2" cy="1294.4" r="6.7"/><circle cx="971.2" cy="1299.3" r="6.7"/><circle cx="971.2" cy="1315" r="6.7"/><circle cx="971.2" cy="1392.5" r="6.7"/><circle cx="1101.9" cy="1271.5" r="6.7"/><circle cx="1101.9" cy="1283.6" r="6.7"/><circle cx="1101.9" cy="1290.8" r="6.7"/><circle cx="1101.9" cy="1353.7" r="6.7"/><circle cx="1101.9" cy="1393.7" r="6.7"/><circle cx="1189" cy="1306.5" r="6.7"/><circle cx="1189" cy="1310.2" r="6.7"/><circle cx="1189" cy="1339.2" r="6.7"/><circle cx="1189" cy="1404.5" r="6.7"/><circle cx="1189" cy="1409.4" r="6.7"/><circle cx="1189" cy="1431.2" r="6.7"/><circle cx="1289" cy="1298.5" r="6.7"/><circle cx="1289" cy="1308.3" r="6.7"/><circle cx="1289" cy="1382.6" r="6.7"/><circle cx="1289" cy="1398.5" r="6.7"/><circle cx="1289" cy="1408.2" r="6.7"/><circle cx="1376" cy="1297.3" r="6.7"/><circle cx="1376" cy="1346" r="6.7"/><circle cx="1376" cy="1389.9" r="6.7"/><circle cx="1376" cy="1428.9" r="6.7"/><circle cx="1376" cy="1432.6" r="6.7"/><circle cx="1462.8" cy="1313.1" r="6.7"/><circle cx="1462.8" cy="1322.9" r="6.7"/><circle cx="1462.8" cy="1408.2" r="6.7"/><circle cx="1462.8" cy="1422.8" r="6.7"/><circle cx="1462.8" cy="1446" r="6.7"/><circle cx="1544.2" cy="1269.3" r="6.7"/><circle cx="1544.2" cy="1274.1" r="6.7"/><circle cx="1544.2" cy="1340" r="6.7"/><circle cx="1544.2" cy="1396" r="6.7"/><circle cx="1544.2" cy="1428.9" r="6.7"/><circle cx="1544.2" cy="1437.5" r="6.7"/></g>
<polyline points="162.3,1571 165.3,1570.4 168.3,1569.7 171.3,1569 174.3,1568.3 177.3,1567.5 180.3,1566.7 183.3,1565.9 186.3,1565 189.4,1564.1 192.4,1563.2 195.4,1562.2 198.4,1561.3 201.4,1560.3 204.4,1559.2 207.4,1558.1 210.4,1557 213.4,1555.9 216.5,1554.8 219.5,1553.6 222.5,1552.4 225.5,1551.1 228.5,1549.8 231.5,1548.5 234.5,1547.2 237.5,1545.9 240.5,1544.5 243.6,1543.1 246.6,1541.7 249.6,1540.2 252.6,1538.7 255.6,1537.2 258.6,1535.7 261.6,1534.1 264.6,1532.5 267.6,1530.9 270.7,1529.3 273.7,1527.6 276.7,1525.9 279.7,1524.2 282.7,1522.5 285.7,1520.7 288.7,1518.9 291.7,1517.1 294.7,1515.3 297.8,1513.4 300.8,1511.5 303.8,1509.6 306.8,1507.7 309.8,1505.8 312.8,1503.8 315.8,1501.8 318.8,1499.8 321.8,1497.8 324.8,1495.8 327.9,1493.7 330.9,1491.6 333.9,1489.6 336.9,1487.5 339.9,1485.3 342.9,1483.2 345.9,1481.1 348.9,1478.9 351.9,1476.8 355,1474.6 358,1472.4 361,1470.2 364,1468 367,1465.8 370,1463.5 373,1461.3 376,1459.1 379,1456.8 382.1,1454.6 385.1,1452.3 388.1,1450.1 391.1,1447.8 394.1,1445.5 397.1,1443.3 400.1,1441 403.1,1438.7 406.1,1436.5 409.2,1434.2 412.2,1431.9 415.2,1429.7 418.2,1427.4 421.2,1425.1 424.2,1422.9 427.2,1420.6 430.2,1418.4 433.2,1416.1 436.3,1413.9 439.3,1411.7 442.3,1409.4 445.3,1407.2 448.3,1405 451.3,1402.8 454.3,1400.6 457.3,1398.4 460.3,1396.2 463.3,1394.1 466.4,1391.9 469.4,1389.8 472.4,1387.7 475.4,1385.5 478.4,1383.4 481.4,1381.3 484.4,1379.3 487.4,1377.2 490.4,1375.2 493.5,1373.1 496.5,1371.1 499.5,1369.1 502.5,1367.1 505.5,1365.2 508.5,1363.2 511.5,1361.3 514.5,1359.4 517.5,1357.5 520.6,1355.7 523.6,1353.9 526.6,1352 529.6,1350.2 532.6,1348.5 535.6,1346.7 538.6,1345 541.6,1343.3 544.6,1341.6 547.7,1340 550.7,1338.4 553.7,1336.8 556.7,1335.2 559.7,1333.7 562.7,1332.2 565.7,1330.7 568.7,1329.3 571.7,1327.8 574.8,1326.5 577.8,1325.1 580.8,1323.8 583.8,1322.5 586.8,1321.2 589.8,1320 592.8,1318.8 595.8,1317.7 598.8,1316.6 601.8,1315.5 604.9,1314.4 607.9,1313.4 610.9,1312.5 613.9,1311.5 616.9,1310.7 619.9,1309.8 622.9,1309 625.9,1308.2 628.9,1307.5 632,1306.8 635,1306.1 638,1305.5 641,1304.9 644,1304.3 647,1303.8 650,1303.3 653,1302.8 656,1302.4 659.1,1301.9 662.1,1301.6 665.1,1301.2 668.1,1300.9 671.1,1300.6 674.1,1300.3 677.1,1300 680.1,1299.8 683.1,1299.6 686.2,1299.4 689.2,1299.2 692.2,1299.1 695.2,1298.9 698.2,1298.8 701.2,1298.7 704.2,1298.7 707.2,1298.6 710.2,1298.6 713.2,1298.5 716.3,1298.5 719.3,1298.5 722.3,1298.5 725.3,1298.5 728.3,1298.6 731.3,1298.6 734.3,1298.6 737.3,1298.7 740.3,1298.8 743.4,1298.8 746.4,1298.9 749.4,1299 752.4,1299.1 755.4,1299.2 758.4,1299.2 761.4,1299.3 764.4,1299.4 767.4,1299.5 770.5,1299.6 773.5,1299.7 776.5,1299.8 779.5,1299.9 782.5,1300 785.5,1300.1 788.5,1300.2 791.5,1300.3 794.5,1300.4 797.6,1300.5 800.6,1300.6 803.6,1300.7 806.6,1300.8 809.6,1300.9 812.6,1301 815.6,1301.1 818.6,1301.2 821.6,1301.3 824.7,1301.4 827.7,1301.5 830.7,1301.7 833.7,1301.8 836.7,1301.9 839.7,1302 842.7,1302.1 845.7,1302.2 848.7,1302.4 851.7,1302.5 854.8,1302.6 857.8,1302.7 860.8,1302.9 863.8,1303 866.8,1303.1 869.8,1303.3 872.8,1303.4 875.8,1303.6 878.8,1303.7 881.9,1303.8 884.9,1304 887.9,1304.1 890.9,1304.3 893.9,1304.5 896.9,1304.6 899.9,1304.8 902.9,1304.9 905.9,1305.1 909,1305.3 912,1305.4 915,1305.6 918,1305.8 921,1305.9 924,1306.1 927,1306.3 930,1306.5 933,1306.7 936.1,1306.9 939.1,1307.1 942.1,1307.3 945.1,1307.5 948.1,1307.7 951.1,1307.9 954.1,1308.1 957.1,1308.3 960.1,1308.5 963.2,1308.7 966.2,1309 969.2,1309.2 972.2,1309.4 975.2,1309.6 978.2,1309.9 981.2,1310.1 984.2,1310.4 987.2,1310.6 990.2,1310.9 993.3,1311.1 996.3,1311.4 999.3,1311.6 1002.3,1311.9 1005.3,1312.2 1008.3,1312.5 1011.3,1312.7 1014.3,1313 1017.3,1313.3 1020.4,1313.6 1023.4,1313.9 1026.4,1314.2 1029.4,1314.5 1032.4,1314.8 1035.4,1315.1 1038.4,1315.4 1041.4,1315.7 1044.4,1316.1 1047.5,1316.4 1050.5,1316.7 1053.5,1317.1 1056.5,1317.4 1059.5,1317.8 1062.5,1318.1 1065.5,1318.5 1068.5,1318.8 1071.5,1319.2 1074.6,1319.6 1077.6,1319.9 1080.6,1320.3 1083.6,1320.7 1086.6,1321.1 1089.6,1321.5 1092.6,1321.9 1095.6,1322.3 1098.6,1322.7 1101.7,1323.1 1104.7,1323.5 1107.7,1324 1110.7,1324.4 1113.7,1324.8 1116.7,1325.3 1119.7,1325.7 1122.7,1326.2 1125.7,1326.6 1128.7,1327.1 1131.8,1327.6 1134.8,1328.1 1137.8,1328.5 1140.8,1329 1143.8,1329.5 1146.8,1330 1149.8,1330.5 1152.8,1331 1155.8,1331.6 1158.9,1332.1 1161.9,1332.6 1164.9,1333.1 1167.9,1333.7 1170.9,1334.2 1173.9,1334.8 1176.9,1335.4 1179.9,1335.9 1182.9,1336.5 1186,1337.1 1189,1337.6 1192,1338.2 1195,1338.8 1198,1339.4 1201,1340 1204,1340.6 1207,1341.2 1210,1341.8 1213.1,1342.4 1216.1,1343 1219.1,1343.6 1222.1,1344.2 1225.1,1344.8 1228.1,1345.4 1231.1,1346 1234.1,1346.6 1237.1,1347.2 1240.1,1347.8 1243.2,1348.4 1246.2,1348.9 1249.2,1349.5 1252.2,1350.1 1255.2,1350.7 1258.2,1351.2 1261.2,1351.8 1264.2,1352.4 1267.2,1352.9 1270.3,1353.5 1273.3,1354 1276.3,1354.5 1279.3,1355.1 1282.3,1355.6 1285.3,1356.1 1288.3,1356.6 1291.3,1357.1 1294.3,1357.6 1297.4,1358.1 1300.4,1358.5 1303.4,1359 1306.4,1359.4 1309.4,1359.9 1312.4,1360.3 1315.4,1360.7 1318.4,1361.1 1321.4,1361.5 1324.5,1361.8 1327.5,1362.2 1330.5,1362.5 1333.5,1362.9 1336.5,1363.2 1339.5,1363.5 1342.5,1363.8 1345.5,1364 1348.5,1364.3 1351.6,1364.5 1354.6,1364.7 1357.6,1364.9 1360.6,1365.1 1363.6,1365.3 1366.6,1365.4 1369.6,1365.6 1372.6,1365.7 1375.6,1365.8 1378.6,1365.8 1381.7,1365.9 1384.7,1365.9 1387.7,1365.9 1390.7,1365.9 1393.7,1365.8 1396.7,1365.8 1399.7,1365.7 1402.7,1365.6 1405.7,1365.5 1408.8,1365.3 1411.8,1365.1 1414.8,1364.9 1417.8,1364.7 1420.8,1364.5 1423.8,1364.2 1426.8,1363.9 1429.8,1363.5 1432.8,1363.2 1435.9,1362.8 1438.9,1362.4 1441.9,1362 1444.9,1361.6 1447.9,1361.1 1450.9,1360.6 1453.9,1360.1 1456.9,1359.6 1459.9,1359 1463,1358.4 1466,1357.9 1469,1357.2 1472,1356.6 1475,1356 1478,1355.3 1481,1354.6 1484,1354 1487,1353.2 1490.1,1352.5 1493.1,1351.8 1496.1,1351 1499.1,1350.3 1502.1,1349.5 1505.1,1348.7 1508.1,1347.9 1511.1,1347.1 1514.1,1346.3 1517.1,1345.4 1520.2,1344.6 1523.2,1343.7 1526.2,1342.9 1529.2,1342 1532.2,1341.1 1535.2,1340.3 1538.2,1339.4 1541.2,1338.5 1544.2,1337.6" fill="none" stroke="#000" stroke-width="3" stroke-linejoin="round" stroke-linecap="butt" clip-path="url(#cD)"/>
<polygon points="286.4,1531.8 289.4,1532 292.4,1532.2 295.4,1532.4 298.4,1532.6 301.4,1532.8 304.5,1533 307.5,1533.3 310.5,1533.5 313.5,1533.8 316.5,1534 319.5,1534.3 322.5,1534.6 325.5,1534.8 328.5,1535.1 331.5,1535.4 334.5,1535.7 337.6,1536 340.6,1536.4 343.6,1536.7 346.6,1537 349.6,1537.3 352.6,1537.7 355.6,1538 358.6,1538.4 361.6,1538.7 364.6,1539.1 367.6,1539.4 370.7,1539.8 373.7,1540.1 376.7,1540.5 379.7,1540.8 382.7,1541.2 385.7,1541.4 388.7,1541.7 391.7,1542 394.7,1542.3 397.7,1542.5 400.8,1542.8 403.8,1543.1 406.8,1543.3 409.8,1543.6 412.8,1543.9 415.8,1544.1 418.8,1544.4 421.8,1544.6 424.8,1544.9 427.8,1545.1 430.8,1545.3 433.9,1545.6 436.9,1545.8 439.9,1546 442.9,1546.2 445.9,1546.4 448.9,1546.6 451.9,1546.8 454.9,1546.9 457.9,1547.1 460.9,1547.3 463.9,1547.4 467,1547.5 470,1547.7 473,1547.8 476,1547.9 479,1548 482,1548 485,1548.1 488,1548.2 491,1548.2 494,1548.2 497,1548.2 500.1,1548.2 503.1,1548.2 506.1,1548.1 509.1,1548 512.1,1547.9 515.1,1547.8 518.1,1547.7 521.1,1547.6 524.1,1547.4 527.1,1547.2 530.1,1547 533.2,1546.8 536.2,1546.6 539.2,1546.3 542.2,1546.1 545.2,1545.8 548.2,1545.5 551.2,1545.1 554.2,1544.8 557.2,1544.4 560.2,1544 563.2,1543.6 566.3,1543.1 569.3,1542.7 572.3,1542.2 575.3,1541.7 578.3,1541.1 581.3,1540.6 584.3,1540 587.3,1539.4 590.3,1538.7 593.3,1538.1 596.3,1537.4 599.4,1536.7 602.4,1535.9 605.4,1535.1 608.4,1534.3 611.4,1533.5 614.4,1532.7 617.4,1531.8 620.4,1530.9 623.4,1529.9 626.4,1528.9 629.4,1527.9 632.5,1526.9 635.5,1525.8 638.5,1524.7 641.5,1523.6 644.5,1522.4 647.5,1521.2 650.5,1520 653.5,1518.7 656.5,1517.4 659.5,1516.1 662.6,1514.7 665.6,1513.3 668.6,1511.9 671.6,1510.4 674.6,1508.9 677.6,1507.3 680.6,1505.7 683.6,1504.1 686.6,1502.5 689.6,1500.8 692.6,1499.1 695.7,1497.3 698.7,1495.6 701.7,1493.8 704.7,1492 707.7,1490.1 710.7,1488.2 713.7,1486.3 716.7,1484.4 719.7,1482.5 722.7,1480.5 725.7,1478.5 728.8,1476.5 731.8,1474.4 734.8,1472.4 737.8,1470.3 740.8,1468.2 743.8,1466.1 746.8,1464 749.8,1461.8 752.8,1459.7 755.8,1457.5 758.8,1455.3 761.9,1453.1 764.9,1450.9 767.9,1448.7 770.9,1446.4 773.9,1444.2 776.9,1441.9 779.9,1439.6 782.9,1437.3 785.9,1435 788.9,1432.7 791.9,1430.4 795,1428.1 798,1425.8 801,1423.5 804,1421.1 807,1418.7 810,1416.3 813,1413.9 816,1411.5 819,1409.2 822,1406.8 825,1404.5 828.1,1402.1 831.1,1399.8 834.1,1397.5 837.1,1395.2 840.1,1393 843.1,1390.7 846.1,1388.5 849.1,1386.4 852.1,1384.2 855.1,1382.1 858.1,1380 861.2,1377.9 864.2,1375.9 867.2,1373.9 870.2,1371.9 873.2,1370 876.2,1368.2 879.2,1366.3 882.2,1364.5 885.2,1362.8 888.2,1361.1 891.2,1359.4 894.3,1357.7 897.3,1356.1 900.3,1354.6 903.3,1353 906.3,1351.5 909.3,1350.1 912.3,1348.6 915.3,1347.2 918.3,1345.9 921.3,1344.5 924.4,1343.2 927.4,1342 930.4,1340.7 933.4,1339.5 936.4,1338.4 939.4,1337.2 942.4,1336.1 945.4,1335.1 948.4,1334 951.4,1333 954.4,1332 957.5,1331 960.5,1330.1 963.5,1329.2 966.5,1328.3 969.5,1327.4 972.5,1326.6 975.5,1325.8 978.5,1325 981.5,1324.3 984.5,1323.5 987.5,1322.8 990.6,1322.2 993.6,1321.5 996.6,1320.9 999.6,1320.2 1002.6,1319.7 1005.6,1319.2 1008.6,1318.7 1011.6,1318.2 1014.6,1317.8 1017.6,1317.3 1020.6,1316.9 1023.7,1316.5 1026.7,1316.1 1029.7,1315.8 1032.7,1315.4 1035.7,1315.1 1038.7,1314.8 1041.7,1314.5 1044.7,1314.2 1047.7,1314 1050.7,1313.7 1053.7,1313.5 1056.8,1313.3 1059.8,1313 1062.8,1312.8 1065.8,1312.7 1068.8,1312.5 1071.8,1312.3 1074.8,1312.2 1077.8,1312 1080.8,1311.9 1083.8,1311.8 1086.8,1311.7 1089.9,1311.6 1092.9,1311.5 1095.9,1311.4 1098.9,1311.3 1101.9,1311.3 1104.9,1311.2 1107.9,1311.2 1110.9,1311.1 1113.9,1311.1 1116.9,1311 1119.9,1311 1123,1311 1126,1310.9 1129,1310.9 1132,1310.9 1135,1310.9 1138,1310.9 1141,1310.9 1144,1310.8 1147,1310.8 1150,1310.8 1153.1,1310.8 1156.1,1310.8 1159.1,1310.8 1162.1,1310.8 1165.1,1310.8 1168.1,1310.7 1171.1,1310.7 1174.1,1310.7 1177.1,1310.7 1180.1,1310.6 1183.1,1310.6 1186.2,1310.6 1189.2,1310.5 1192.2,1310.5 1195.2,1310.4 1198.2,1310.3 1201.2,1310.2 1204.2,1310.1 1207.2,1310 1210.2,1309.9 1213.2,1309.8 1216.2,1309.6 1219.3,1309.5 1222.3,1309.3 1225.3,1309.2 1228.3,1309 1231.3,1308.8 1234.3,1308.6 1237.3,1308.4 1240.3,1308.2 1243.3,1307.9 1246.3,1307.7 1249.3,1307.5 1252.4,1307.2 1255.4,1307 1258.4,1306.7 1261.4,1306.4 1264.4,1306.2 1267.4,1305.9 1270.4,1305.6 1273.4,1305.3 1276.4,1305 1279.4,1304.7 1282.4,1304.4 1285.5,1304.1 1288.5,1303.7 1291.5,1303.4 1294.5,1303.1 1297.5,1302.8 1300.5,1302.4 1303.5,1302.1 1306.5,1301.7 1309.5,1301.4 1312.5,1301 1315.5,1300.7 1318.6,1300.3 1321.6,1300 1324.6,1299.6 1327.6,1299.2 1330.6,1298.9 1333.6,1298.5 1336.6,1298.1 1339.6,1297.8 1342.6,1297.4 1345.6,1297 1348.6,1296.6 1351.7,1296.3 1354.7,1295.9 1357.7,1295.5 1360.7,1295.2 1363.7,1294.8 1366.7,1294.4 1369.7,1294.1 1372.7,1293.7 1375.7,1293.3 1378.7,1293 1381.7,1292.6 1384.8,1292.3 1387.8,1291.9 1390.8,1291.5 1393.8,1291.2 1396.8,1290.9 1399.8,1290.5 1402.8,1290.2 1405.8,1289.8 1408.8,1289.5 1411.8,1289.2 1414.9,1288.9 1417.9,1288.6 1420.9,1288.3 1423.9,1288 1426.9,1287.7 1429.9,1287.4 1432.9,1287.1 1435.9,1286.8 1438.9,1286.5 1441.9,1286.3 1444.9,1286 1448,1285.9 1451,1285.7 1454,1285.6 1457,1285.5 1460,1285.4 1463,1285.3 1466,1285.2 1469,1285.2 1472,1285.1 1475,1285 1478,1285 1481.1,1284.9 1484.1,1284.9 1487.1,1284.9 1490.1,1284.9 1493.1,1284.9 1496.1,1284.9 1499.1,1284.9 1502.1,1285 1505.1,1285 1508.1,1285.1 1511.1,1285.2 1514.2,1285.3 1517.2,1285.4 1520.2,1285.5 1523.2,1285.6 1526.2,1285.7 1529.2,1285.9 1532.2,1286 1535.2,1286.2 1538.2,1286.4 1541.2,1286.6 1544.2,1286.9 1544.2,1310.9 1541.2,1310.8 1538.2,1310.8 1535.2,1310.8 1532.2,1310.8 1529.2,1310.8 1526.2,1310.8 1523.2,1310.9 1520.2,1310.9 1517.2,1311 1514.2,1311.1 1511.1,1311.2 1508.1,1311.3 1505.1,1311.4 1502.1,1311.5 1499.1,1311.7 1496.1,1311.8 1493.1,1312 1490.1,1312.2 1487.1,1312.4 1484.1,1312.6 1481.1,1312.8 1478,1313 1475,1313.2 1472,1313.5 1469,1313.7 1466,1314 1463,1314.2 1460,1314.5 1457,1314.8 1454,1315.1 1451,1315.4 1448,1315.7 1444.9,1316 1441.9,1316.2 1438.9,1316.4 1435.9,1316.7 1432.9,1316.9 1429.9,1317.1 1426.9,1317.4 1423.9,1317.6 1420.9,1317.9 1417.9,1318.1 1414.9,1318.4 1411.8,1318.7 1408.8,1318.9 1405.8,1319.2 1402.8,1319.5 1399.8,1319.8 1396.8,1320.1 1393.8,1320.4 1390.8,1320.7 1387.8,1321 1384.8,1321.3 1381.7,1321.6 1378.7,1321.9 1375.7,1322.2 1372.7,1322.5 1369.7,1322.8 1366.7,1323.1 1363.7,1323.5 1360.7,1323.8 1357.7,1324.1 1354.7,1324.4 1351.7,1324.7 1348.6,1325.1 1345.6,1325.4 1342.6,1325.7 1339.6,1326 1336.6,1326.4 1333.6,1326.7 1330.6,1327 1327.6,1327.3 1324.6,1327.6 1321.6,1327.9 1318.6,1328.3 1315.5,1328.6 1312.5,1328.9 1309.5,1329.2 1306.5,1329.5 1303.5,1329.8 1300.5,1330.1 1297.5,1330.3 1294.5,1330.6 1291.5,1330.9 1288.5,1331.2 1285.5,1331.5 1282.4,1331.7 1279.4,1332 1276.4,1332.3 1273.4,1332.5 1270.4,1332.7 1267.4,1333 1264.4,1333.2 1261.4,1333.4 1258.4,1333.7 1255.4,1333.9 1252.4,1334.1 1249.3,1334.3 1246.3,1334.5 1243.3,1334.7 1240.3,1334.8 1237.3,1335 1234.3,1335.2 1231.3,1335.3 1228.3,1335.4 1225.3,1335.6 1222.3,1335.7 1219.3,1335.8 1216.2,1335.9 1213.2,1336 1210.2,1336.1 1207.2,1336.1 1204.2,1336.2 1201.2,1336.3 1198.2,1336.3 1195.2,1336.4 1192.2,1336.5 1189.2,1336.5 1186.2,1336.6 1183.1,1336.6 1180.1,1336.6 1177.1,1336.7 1174.1,1336.7 1171.1,1336.7 1168.1,1336.7 1165.1,1336.8 1162.1,1336.8 1159.1,1336.8 1156.1,1336.8 1153.1,1336.8 1150,1336.8 1147,1336.8 1144,1336.8 1141,1336.9 1138,1336.9 1135,1336.9 1132,1336.9 1129,1336.9 1126,1336.9 1123,1337 1119.9,1337 1116.9,1337 1113.9,1337.1 1110.9,1337.1 1107.9,1337.2 1104.9,1337.2 1101.9,1337.3 1098.9,1337.3 1095.9,1337.4 1092.9,1337.5 1089.9,1337.6 1086.8,1337.7 1083.8,1337.8 1080.8,1337.9 1077.8,1338 1074.8,1338.2 1071.8,1338.3 1068.8,1338.5 1065.8,1338.7 1062.8,1338.8 1059.8,1339 1056.8,1339.3 1053.7,1339.5 1050.7,1339.7 1047.7,1340 1044.7,1340.2 1041.7,1340.5 1038.7,1340.8 1035.7,1341.1 1032.7,1341.4 1029.7,1341.8 1026.7,1342.1 1023.7,1342.5 1020.6,1342.9 1017.6,1343.3 1014.6,1343.8 1011.6,1344.2 1008.6,1344.7 1005.6,1345.2 1002.6,1345.7 999.6,1346.2 996.6,1346.7 993.6,1347.2 990.6,1347.8 987.5,1348.3 984.5,1348.9 981.5,1349.5 978.5,1350.2 975.5,1350.8 972.5,1351.5 969.5,1352.2 966.5,1353 963.5,1353.7 960.5,1354.5 957.5,1355.3 954.4,1356.2 951.4,1357 948.4,1357.9 945.4,1358.9 942.4,1359.8 939.4,1360.8 936.4,1361.8 933.4,1362.9 930.4,1364 927.4,1365.1 924.4,1366.2 921.3,1367.4 918.3,1368.6 915.3,1369.8 912.3,1371.1 909.3,1372.4 906.3,1373.8 903.3,1375.2 900.3,1376.6 897.3,1378 894.3,1379.5 891.2,1381 888.2,1382.6 885.2,1384.2 882.2,1385.8 879.2,1387.5 876.2,1389.2 873.2,1391 870.2,1392.8 867.2,1394.6 864.2,1396.5 861.2,1398.4 858.1,1400.3 855.1,1402.3 852.1,1404.3 849.1,1406.3 846.1,1408.4 843.1,1410.5 840.1,1412.6 837.1,1414.7 834.1,1416.9 831.1,1419.1 828.1,1421.2 825,1423.5 822,1425.7 819,1427.9 816,1430.2 813,1432.4 810,1434.7 807,1437 804,1439.2 801,1441.5 798,1443.8 795,1446.2 791.9,1448.5 788.9,1450.9 785.9,1453.2 782.9,1455.6 779.9,1457.9 776.9,1460.2 773.9,1462.5 770.9,1464.8 767.9,1467.1 764.9,1469.4 761.9,1471.7 758.8,1473.9 755.8,1476.2 752.8,1478.4 749.8,1480.6 746.8,1482.8 743.8,1484.9 740.8,1487.1 737.8,1489.2 734.8,1491.4 731.8,1493.5 728.8,1495.5 725.7,1497.6 722.7,1499.6 719.7,1501.7 716.7,1503.6 713.7,1505.6 710.7,1507.6 707.7,1509.5 704.7,1511.4 701.7,1513.2 698.7,1515.1 695.7,1516.9 692.6,1518.7 689.6,1520.4 686.6,1522.2 683.6,1523.8 680.6,1525.5 677.6,1527.1 674.6,1528.7 671.6,1530.3 668.6,1531.8 665.6,1533.3 662.6,1534.8 659.5,1536.2 656.5,1537.6 653.5,1539 650.5,1540.4 647.5,1541.7 644.5,1542.9 641.5,1544.2 638.5,1545.4 635.5,1546.5 632.5,1547.7 629.4,1548.8 626.4,1549.9 623.4,1550.9 620.4,1551.9 617.4,1552.9 614.4,1553.9 611.4,1554.8 608.4,1555.7 605.4,1556.6 602.4,1557.4 599.4,1558.3 596.3,1559 593.3,1559.8 590.3,1560.5 587.3,1561.3 584.3,1561.9 581.3,1562.6 578.3,1563.2 575.3,1563.8 572.3,1564.4 569.3,1565 566.3,1565.5 563.2,1566 560.2,1566.5 557.2,1567 554.2,1567.5 551.2,1567.9 548.2,1568.3 545.2,1568.7 542.2,1569 539.2,1569.4 536.2,1569.7 533.2,1570 530.1,1570.3 527.1,1570.6 524.1,1570.8 521.1,1571.1 518.1,1571.3 515.1,1571.5 512.1,1571.7 509.1,1571.8 506.1,1572 503.1,1572.1 500.1,1572.2 497,1572.3 494,1572.5 491,1572.6 488,1572.7 485,1572.7 482,1572.8 479,1572.8 476,1572.9 473,1572.9 470,1572.9 467,1572.9 463.9,1572.9 460.9,1572.9 457.9,1572.9 454.9,1572.8 451.9,1572.8 448.9,1572.7 445.9,1572.7 442.9,1572.6 439.9,1572.5 436.9,1572.5 433.9,1572.4 430.8,1572.3 427.8,1572.2 424.8,1572 421.8,1571.9 418.8,1571.8 415.8,1571.7 412.8,1571.6 409.8,1571.4 406.8,1571.3 403.8,1571.2 400.8,1571 397.7,1570.9 394.7,1570.7 391.7,1570.6 388.7,1570.4 385.7,1570.3 382.7,1570.1 379.7,1570.1 376.7,1570.1 373.7,1570.1 370.7,1570.1 367.6,1570 364.6,1570 361.6,1570 358.6,1570 355.6,1570 352.6,1570 349.6,1570.1 346.6,1570.1 343.6,1570.1 340.6,1570.1 337.6,1570.1 334.5,1570.2 331.5,1570.2 328.5,1570.3 325.5,1570.3 322.5,1570.4 319.5,1570.4 316.5,1570.5 313.5,1570.6 310.5,1570.7 307.5,1570.8 304.5,1570.9 301.4,1571 298.4,1571.2 295.4,1571.3 292.4,1571.5 289.4,1571.6 286.4,1571.8" fill="#F4A582" fill-opacity="0.5" clip-path="url(#cD)"/>
<g fill="none" stroke="#F4A582" stroke-width="3.2"><circle cx="286.4" cy="1515.9" r="6.7"/><circle cx="286.4" cy="1529.2" r="6.7"/><circle cx="286.4" cy="1554.6" r="6.7"/><circle cx="286.4" cy="1559.4" r="6.7"/><circle cx="318.1" cy="1543.7" r="6.7"/><circle cx="573.2" cy="1494.1" r="6.7"/><circle cx="573.2" cy="1509.8" r="6.7"/><circle cx="573.2" cy="1535.2" r="6.7"/><circle cx="573.2" cy="1548.5" r="6.7"/><circle cx="573.2" cy="1554.6" r="6.7"/><circle cx="573.2" cy="1559.4" r="6.7"/><circle cx="597.4" cy="1495.3" r="6.7"/><circle cx="597.4" cy="1517.1" r="6.7"/><circle cx="597.4" cy="1540.1" r="6.7"/><circle cx="597.4" cy="1552.2" r="6.7"/><circle cx="597.4" cy="1557" r="6.7"/><circle cx="597.4" cy="1561.8" r="6.7"/><circle cx="622.8" cy="1507.4" r="6.7"/><circle cx="622.8" cy="1549.7" r="6.7"/><circle cx="622.8" cy="1554.6" r="6.7"/><circle cx="622.8" cy="1559.4" r="6.7"/><circle cx="641" cy="1501.3" r="6.7"/><circle cx="641" cy="1540.1" r="6.7"/><circle cx="641" cy="1547.3" r="6.7"/><circle cx="641" cy="1552.2" r="6.7"/><circle cx="641" cy="1557" r="6.7"/><circle cx="641" cy="1561.8" r="6.7"/><circle cx="666.4" cy="1488" r="6.7"/><circle cx="666.4" cy="1521.9" r="6.7"/><circle cx="666.4" cy="1530.4" r="6.7"/><circle cx="666.4" cy="1537.6" r="6.7"/><circle cx="666.4" cy="1542.5" r="6.7"/><circle cx="666.4" cy="1555.8" r="6.7"/><circle cx="685.3" cy="1483.2" r="6.7"/><circle cx="685.3" cy="1498.9" r="6.7"/><circle cx="685.3" cy="1515.9" r="6.7"/><circle cx="685.3" cy="1529.2" r="6.7"/><circle cx="685.3" cy="1538.9" r="6.7"/><circle cx="710" cy="1500.1" r="6.7"/><circle cx="710" cy="1505" r="6.7"/><circle cx="710" cy="1511" r="6.7"/><circle cx="710" cy="1517.1" r="6.7"/><circle cx="710" cy="1542.5" r="6.7"/><circle cx="728.6" cy="1468.7" r="6.7"/><circle cx="728.6" cy="1477.1" r="6.7"/><circle cx="728.6" cy="1482" r="6.7"/><circle cx="728.6" cy="1486.8" r="6.7"/><circle cx="728.6" cy="1498.9" r="6.7"/><circle cx="728.6" cy="1512.2" r="6.7"/><circle cx="728.6" cy="1526.8" r="6.7"/><circle cx="753.5" cy="1445.7" r="6.7"/><circle cx="753.5" cy="1457.8" r="6.7"/><circle cx="753.5" cy="1463.8" r="6.7"/><circle cx="753.5" cy="1472.3" r="6.7"/><circle cx="753.5" cy="1507.4" r="6.7"/><circle cx="772.4" cy="1428.7" r="6.7"/><circle cx="772.4" cy="1446.9" r="6.7"/><circle cx="772.4" cy="1460.2" r="6.7"/><circle cx="772.4" cy="1467.5" r="6.7"/><circle cx="772.4" cy="1509.8" r="6.7"/><circle cx="797.1" cy="1419.1" r="6.7"/><circle cx="797.1" cy="1423.9" r="6.7"/><circle cx="797.1" cy="1428.7" r="6.7"/><circle cx="797.1" cy="1448.1" r="6.7"/><circle cx="797.1" cy="1500.1" r="6.7"/><circle cx="840.6" cy="1356.2" r="6.7"/><circle cx="840.6" cy="1361" r="6.7"/><circle cx="840.6" cy="1382.8" r="6.7"/><circle cx="840.6" cy="1387.6" r="6.7"/><circle cx="840.6" cy="1411.8" r="6.7"/><circle cx="840.6" cy="1419.1" r="6.7"/><circle cx="840.6" cy="1472.3" r="6.7"/><circle cx="890.2" cy="1319.9" r="6.7"/><circle cx="890.2" cy="1350.1" r="6.7"/><circle cx="890.2" cy="1361" r="6.7"/><circle cx="890.2" cy="1373.1" r="6.7"/><circle cx="890.2" cy="1380.4" r="6.7"/><circle cx="890.2" cy="1387.6" r="6.7"/><circle cx="890.2" cy="1445.7" r="6.7"/><circle cx="927.7" cy="1272.7" r="6.7"/><circle cx="927.7" cy="1333.2" r="6.7"/><circle cx="927.7" cy="1344.1" r="6.7"/><circle cx="927.7" cy="1361" r="6.7"/><circle cx="927.7" cy="1375.5" r="6.7"/><circle cx="927.7" cy="1419.1" r="6.7"/><circle cx="971.2" cy="1270.2" r="6.7"/><circle cx="971.2" cy="1304.1" r="6.7"/><circle cx="971.2" cy="1334.4" r="6.7"/><circle cx="971.2" cy="1341.6" r="6.7"/><circle cx="971.2" cy="1346.5" r="6.7"/><circle cx="971.2" cy="1353.7" r="6.7"/><circle cx="971.2" cy="1407" r="6.7"/><circle cx="1101.9" cy="1284.8" r="6.7"/><circle cx="1101.9" cy="1305.3" r="6.7"/><circle cx="1101.9" cy="1315" r="6.7"/><circle cx="1101.9" cy="1332" r="6.7"/><circle cx="1101.9" cy="1367" r="6.7"/><circle cx="1189" cy="1312.6" r="6.7"/><circle cx="1189" cy="1317.4" r="6.7"/><circle cx="1189" cy="1323.5" r="6.7"/><circle cx="1189" cy="1332" r="6.7"/><circle cx="1189" cy="1356.2" r="6.7"/><circle cx="1189" cy="1382.8" r="6.7"/><circle cx="1289" cy="1270.5" r="6.7"/><circle cx="1289" cy="1280.2" r="6.7"/><circle cx="1289" cy="1283.9" r="6.7"/><circle cx="1289" cy="1297.3" r="6.7"/><circle cx="1289" cy="1332.6" r="6.7"/><circle cx="1376" cy="1298.5" r="6.7"/><circle cx="1376" cy="1337.5" r="6.7"/><circle cx="1376" cy="1396" r="6.7"/><circle cx="1462.8" cy="1270.5" r="6.7"/><circle cx="1462.8" cy="1275.3" r="6.7"/><circle cx="1462.8" cy="1288.8" r="6.7"/><circle cx="1462.8" cy="1363.1" r="6.7"/><circle cx="1544.2" cy="1272.9" r="6.7"/><circle cx="1544.2" cy="1279" r="6.7"/><circle cx="1544.2" cy="1383.8" r="6.7"/></g>
<polyline points="286.4,1550.8 289.4,1550.8 292.4,1550.9 295.4,1550.9 298.4,1551 301.4,1551.1 304.5,1551.2 307.5,1551.2 310.5,1551.4 313.5,1551.5 316.5,1551.6 319.5,1551.7 322.5,1551.8 325.5,1552 328.5,1552.1 331.5,1552.3 334.5,1552.5 337.6,1552.6 340.6,1552.8 343.6,1553 346.6,1553.2 349.6,1553.4 352.6,1553.6 355.6,1553.8 358.6,1554 361.6,1554.2 364.6,1554.4 367.6,1554.6 370.7,1554.8 373.7,1555 376.7,1555.2 379.7,1555.4 382.7,1555.6 385.7,1555.9 388.7,1556.1 391.7,1556.3 394.7,1556.5 397.7,1556.7 400.8,1556.9 403.8,1557.1 406.8,1557.3 409.8,1557.5 412.8,1557.7 415.8,1557.9 418.8,1558.1 421.8,1558.3 424.8,1558.5 427.8,1558.6 430.8,1558.8 433.9,1559 436.9,1559.1 439.9,1559.3 442.9,1559.4 445.9,1559.5 448.9,1559.7 451.9,1559.8 454.9,1559.9 457.9,1560 460.9,1560.1 463.9,1560.2 467,1560.2 470,1560.3 473,1560.3 476,1560.4 479,1560.4 482,1560.4 485,1560.4 488,1560.4 491,1560.4 494,1560.3 497,1560.3 500.1,1560.2 503.1,1560.1 506.1,1560 509.1,1559.9 512.1,1559.8 515.1,1559.7 518.1,1559.5 521.1,1559.3 524.1,1559.1 527.1,1558.9 530.1,1558.7 533.2,1558.4 536.2,1558.2 539.2,1557.9 542.2,1557.6 545.2,1557.2 548.2,1556.9 551.2,1556.5 554.2,1556.1 557.2,1555.7 560.2,1555.3 563.2,1554.8 566.3,1554.3 569.3,1553.8 572.3,1553.3 575.3,1552.8 578.3,1552.2 581.3,1551.6 584.3,1551 587.3,1550.3 590.3,1549.6 593.3,1548.9 596.3,1548.2 599.4,1547.5 602.4,1546.7 605.4,1545.9 608.4,1545 611.4,1544.2 614.4,1543.3 617.4,1542.4 620.4,1541.4 623.4,1540.4 626.4,1539.4 629.4,1538.4 632.5,1537.3 635.5,1536.2 638.5,1535.1 641.5,1533.9 644.5,1532.7 647.5,1531.4 650.5,1530.2 653.5,1528.9 656.5,1527.5 659.5,1526.2 662.6,1524.8 665.6,1523.3 668.6,1521.9 671.6,1520.4 674.6,1518.8 677.6,1517.2 680.6,1515.6 683.6,1514 686.6,1512.3 689.6,1510.6 692.6,1508.9 695.7,1507.1 698.7,1505.3 701.7,1503.5 704.7,1501.7 707.7,1499.8 710.7,1497.9 713.7,1496 716.7,1494 719.7,1492.1 722.7,1490.1 725.7,1488 728.8,1486 731.8,1484 734.8,1481.9 737.8,1479.8 740.8,1477.7 743.8,1475.5 746.8,1473.4 749.8,1471.2 752.8,1469 755.8,1466.8 758.8,1464.6 761.9,1462.4 764.9,1460.1 767.9,1457.9 770.9,1455.6 773.9,1453.3 776.9,1451.1 779.9,1448.8 782.9,1446.5 785.9,1444.1 788.9,1441.8 791.9,1439.5 795,1437.2 798,1434.8 801,1432.5 804,1430.1 807,1427.8 810,1425.5 813,1423.2 816,1420.8 819,1418.5 822,1416.2 825,1414 828.1,1411.7 831.1,1409.4 834.1,1407.2 837.1,1405 840.1,1402.8 843.1,1400.6 846.1,1398.5 849.1,1396.3 852.1,1394.2 855.1,1392.2 858.1,1390.1 861.2,1388.1 864.2,1386.2 867.2,1384.2 870.2,1382.4 873.2,1380.5 876.2,1378.7 879.2,1376.9 882.2,1375.2 885.2,1373.5 888.2,1371.8 891.2,1370.2 894.3,1368.6 897.3,1367.1 900.3,1365.6 903.3,1364.1 906.3,1362.6 909.3,1361.2 912.3,1359.9 915.3,1358.5 918.3,1357.2 921.3,1356 924.4,1354.7 927.4,1353.5 930.4,1352.4 933.4,1351.2 936.4,1350.1 939.4,1349 942.4,1348 945.4,1347 948.4,1346 951.4,1345 954.4,1344.1 957.5,1343.2 960.5,1342.3 963.5,1341.5 966.5,1340.6 969.5,1339.8 972.5,1339.1 975.5,1338.3 978.5,1337.6 981.5,1336.9 984.5,1336.2 987.5,1335.6 990.6,1335 993.6,1334.4 996.6,1333.8 999.6,1333.2 1002.6,1332.7 1005.6,1332.2 1008.6,1331.7 1011.6,1331.2 1014.6,1330.8 1017.6,1330.3 1020.6,1329.9 1023.7,1329.5 1026.7,1329.1 1029.7,1328.8 1032.7,1328.4 1035.7,1328.1 1038.7,1327.8 1041.7,1327.5 1044.7,1327.2 1047.7,1327 1050.7,1326.7 1053.7,1326.5 1056.8,1326.3 1059.8,1326 1062.8,1325.8 1065.8,1325.7 1068.8,1325.5 1071.8,1325.3 1074.8,1325.2 1077.8,1325 1080.8,1324.9 1083.8,1324.8 1086.8,1324.7 1089.9,1324.6 1092.9,1324.5 1095.9,1324.4 1098.9,1324.3 1101.9,1324.3 1104.9,1324.2 1107.9,1324.2 1110.9,1324.1 1113.9,1324.1 1116.9,1324 1119.9,1324 1123,1324 1126,1323.9 1129,1323.9 1132,1323.9 1135,1323.9 1138,1323.9 1141,1323.9 1144,1323.8 1147,1323.8 1150,1323.8 1153.1,1323.8 1156.1,1323.8 1159.1,1323.8 1162.1,1323.8 1165.1,1323.8 1168.1,1323.7 1171.1,1323.7 1174.1,1323.7 1177.1,1323.7 1180.1,1323.6 1183.1,1323.6 1186.2,1323.6 1189.2,1323.5 1192.2,1323.5 1195.2,1323.4 1198.2,1323.3 1201.2,1323.3 1204.2,1323.2 1207.2,1323.1 1210.2,1323 1213.2,1322.9 1216.2,1322.8 1219.3,1322.6 1222.3,1322.5 1225.3,1322.4 1228.3,1322.2 1231.3,1322 1234.3,1321.9 1237.3,1321.7 1240.3,1321.5 1243.3,1321.3 1246.3,1321.1 1249.3,1320.9 1252.4,1320.7 1255.4,1320.4 1258.4,1320.2 1261.4,1319.9 1264.4,1319.7 1267.4,1319.4 1270.4,1319.2 1273.4,1318.9 1276.4,1318.6 1279.4,1318.3 1282.4,1318.1 1285.5,1317.8 1288.5,1317.5 1291.5,1317.2 1294.5,1316.9 1297.5,1316.6 1300.5,1316.2 1303.5,1315.9 1306.5,1315.6 1309.5,1315.3 1312.5,1314.9 1315.5,1314.6 1318.6,1314.3 1321.6,1313.9 1324.6,1313.6 1327.6,1313.3 1330.6,1312.9 1333.6,1312.6 1336.6,1312.2 1339.6,1311.9 1342.6,1311.6 1345.6,1311.2 1348.6,1310.9 1351.7,1310.5 1354.7,1310.2 1357.7,1309.8 1360.7,1309.5 1363.7,1309.1 1366.7,1308.8 1369.7,1308.4 1372.7,1308.1 1375.7,1307.8 1378.7,1307.4 1381.7,1307.1 1384.8,1306.8 1387.8,1306.4 1390.8,1306.1 1393.8,1305.8 1396.8,1305.5 1399.8,1305.1 1402.8,1304.8 1405.8,1304.5 1408.8,1304.2 1411.8,1303.9 1414.9,1303.6 1417.9,1303.3 1420.9,1303.1 1423.9,1302.8 1426.9,1302.5 1429.9,1302.2 1432.9,1302 1435.9,1301.7 1438.9,1301.5 1441.9,1301.2 1444.9,1301 1448,1300.8 1451,1300.6 1454,1300.4 1457,1300.2 1460,1300 1463,1299.8 1466,1299.6 1469,1299.4 1472,1299.3 1475,1299.1 1478,1299 1481.1,1298.9 1484.1,1298.7 1487.1,1298.6 1490.1,1298.5 1493.1,1298.4 1496.1,1298.4 1499.1,1298.3 1502.1,1298.2 1505.1,1298.2 1508.1,1298.2 1511.1,1298.2 1514.2,1298.2 1517.2,1298.2 1520.2,1298.2 1523.2,1298.2 1526.2,1298.3 1529.2,1298.3 1532.2,1298.4 1535.2,1298.5 1538.2,1298.6 1541.2,1298.7 1544.2,1298.9" fill="none" stroke="#000" stroke-width="3" stroke-linejoin="round" stroke-linecap="butt" clip-path="url(#cD)"/>
<polygon points="791,1537.9 794,1539 797,1540.1 800.1,1541.2 803.1,1542.2 806.1,1543.3 809.1,1544.3 812.1,1545.2 815.1,1546.2 818.1,1547.1 821.2,1548 824.2,1548.9 827.2,1549.8 830.2,1550.6 833.2,1551.4 836.2,1552.1 839.2,1552.9 842.2,1553.6 845.3,1554.2 848.3,1554.9 851.3,1555.4 854.3,1556 857.3,1556.5 860.3,1556.9 863.3,1556.8 866.4,1556.5 869.4,1556.3 872.4,1556 875.4,1555.7 878.4,1555.3 881.4,1554.9 884.4,1554.4 887.4,1553.9 890.5,1553.3 893.5,1552.7 896.5,1552 899.5,1551.3 902.5,1550.5 905.5,1549.7 908.5,1548.9 911.6,1547.9 914.6,1547 917.6,1546 920.6,1544.9 923.6,1543.8 926.6,1542.7 929.6,1541.4 932.6,1540 935.7,1538.6 938.7,1537.1 941.7,1535.6 944.7,1534 947.7,1532.4 950.7,1530.7 953.7,1529 956.8,1527.3 959.8,1525.5 962.8,1523.7 965.8,1521.9 968.8,1520 971.8,1518.1 974.8,1516.1 977.8,1514.2 980.9,1512.2 983.9,1510.1 986.9,1508.1 989.9,1506 992.9,1503.9 995.9,1501.8 998.9,1499.6 1002,1497.4 1005,1495.2 1008,1493 1011,1490.8 1014,1488.6 1017,1486.3 1020,1484 1023,1481.8 1026.1,1479.5 1029.1,1477.2 1032.1,1474.9 1035.1,1472.6 1038.1,1470.3 1041.1,1467.9 1044.1,1465.6 1047.2,1463.3 1050.2,1460.9 1053.2,1458.6 1056.2,1456.3 1059.2,1453.9 1062.2,1451.6 1065.2,1449.2 1068.2,1446.9 1071.3,1444.6 1074.3,1442.2 1077.3,1439.9 1080.3,1437.5 1083.3,1435.2 1086.3,1432.9 1089.3,1430.6 1092.3,1428.2 1095.4,1425.9 1098.4,1423.6 1101.4,1421.3 1104.4,1418.9 1107.4,1416.6 1110.4,1414.2 1113.4,1411.9 1116.5,1409.6 1119.5,1407.3 1122.5,1405 1125.5,1402.7 1128.5,1400.4 1131.5,1398.1 1134.5,1395.9 1137.5,1393.7 1140.6,1391.5 1143.6,1389.3 1146.6,1387.1 1149.6,1384.9 1152.6,1382.8 1155.6,1380.7 1158.6,1378.6 1161.7,1376.5 1164.7,1374.4 1167.7,1372.4 1170.7,1370.4 1173.7,1368.4 1176.7,1366.4 1179.7,1364.5 1182.7,1362.6 1185.8,1360.7 1188.8,1358.8 1191.8,1357 1194.8,1355.2 1197.8,1353.4 1200.8,1351.7 1203.8,1349.9 1206.9,1348.3 1209.9,1346.6 1212.9,1345 1215.9,1343.4 1218.9,1341.8 1221.9,1340.3 1224.9,1338.8 1227.9,1337.4 1231,1336 1234,1334.6 1237,1333.2 1240,1331.9 1243,1330.6 1246,1329.3 1249,1328.1 1252.1,1326.9 1255.1,1325.6 1258.1,1324.4 1261.1,1323.2 1264.1,1322.1 1267.1,1321 1270.1,1319.9 1273.1,1318.8 1276.2,1317.8 1279.2,1316.8 1282.2,1315.8 1285.2,1314.8 1288.2,1313.9 1291.2,1313 1294.2,1312.1 1297.3,1311.2 1300.3,1310.4 1303.3,1309.6 1306.3,1308.8 1309.3,1308 1312.3,1307.3 1315.3,1306.6 1318.3,1305.9 1321.4,1305.2 1324.4,1304.5 1327.4,1303.9 1330.4,1303.2 1333.4,1302.6 1336.4,1302 1339.4,1301.5 1342.5,1300.9 1345.5,1300.4 1348.5,1299.9 1351.5,1299.4 1354.5,1298.9 1357.5,1298.4 1360.5,1298 1363.5,1297.5 1366.6,1297.1 1369.6,1296.7 1372.6,1296.3 1375.6,1295.9 1378.6,1295.5 1381.6,1295.2 1384.6,1294.8 1387.7,1294.5 1390.7,1294.2 1393.7,1293.8 1396.7,1293.5 1399.7,1293.3 1402.7,1292.9 1405.7,1292.5 1408.7,1292.1 1411.8,1291.7 1414.8,1291.3 1417.8,1291 1420.8,1290.6 1423.8,1290.3 1426.8,1289.9 1429.8,1289.6 1432.8,1289.2 1435.9,1288.9 1438.9,1288.6 1441.9,1288.3 1444.9,1288 1447.9,1287.6 1450.9,1287.3 1453.9,1287 1457,1286.7 1460,1286.4 1463,1286.1 1466,1285.9 1469,1285.6 1472,1285.3 1475,1285.1 1478,1284.8 1481.1,1284.6 1484.1,1284.4 1487.1,1284.2 1490.1,1284 1493.1,1283.8 1496.1,1283.6 1499.1,1283.4 1502.2,1283.3 1505.2,1283.2 1508.2,1283.1 1511.2,1283 1514.2,1282.9 1517.2,1282.8 1520.2,1282.8 1523.2,1282.8 1526.3,1282.7 1529.3,1282.8 1532.3,1282.8 1535.3,1282.9 1538.3,1282.9 1541.3,1283 1544.3,1283.2 1547.4,1283.3 1550.4,1283.5 1553.4,1283.4 1556.4,1283.4 1559.4,1283.4 1562.4,1283.4 1565.4,1283.5 1568.4,1283.6 1571.5,1283.7 1574.5,1283.9 1577.5,1284.1 1580.5,1284.3 1583.5,1284.5 1586.5,1284.8 1589.5,1285.1 1592.6,1285.4 1595.6,1285.8 1598.6,1286.2 1601.6,1286.7 1604.6,1287.2 1607.6,1287.7 1610.6,1288.3 1613.6,1288.9 1616.7,1289.5 1619.7,1290.2 1622.7,1290.9 1625.7,1291.7 1628.7,1292.5 1631.7,1293.3 1634.7,1294.2 1637.8,1295.1 1640.8,1296.1 1643.8,1297.1 1646.8,1298.2 1649.8,1299.3 1649.8,1365.2 1646.8,1363.3 1643.8,1361.5 1640.8,1359.7 1637.8,1357.9 1634.7,1356.2 1631.7,1354.5 1628.7,1352.9 1625.7,1351.3 1622.7,1349.8 1619.7,1348.3 1616.7,1346.8 1613.6,1345.4 1610.6,1344 1607.6,1342.7 1604.6,1341.4 1601.6,1340.1 1598.6,1338.9 1595.6,1337.7 1592.6,1336.5 1589.5,1335.4 1586.5,1334.3 1583.5,1333.2 1580.5,1332.2 1577.5,1331.2 1574.5,1330.2 1571.5,1329.3 1568.4,1328.4 1565.4,1327.5 1562.4,1326.7 1559.4,1325.9 1556.4,1325.1 1553.4,1324.3 1550.4,1323.6 1547.4,1323 1544.3,1322.4 1541.3,1321.9 1538.3,1321.4 1535.3,1320.9 1532.3,1320.4 1529.3,1320 1526.3,1319.6 1523.2,1319.2 1520.2,1318.8 1517.2,1318.4 1514.2,1318.1 1511.2,1317.8 1508.2,1317.5 1505.2,1317.2 1502.2,1316.9 1499.1,1316.7 1496.1,1316.4 1493.1,1316.2 1490.1,1316 1487.1,1315.8 1484.1,1315.6 1481.1,1315.4 1478,1315.2 1475,1315.1 1472,1314.9 1469,1314.8 1466,1314.7 1463,1314.5 1460,1314.4 1457,1314.3 1453.9,1314.2 1450.9,1314.1 1447.9,1314 1444.9,1313.9 1441.9,1313.9 1438.9,1313.8 1435.9,1313.7 1432.8,1313.6 1429.8,1313.5 1426.8,1313.5 1423.8,1313.4 1420.8,1313.4 1417.8,1313.3 1414.8,1313.3 1411.8,1313.3 1408.7,1313.2 1405.7,1313.2 1402.7,1313.2 1399.7,1313.2 1396.7,1313.4 1393.7,1313.5 1390.7,1313.7 1387.7,1313.8 1384.6,1314 1381.6,1314.2 1378.6,1314.4 1375.6,1314.6 1372.6,1314.8 1369.6,1315.1 1366.6,1315.3 1363.5,1315.6 1360.5,1315.9 1357.5,1316.1 1354.5,1316.5 1351.5,1316.8 1348.5,1317.1 1345.5,1317.5 1342.5,1317.9 1339.4,1318.2 1336.4,1318.7 1333.4,1319.1 1330.4,1319.5 1327.4,1320 1324.4,1320.5 1321.4,1321 1318.3,1321.5 1315.3,1322 1312.3,1322.6 1309.3,1323.2 1306.3,1323.8 1303.3,1324.4 1300.3,1325.1 1297.3,1325.8 1294.2,1326.5 1291.2,1327.2 1288.2,1327.9 1285.2,1328.7 1282.2,1329.5 1279.2,1330.3 1276.2,1331.2 1273.1,1332.1 1270.1,1333 1267.1,1333.9 1264.1,1334.9 1261.1,1335.8 1258.1,1336.8 1255.1,1337.9 1252.1,1339 1249,1340.1 1246,1341.3 1243,1342.5 1240,1343.8 1237,1345 1234,1346.4 1231,1347.7 1227.9,1349.1 1224.9,1350.5 1221.9,1351.9 1218.9,1353.4 1215.9,1354.9 1212.9,1356.5 1209.9,1358.1 1206.9,1359.7 1203.8,1361.3 1200.8,1363 1197.8,1364.7 1194.8,1366.5 1191.8,1368.2 1188.8,1370 1185.8,1371.8 1182.7,1373.7 1179.7,1375.6 1176.7,1377.5 1173.7,1379.4 1170.7,1381.3 1167.7,1383.3 1164.7,1385.3 1161.7,1387.3 1158.6,1389.4 1155.6,1391.4 1152.6,1393.5 1149.6,1395.6 1146.6,1397.7 1143.6,1399.8 1140.6,1402 1137.5,1404.2 1134.5,1406.4 1131.5,1408.6 1128.5,1410.8 1125.5,1413 1122.5,1415.3 1119.5,1417.5 1116.5,1419.8 1113.4,1422.1 1110.4,1424.4 1107.4,1426.7 1104.4,1429 1101.4,1431.3 1098.4,1433.7 1095.4,1436.1 1092.3,1438.5 1089.3,1440.9 1086.3,1443.4 1083.3,1445.8 1080.3,1448.2 1077.3,1450.7 1074.3,1453.1 1071.3,1455.6 1068.2,1458 1065.2,1460.5 1062.2,1462.9 1059.2,1465.4 1056.2,1467.8 1053.2,1470.2 1050.2,1472.7 1047.2,1475.1 1044.1,1477.6 1041.1,1480 1038.1,1482.4 1035.1,1484.8 1032.1,1487.3 1029.1,1489.7 1026.1,1492.1 1023,1494.5 1020,1496.8 1017,1499.2 1014,1501.6 1011,1503.9 1008,1506.2 1005,1508.6 1002,1510.8 998.9,1513.1 995.9,1515.4 992.9,1517.6 989.9,1519.8 986.9,1522 983.9,1524.2 980.9,1526.3 977.8,1528.4 974.8,1530.5 971.8,1532.6 968.8,1534.6 965.8,1536.6 962.8,1538.5 959.8,1540.4 956.8,1542.3 953.7,1544.2 950.7,1546 947.7,1547.7 944.7,1549.4 941.7,1551.1 938.7,1552.7 935.7,1554.3 932.6,1555.8 929.6,1557.3 926.6,1558.7 923.6,1560.1 920.6,1561.4 917.6,1562.6 914.6,1563.8 911.6,1564.9 908.5,1566 905.5,1567 902.5,1568 899.5,1569 896.5,1569.9 893.5,1570.7 890.5,1571.5 887.4,1572.2 884.4,1572.9 881.4,1573.6 878.4,1574.2 875.4,1574.8 872.4,1575.3 869.4,1575.7 866.4,1576.2 863.3,1576.6 860.3,1576.9 857.3,1577.2 854.3,1577.5 851.3,1577.7 848.3,1577.9 845.3,1578.1 842.2,1578.2 839.2,1578.3 836.2,1578.3 833.2,1578.4 830.2,1578.4 827.2,1578.3 824.2,1578.3 821.2,1578.2 818.1,1578 815.1,1577.9 812.1,1577.7 809.1,1577.5 806.1,1577.3 803.1,1577.1 800.1,1576.8 797,1576.5 794,1576.2 791,1575.9" fill="#92C5DE" fill-opacity="0.5" clip-path="url(#cD)"/>
<g fill="#92C5DE"><polygon points="791,1570.7 780.8,1552.9 801.3,1552.9"/><polygon points="866,1568.3 855.8,1550.5 876.3,1550.5"/><polygon points="909,1556.2 898.8,1538.4 919.3,1538.4"/><polygon points="909,1571.9 898.8,1554.1 919.3,1554.1"/><polygon points="946.5,1526 936.3,1508.2 956.8,1508.2"/><polygon points="946.5,1545.3 936.3,1527.5 956.8,1527.5"/><polygon points="946.5,1568.3 936.3,1550.5 956.8,1550.5"/><polygon points="984.1,1496.9 973.8,1479.1 994.3,1479.1"/><polygon points="984.1,1527.2 973.8,1509.4 994.3,1509.4"/><polygon points="984.1,1550.2 973.8,1532.4 994.3,1532.4"/><polygon points="984.1,1565.9 973.8,1548.1 994.3,1548.1"/><polygon points="1027.6,1441.3 1017.4,1423.5 1037.9,1423.5"/><polygon points="1027.6,1475.2 1017.4,1457.4 1037.9,1457.4"/><polygon points="1027.6,1505.4 1017.4,1487.6 1037.9,1487.6"/><polygon points="1027.6,1511.5 1017.4,1493.7 1037.9,1493.7"/><polygon points="1027.6,1530.8 1017.4,1513 1037.9,1513"/><polygon points="1071.2,1413.4 1060.9,1395.6 1081.4,1395.6"/><polygon points="1071.2,1432.8 1060.9,1415 1081.4,1415"/><polygon points="1071.2,1463.1 1060.9,1445.3 1081.4,1445.3"/><polygon points="1071.2,1493.3 1060.9,1475.5 1081.4,1475.5"/><polygon points="1114.7,1396.5 1104.5,1378.7 1125,1378.7"/><polygon points="1114.7,1428 1104.5,1410.2 1125,1410.2"/><polygon points="1114.7,1435.2 1104.5,1417.4 1125,1417.4"/><polygon points="1114.7,1455.8 1104.5,1438 1125,1438"/><polygon points="1152.2,1354.2 1142,1336.4 1162.5,1336.4"/><polygon points="1152.2,1367.5 1142,1349.7 1162.5,1349.7"/><polygon points="1152.2,1406.2 1142,1388.4 1162.5,1388.4"/><polygon points="1152.2,1426.8 1142,1409 1162.5,1409"/><polygon points="1213.9,1334.8 1203.7,1317 1224.2,1317"/><polygon points="1213.9,1345.7 1203.7,1327.9 1224.2,1327.9"/><polygon points="1213.9,1371.1 1203.7,1353.3 1224.2,1353.3"/><polygon points="1213.9,1389.3 1203.7,1371.5 1224.2,1371.5"/><polygon points="1250,1326.9 1239.8,1309.1 1260.2,1309.1"/><polygon points="1250,1356.2 1239.8,1338.4 1260.2,1338.4"/><polygon points="1301.2,1297.7 1290.9,1279.9 1311.4,1279.9"/><polygon points="1301.2,1317.2 1290.9,1299.4 1311.4,1299.4"/><polygon points="1345.1,1305 1334.8,1287.2 1355.3,1287.2"/><polygon points="1345.1,1324.5 1334.8,1306.7 1355.3,1306.7"/><polygon points="1387.7,1297.7 1377.5,1279.9 1398,1279.9"/><polygon points="1387.7,1329.3 1377.5,1311.5 1398,1311.5"/><polygon points="1425.5,1300.1 1415.3,1282.3 1435.8,1282.3"/><polygon points="1425.5,1312.3 1415.3,1294.5 1435.8,1294.5"/><polygon points="1469.4,1331.8 1459.2,1314 1479.7,1314"/><polygon points="1513.3,1324.5 1503,1306.7 1523.5,1306.7"/></g>
<polyline points="791,1567.9 794,1568.2 797,1568.5 800.1,1568.8 803.1,1569.1 806.1,1569.3 809.1,1569.5 812.1,1569.7 815.1,1569.9 818.1,1570 821.2,1570.2 824.2,1570.3 827.2,1570.3 830.2,1570.4 833.2,1570.4 836.2,1570.3 839.2,1570.3 842.2,1570.2 845.3,1570.1 848.3,1569.9 851.3,1569.7 854.3,1569.5 857.3,1569.2 860.3,1568.9 863.3,1568.6 866.4,1568.2 869.4,1567.7 872.4,1567.3 875.4,1566.8 878.4,1566.2 881.4,1565.6 884.4,1564.9 887.4,1564.2 890.5,1563.5 893.5,1562.7 896.5,1561.9 899.5,1561 902.5,1560 905.5,1559 908.5,1558 911.6,1556.9 914.6,1555.8 917.6,1554.6 920.6,1553.4 923.6,1552.1 926.6,1550.7 929.6,1549.4 932.6,1547.9 935.7,1546.4 938.7,1544.9 941.7,1543.3 944.7,1541.7 947.7,1540.1 950.7,1538.3 953.7,1536.6 956.8,1534.8 959.8,1533 962.8,1531.1 965.8,1529.2 968.8,1527.3 971.8,1525.3 974.8,1523.3 977.8,1521.3 980.9,1519.2 983.9,1517.2 986.9,1515 989.9,1512.9 992.9,1510.8 995.9,1508.6 998.9,1506.4 1002,1504.1 1005,1501.9 1008,1499.6 1011,1497.4 1014,1495.1 1017,1492.8 1020,1490.4 1023,1488.1 1026.1,1485.8 1029.1,1483.4 1032.1,1481.1 1035.1,1478.7 1038.1,1476.3 1041.1,1474 1044.1,1471.6 1047.2,1469.2 1050.2,1466.8 1053.2,1464.4 1056.2,1462 1059.2,1459.6 1062.2,1457.2 1065.2,1454.8 1068.2,1452.5 1071.3,1450.1 1074.3,1447.7 1077.3,1445.3 1080.3,1442.9 1083.3,1440.5 1086.3,1438.1 1089.3,1435.7 1092.3,1433.4 1095.4,1431 1098.4,1428.6 1101.4,1426.3 1104.4,1424 1107.4,1421.6 1110.4,1419.3 1113.4,1417 1116.5,1414.7 1119.5,1412.4 1122.5,1410.1 1125.5,1407.8 1128.5,1405.6 1131.5,1403.4 1134.5,1401.1 1137.5,1398.9 1140.6,1396.7 1143.6,1394.6 1146.6,1392.4 1149.6,1390.3 1152.6,1388.1 1155.6,1386 1158.6,1384 1161.7,1381.9 1164.7,1379.9 1167.7,1377.8 1170.7,1375.9 1173.7,1373.9 1176.7,1371.9 1179.7,1370 1182.7,1368.1 1185.8,1366.3 1188.8,1364.4 1191.8,1362.6 1194.8,1360.8 1197.8,1359.1 1200.8,1357.3 1203.8,1355.6 1206.9,1354 1209.9,1352.3 1212.9,1350.7 1215.9,1349.2 1218.9,1347.6 1221.9,1346.1 1224.9,1344.7 1227.9,1343.2 1231,1341.8 1234,1340.5 1237,1339.1 1240,1337.8 1243,1336.5 1246,1335.3 1249,1334.1 1252.1,1332.9 1255.1,1331.8 1258.1,1330.6 1261.1,1329.5 1264.1,1328.5 1267.1,1327.4 1270.1,1326.4 1273.1,1325.4 1276.2,1324.5 1279.2,1323.6 1282.2,1322.7 1285.2,1321.8 1288.2,1320.9 1291.2,1320.1 1294.2,1319.3 1297.3,1318.5 1300.3,1317.8 1303.3,1317 1306.3,1316.3 1309.3,1315.6 1312.3,1314.9 1315.3,1314.3 1318.3,1313.7 1321.4,1313.1 1324.4,1312.5 1327.4,1311.9 1330.4,1311.4 1333.4,1310.9 1336.4,1310.3 1339.4,1309.9 1342.5,1309.4 1345.5,1308.9 1348.5,1308.5 1351.5,1308.1 1354.5,1307.7 1357.5,1307.3 1360.5,1306.9 1363.5,1306.5 1366.6,1306.2 1369.6,1305.9 1372.6,1305.6 1375.6,1305.3 1378.6,1305 1381.6,1304.7 1384.6,1304.4 1387.7,1304.2 1390.7,1303.9 1393.7,1303.7 1396.7,1303.5 1399.7,1303.2 1402.7,1303 1405.7,1302.8 1408.7,1302.7 1411.8,1302.5 1414.8,1302.3 1417.8,1302.1 1420.8,1302 1423.8,1301.8 1426.8,1301.7 1429.8,1301.6 1432.8,1301.4 1435.9,1301.3 1438.9,1301.2 1441.9,1301.1 1444.9,1300.9 1447.9,1300.8 1450.9,1300.7 1453.9,1300.6 1457,1300.5 1460,1300.4 1463,1300.3 1466,1300.3 1469,1300.2 1472,1300.1 1475,1300.1 1478,1300 1481.1,1300 1484.1,1300 1487.1,1300 1490.1,1300 1493.1,1300 1496.1,1300 1499.1,1300.1 1502.2,1300.1 1505.2,1300.2 1508.2,1300.3 1511.2,1300.4 1514.2,1300.5 1517.2,1300.6 1520.2,1300.8 1523.2,1301 1526.3,1301.2 1529.3,1301.4 1532.3,1301.6 1535.3,1301.9 1538.3,1302.2 1541.3,1302.5 1544.3,1302.8 1547.4,1303.2 1550.4,1303.5 1553.4,1303.9 1556.4,1304.4 1559.4,1304.8 1562.4,1305.3 1565.4,1305.8 1568.4,1306.4 1571.5,1306.9 1574.5,1307.5 1577.5,1308.2 1580.5,1308.8 1583.5,1309.5 1586.5,1310.3 1589.5,1311 1592.6,1311.8 1595.6,1312.7 1598.6,1313.5 1601.6,1314.4 1604.6,1315.4 1607.6,1316.3 1610.6,1317.3 1613.6,1318.4 1616.7,1319.5 1619.7,1320.6 1622.7,1321.8 1625.7,1323 1628.7,1324.3 1631.7,1325.6 1634.7,1326.9 1637.8,1328.3 1640.8,1329.7 1643.8,1331.2 1646.8,1332.7 1649.8,1334.3" fill="none" stroke="#000" stroke-width="3" stroke-linejoin="round" stroke-linecap="butt" clip-path="url(#cD)"/>
<polygon points="1033.7,1550.8 1036.7,1548.5 1039.7,1546.2 1042.7,1544 1045.7,1541.7 1048.8,1539.4 1051.8,1537.1 1054.8,1534.9 1057.8,1532.6 1060.8,1530.3 1063.9,1528 1066.9,1525.7 1069.9,1523.4 1072.9,1521.1 1075.9,1518.8 1079,1516.5 1082,1514.2 1085,1511.9 1088,1509.6 1091,1507.3 1094.1,1505 1097.1,1502.8 1100.1,1500.5 1103.1,1498.2 1106.1,1495.9 1109.2,1493.6 1112.2,1491.3 1115.2,1489.1 1118.2,1486.8 1121.2,1484.6 1124.3,1482.1 1127.3,1479.6 1130.3,1477.1 1133.3,1474.7 1136.4,1472.2 1139.4,1469.7 1142.4,1467.3 1145.4,1464.8 1148.4,1462.4 1151.5,1460 1154.5,1457.5 1157.5,1455.1 1160.5,1452.7 1163.5,1450.3 1166.6,1447.9 1169.6,1445.6 1172.6,1443.2 1175.6,1440.8 1178.6,1438.5 1181.7,1436.2 1184.7,1433.9 1187.7,1431.6 1190.7,1429.3 1193.7,1427 1196.8,1424.7 1199.8,1422.5 1202.8,1420.2 1205.8,1418 1208.8,1415.8 1211.9,1413.6 1214.9,1411.5 1217.9,1409.3 1220.9,1407.2 1223.9,1405 1227,1402.9 1230,1400.9 1233,1398.8 1236,1396.7 1239,1394.7 1242.1,1392.7 1245.1,1390.7 1248.1,1388.7 1251.1,1386.7 1254.1,1384.8 1257.2,1382.8 1260.2,1380.9 1263.2,1379 1266.2,1377.2 1269.2,1375.3 1272.3,1373.5 1275.3,1371.6 1278.3,1369.8 1281.3,1368 1284.3,1366.3 1287.4,1364.5 1290.4,1362.8 1293.4,1361.1 1296.4,1359.4 1299.4,1357.7 1302.5,1356 1305.5,1354.3 1308.5,1352.7 1311.5,1351 1314.5,1349.4 1317.6,1347.8 1320.6,1346.2 1323.6,1344.6 1326.6,1343.1 1329.7,1341.6 1332.7,1340 1335.7,1338.6 1338.7,1337.1 1341.7,1335.6 1344.8,1334.2 1347.8,1332.8 1350.8,1331.4 1353.8,1330 1356.8,1328.7 1359.9,1327.4 1362.9,1326.1 1365.9,1324.8 1368.9,1323.5 1371.9,1322.3 1375,1321 1378,1319.8 1381,1318.6 1384,1317.5 1387,1316.3 1390.1,1315.2 1393.1,1314.1 1396.1,1313.1 1399.1,1312 1402.1,1311 1405.2,1310 1408.2,1309 1411.2,1308 1414.2,1307 1417.2,1306.1 1420.3,1305.2 1423.3,1304.3 1426.3,1303.4 1429.3,1302.6 1432.3,1301.8 1435.4,1301 1438.4,1300.2 1441.4,1299.4 1444.4,1298.7 1447.4,1298 1450.5,1297.3 1453.5,1296.6 1456.5,1295.9 1459.5,1295.3 1462.5,1294.7 1465.6,1294.1 1468.6,1293.5 1471.6,1293 1474.6,1292.4 1477.6,1291.9 1480.7,1291.5 1483.7,1291 1486.7,1290.5 1489.7,1290.1 1492.7,1289.7 1495.8,1289.3 1498.8,1289 1501.8,1288.7 1504.8,1288.3 1507.9,1288 1510.9,1287.8 1513.9,1287.5 1516.9,1287.3 1519.9,1287.1 1523,1286.9 1526,1286.7 1529,1286.6 1532,1286.5 1535,1286.4 1538.1,1286.3 1541.1,1286.2 1544.1,1286.2 1547.1,1286.2 1550.1,1286.2 1553.2,1286.2 1556.2,1286.3 1559.2,1286.3 1562.2,1286.4 1565.2,1286.5 1568.3,1286.7 1571.3,1286.8 1574.3,1287 1577.3,1287.2 1580.3,1287.4 1583.4,1287.7 1586.4,1287.9 1589.4,1288.2 1592.4,1288.5 1595.4,1288.9 1598.5,1289.2 1601.5,1289.6 1604.5,1290 1607.5,1290.4 1610.5,1290.8 1613.6,1291.3 1616.6,1291.8 1619.6,1292.3 1622.6,1292.8 1625.6,1293.4 1628.7,1293.9 1631.7,1294.5 1634.7,1295.1 1637.7,1295.8 1640.7,1296.4 1643.8,1297.1 1646.8,1297.8 1649.8,1298.5 1649.8,1328.5 1646.8,1327.7 1643.8,1326.9 1640.7,1326.1 1637.7,1325.3 1634.7,1324.6 1631.7,1323.9 1628.7,1323.2 1625.6,1322.5 1622.6,1321.9 1619.6,1321.2 1616.6,1320.6 1613.6,1320 1610.5,1319.5 1607.5,1318.9 1604.5,1318.4 1601.5,1317.9 1598.5,1317.4 1595.4,1317 1592.4,1316.5 1589.4,1316.1 1586.4,1315.7 1583.4,1315.4 1580.3,1315 1577.3,1314.7 1574.3,1314.4 1571.3,1314.1 1568.3,1313.8 1565.2,1313.6 1562.2,1313.4 1559.2,1313.2 1556.2,1313 1553.2,1312.8 1550.1,1312.7 1547.1,1312.6 1544.1,1312.5 1541.1,1312.4 1538.1,1312.4 1535,1312.4 1532,1312.4 1529,1312.4 1526,1312.4 1523,1312.5 1519.9,1312.6 1516.9,1312.7 1513.9,1312.8 1510.9,1312.9 1507.9,1313.1 1504.8,1313.3 1501.8,1313.5 1498.8,1313.7 1495.8,1314 1492.7,1314.3 1489.7,1314.6 1486.7,1314.9 1483.7,1315.2 1480.7,1315.6 1477.6,1315.9 1474.6,1316.3 1471.6,1316.8 1468.6,1317.2 1465.6,1317.7 1462.5,1318.2 1459.5,1318.7 1456.5,1319.2 1453.5,1319.8 1450.5,1320.3 1447.4,1320.9 1444.4,1321.5 1441.4,1322.2 1438.4,1322.8 1435.4,1323.5 1432.3,1324.2 1429.3,1324.9 1426.3,1325.7 1423.3,1326.4 1420.3,1327.2 1417.2,1328 1414.2,1328.8 1411.2,1329.7 1408.2,1330.6 1405.2,1331.5 1402.1,1332.4 1399.1,1333.3 1396.1,1334.3 1393.1,1335.2 1390.1,1336.2 1387,1337.2 1384,1338.3 1381,1339.3 1378,1340.4 1375,1341.5 1371.9,1342.7 1368.9,1343.8 1365.9,1345 1362.9,1346.1 1359.9,1347.4 1356.8,1348.6 1353.8,1349.8 1350.8,1351.1 1347.8,1352.4 1344.8,1353.7 1341.7,1355 1338.7,1356.4 1335.7,1357.7 1332.7,1359.1 1329.7,1360.5 1326.6,1362 1323.6,1363.4 1320.6,1364.9 1317.6,1366.4 1314.5,1367.9 1311.5,1369.4 1308.5,1371 1305.5,1372.5 1302.5,1374.1 1299.4,1375.7 1296.4,1377.4 1293.4,1379.1 1290.4,1380.8 1287.4,1382.5 1284.3,1384.3 1281.3,1386 1278.3,1387.8 1275.3,1389.6 1272.3,1391.5 1269.2,1393.3 1266.2,1395.2 1263.2,1397 1260.2,1398.9 1257.2,1400.8 1254.1,1402.8 1251.1,1404.7 1248.1,1406.7 1245.1,1408.7 1242.1,1410.7 1239,1412.7 1236,1414.7 1233,1416.8 1230,1418.9 1227,1420.9 1223.9,1423 1220.9,1425.2 1217.9,1427.3 1214.9,1429.5 1211.9,1431.6 1208.8,1433.8 1205.8,1436 1202.8,1438.2 1199.8,1440.5 1196.8,1442.7 1193.7,1445 1190.7,1447.3 1187.7,1449.6 1184.7,1451.9 1181.7,1454.2 1178.6,1456.5 1175.6,1458.8 1172.6,1461.2 1169.6,1463.6 1166.6,1465.9 1163.5,1468.3 1160.5,1470.7 1157.5,1473.1 1154.5,1475.5 1151.5,1478 1148.4,1480.4 1145.4,1482.8 1142.4,1485.3 1139.4,1487.7 1136.4,1490.2 1133.3,1492.7 1130.3,1495.1 1127.3,1497.6 1124.3,1500.1 1121.2,1502.7 1118.2,1505.4 1115.2,1508.2 1112.2,1510.9 1109.2,1513.7 1106.1,1516.4 1103.1,1519.2 1100.1,1521.9 1097.1,1524.7 1094.1,1527.5 1091,1530.3 1088,1533 1085,1535.8 1082,1538.6 1079,1541.4 1075.9,1544.1 1072.9,1546.9 1069.9,1549.7 1066.9,1552.5 1063.9,1555.2 1060.8,1558 1057.8,1560.8 1054.8,1563.5 1051.8,1566.3 1048.8,1569.1 1045.7,1571.8 1042.7,1574.6 1039.7,1577.3 1036.7,1580.1 1033.7,1582.8" fill="#0571B0" fill-opacity="0.5" clip-path="url(#cD)"/>
<g fill="#0571B0"><polygon points="1033.7,1552.9 1023.4,1570.7 1043.9,1570.7"/><polygon points="1102.1,1474.3 1091.9,1492.1 1112.4,1492.1"/><polygon points="1102.1,1492.4 1091.9,1510.2 1112.4,1510.2"/><polygon points="1102.1,1519.1 1091.9,1536.9 1112.4,1536.9"/><polygon points="1102.1,1536 1091.9,1553.8 1112.4,1553.8"/><polygon points="1102.1,1542 1091.9,1559.8 1112.4,1559.8"/><polygon points="1145.5,1439.2 1135.2,1457 1155.7,1457"/><polygon points="1145.5,1459.8 1135.2,1477.6 1155.7,1477.6"/><polygon points="1145.5,1482.8 1135.2,1500.6 1155.7,1500.6"/><polygon points="1145.5,1487.6 1135.2,1505.4 1155.7,1505.4"/><polygon points="1183.7,1398.1 1173.4,1415.9 1193.9,1415.9"/><polygon points="1183.7,1427.1 1173.4,1444.9 1193.9,1444.9"/><polygon points="1183.7,1444 1173.4,1461.8 1193.9,1461.8"/><polygon points="1183.7,1467 1173.4,1484.8 1193.9,1484.8"/><polygon points="1226.5,1386 1216.3,1403.8 1236.8,1403.8"/><polygon points="1226.5,1398.1 1216.3,1415.9 1236.8,1415.9"/><polygon points="1226.5,1418.6 1216.3,1436.4 1236.8,1436.4"/><polygon points="1226.5,1436.8 1216.3,1454.6 1236.8,1454.6"/><polygon points="1226.5,1453.7 1216.3,1471.5 1236.8,1471.5"/><polygon points="1276.3,1337.1 1266.1,1354.9 1286.6,1354.9"/><polygon points="1276.3,1344.5 1266.1,1362.3 1286.6,1362.3"/><polygon points="1276.3,1362.7 1266.1,1380.5 1286.6,1380.5"/><polygon points="1276.3,1377.4 1266.1,1395.2 1286.6,1395.2"/><polygon points="1276.3,1399.3 1266.1,1417.1 1286.6,1417.1"/><polygon points="1313.9,1288.4 1303.6,1306.2 1324.1,1306.2"/><polygon points="1313.9,1316.4 1303.6,1334.2 1324.1,1334.2"/><polygon points="1313.9,1328.6 1303.6,1346.4 1324.1,1346.4"/><polygon points="1313.9,1348.1 1303.6,1365.9 1324.1,1365.9"/><polygon points="1369.5,1299.4 1359.2,1317.2 1379.7,1317.2"/><polygon points="1369.5,1306.7 1359.2,1324.5 1379.7,1324.5"/><polygon points="1369.5,1314 1359.2,1331.8 1379.7,1331.8"/><polygon points="1369.5,1323.7 1359.2,1341.5 1379.7,1341.5"/><polygon points="1369.5,1331.1 1359.2,1348.9 1379.7,1348.9"/><polygon points="1413.3,1277.4 1403.1,1295.2 1423.6,1295.2"/><polygon points="1413.3,1314 1403.1,1331.8 1423.6,1331.8"/><polygon points="1413.3,1335.9 1403.1,1353.7 1423.6,1353.7"/><polygon points="1413.3,1353 1403.1,1370.8 1423.6,1370.8"/><polygon points="1413.3,1384.7 1403.1,1402.5 1423.6,1402.5"/><polygon points="1469.4,1272.5 1459.2,1290.3 1479.7,1290.3"/><polygon points="1469.4,1279.9 1459.2,1297.7 1479.7,1297.7"/><polygon points="1469.4,1287.2 1459.2,1305 1479.7,1305"/><polygon points="1469.4,1294.5 1459.2,1312.3 1479.7,1312.3"/><polygon points="1506,1275 1495.7,1292.8 1516.2,1292.8"/><polygon points="1506,1304.2 1495.7,1322 1516.2,1322"/><polygon points="1549.9,1275 1539.6,1292.8 1560.1,1292.8"/><polygon points="1549.9,1289.6 1539.6,1307.4 1560.1,1307.4"/><polygon points="1618.8,1286 1608.6,1303.8 1629.1,1303.8"/><polygon points="1618.8,1301.8 1608.6,1319.6 1629.1,1319.6"/><polygon points="1618.8,1311.5 1608.6,1329.3 1629.1,1329.3"/><polygon points="1618.8,1338.4 1608.6,1356.2 1629.1,1356.2"/></g>
<polyline points="1033.7,1566.8 1036.7,1564.3 1039.7,1561.8 1042.7,1559.3 1045.7,1556.8 1048.8,1554.2 1051.8,1551.7 1054.8,1549.2 1057.8,1546.7 1060.8,1544.1 1063.9,1541.6 1066.9,1539.1 1069.9,1536.5 1072.9,1534 1075.9,1531.5 1079,1528.9 1082,1526.4 1085,1523.9 1088,1521.3 1091,1518.8 1094.1,1516.3 1097.1,1513.7 1100.1,1511.2 1103.1,1508.7 1106.1,1506.2 1109.2,1503.6 1112.2,1501.1 1115.2,1498.6 1118.2,1496.1 1121.2,1493.6 1124.3,1491.1 1127.3,1488.6 1130.3,1486.1 1133.3,1483.7 1136.4,1481.2 1139.4,1478.7 1142.4,1476.3 1145.4,1473.8 1148.4,1471.4 1151.5,1469 1154.5,1466.5 1157.5,1464.1 1160.5,1461.7 1163.5,1459.3 1166.6,1456.9 1169.6,1454.6 1172.6,1452.2 1175.6,1449.8 1178.6,1447.5 1181.7,1445.2 1184.7,1442.9 1187.7,1440.6 1190.7,1438.3 1193.7,1436 1196.8,1433.7 1199.8,1431.5 1202.8,1429.2 1205.8,1427 1208.8,1424.8 1211.9,1422.6 1214.9,1420.5 1217.9,1418.3 1220.9,1416.2 1223.9,1414 1227,1411.9 1230,1409.9 1233,1407.8 1236,1405.7 1239,1403.7 1242.1,1401.7 1245.1,1399.7 1248.1,1397.7 1251.1,1395.7 1254.1,1393.8 1257.2,1391.8 1260.2,1389.9 1263.2,1388 1266.2,1386.2 1269.2,1384.3 1272.3,1382.5 1275.3,1380.6 1278.3,1378.8 1281.3,1377 1284.3,1375.3 1287.4,1373.5 1290.4,1371.8 1293.4,1370.1 1296.4,1368.4 1299.4,1366.7 1302.5,1365.1 1305.5,1363.4 1308.5,1361.8 1311.5,1360.2 1314.5,1358.6 1317.6,1357.1 1320.6,1355.5 1323.6,1354 1326.6,1352.5 1329.7,1351 1332.7,1349.6 1335.7,1348.1 1338.7,1346.7 1341.7,1345.3 1344.8,1344 1347.8,1342.6 1350.8,1341.3 1353.8,1339.9 1356.8,1338.6 1359.9,1337.4 1362.9,1336.1 1365.9,1334.9 1368.9,1333.6 1371.9,1332.5 1375,1331.3 1378,1330.1 1381,1329 1384,1327.9 1387,1326.8 1390.1,1325.7 1393.1,1324.7 1396.1,1323.7 1399.1,1322.7 1402.1,1321.7 1405.2,1320.7 1408.2,1319.8 1411.2,1318.8 1414.2,1317.9 1417.2,1317.1 1420.3,1316.2 1423.3,1315.4 1426.3,1314.6 1429.3,1313.8 1432.3,1313 1435.4,1312.2 1438.4,1311.5 1441.4,1310.8 1444.4,1310.1 1447.4,1309.4 1450.5,1308.8 1453.5,1308.2 1456.5,1307.6 1459.5,1307 1462.5,1306.4 1465.6,1305.9 1468.6,1305.4 1471.6,1304.9 1474.6,1304.4 1477.6,1303.9 1480.7,1303.5 1483.7,1303.1 1486.7,1302.7 1489.7,1302.3 1492.7,1302 1495.8,1301.7 1498.8,1301.4 1501.8,1301.1 1504.8,1300.8 1507.9,1300.6 1510.9,1300.4 1513.9,1300.2 1516.9,1300 1519.9,1299.8 1523,1299.7 1526,1299.6 1529,1299.5 1532,1299.4 1535,1299.4 1538.1,1299.3 1541.1,1299.3 1544.1,1299.3 1547.1,1299.4 1550.1,1299.4 1553.2,1299.5 1556.2,1299.6 1559.2,1299.8 1562.2,1299.9 1565.2,1300.1 1568.3,1300.3 1571.3,1300.5 1574.3,1300.7 1577.3,1300.9 1580.3,1301.2 1583.4,1301.5 1586.4,1301.8 1589.4,1302.2 1592.4,1302.5 1595.4,1302.9 1598.5,1303.3 1601.5,1303.8 1604.5,1304.2 1607.5,1304.7 1610.5,1305.2 1613.6,1305.7 1616.6,1306.2 1619.6,1306.8 1622.6,1307.3 1625.6,1307.9 1628.7,1308.6 1631.7,1309.2 1634.7,1309.9 1637.7,1310.6 1640.7,1311.3 1643.8,1312 1646.8,1312.7 1649.8,1313.5" fill="none" stroke="#000" stroke-width="3" stroke-linejoin="round" stroke-linecap="butt" clip-path="url(#cD)"/>
</svg>
</body></html>
